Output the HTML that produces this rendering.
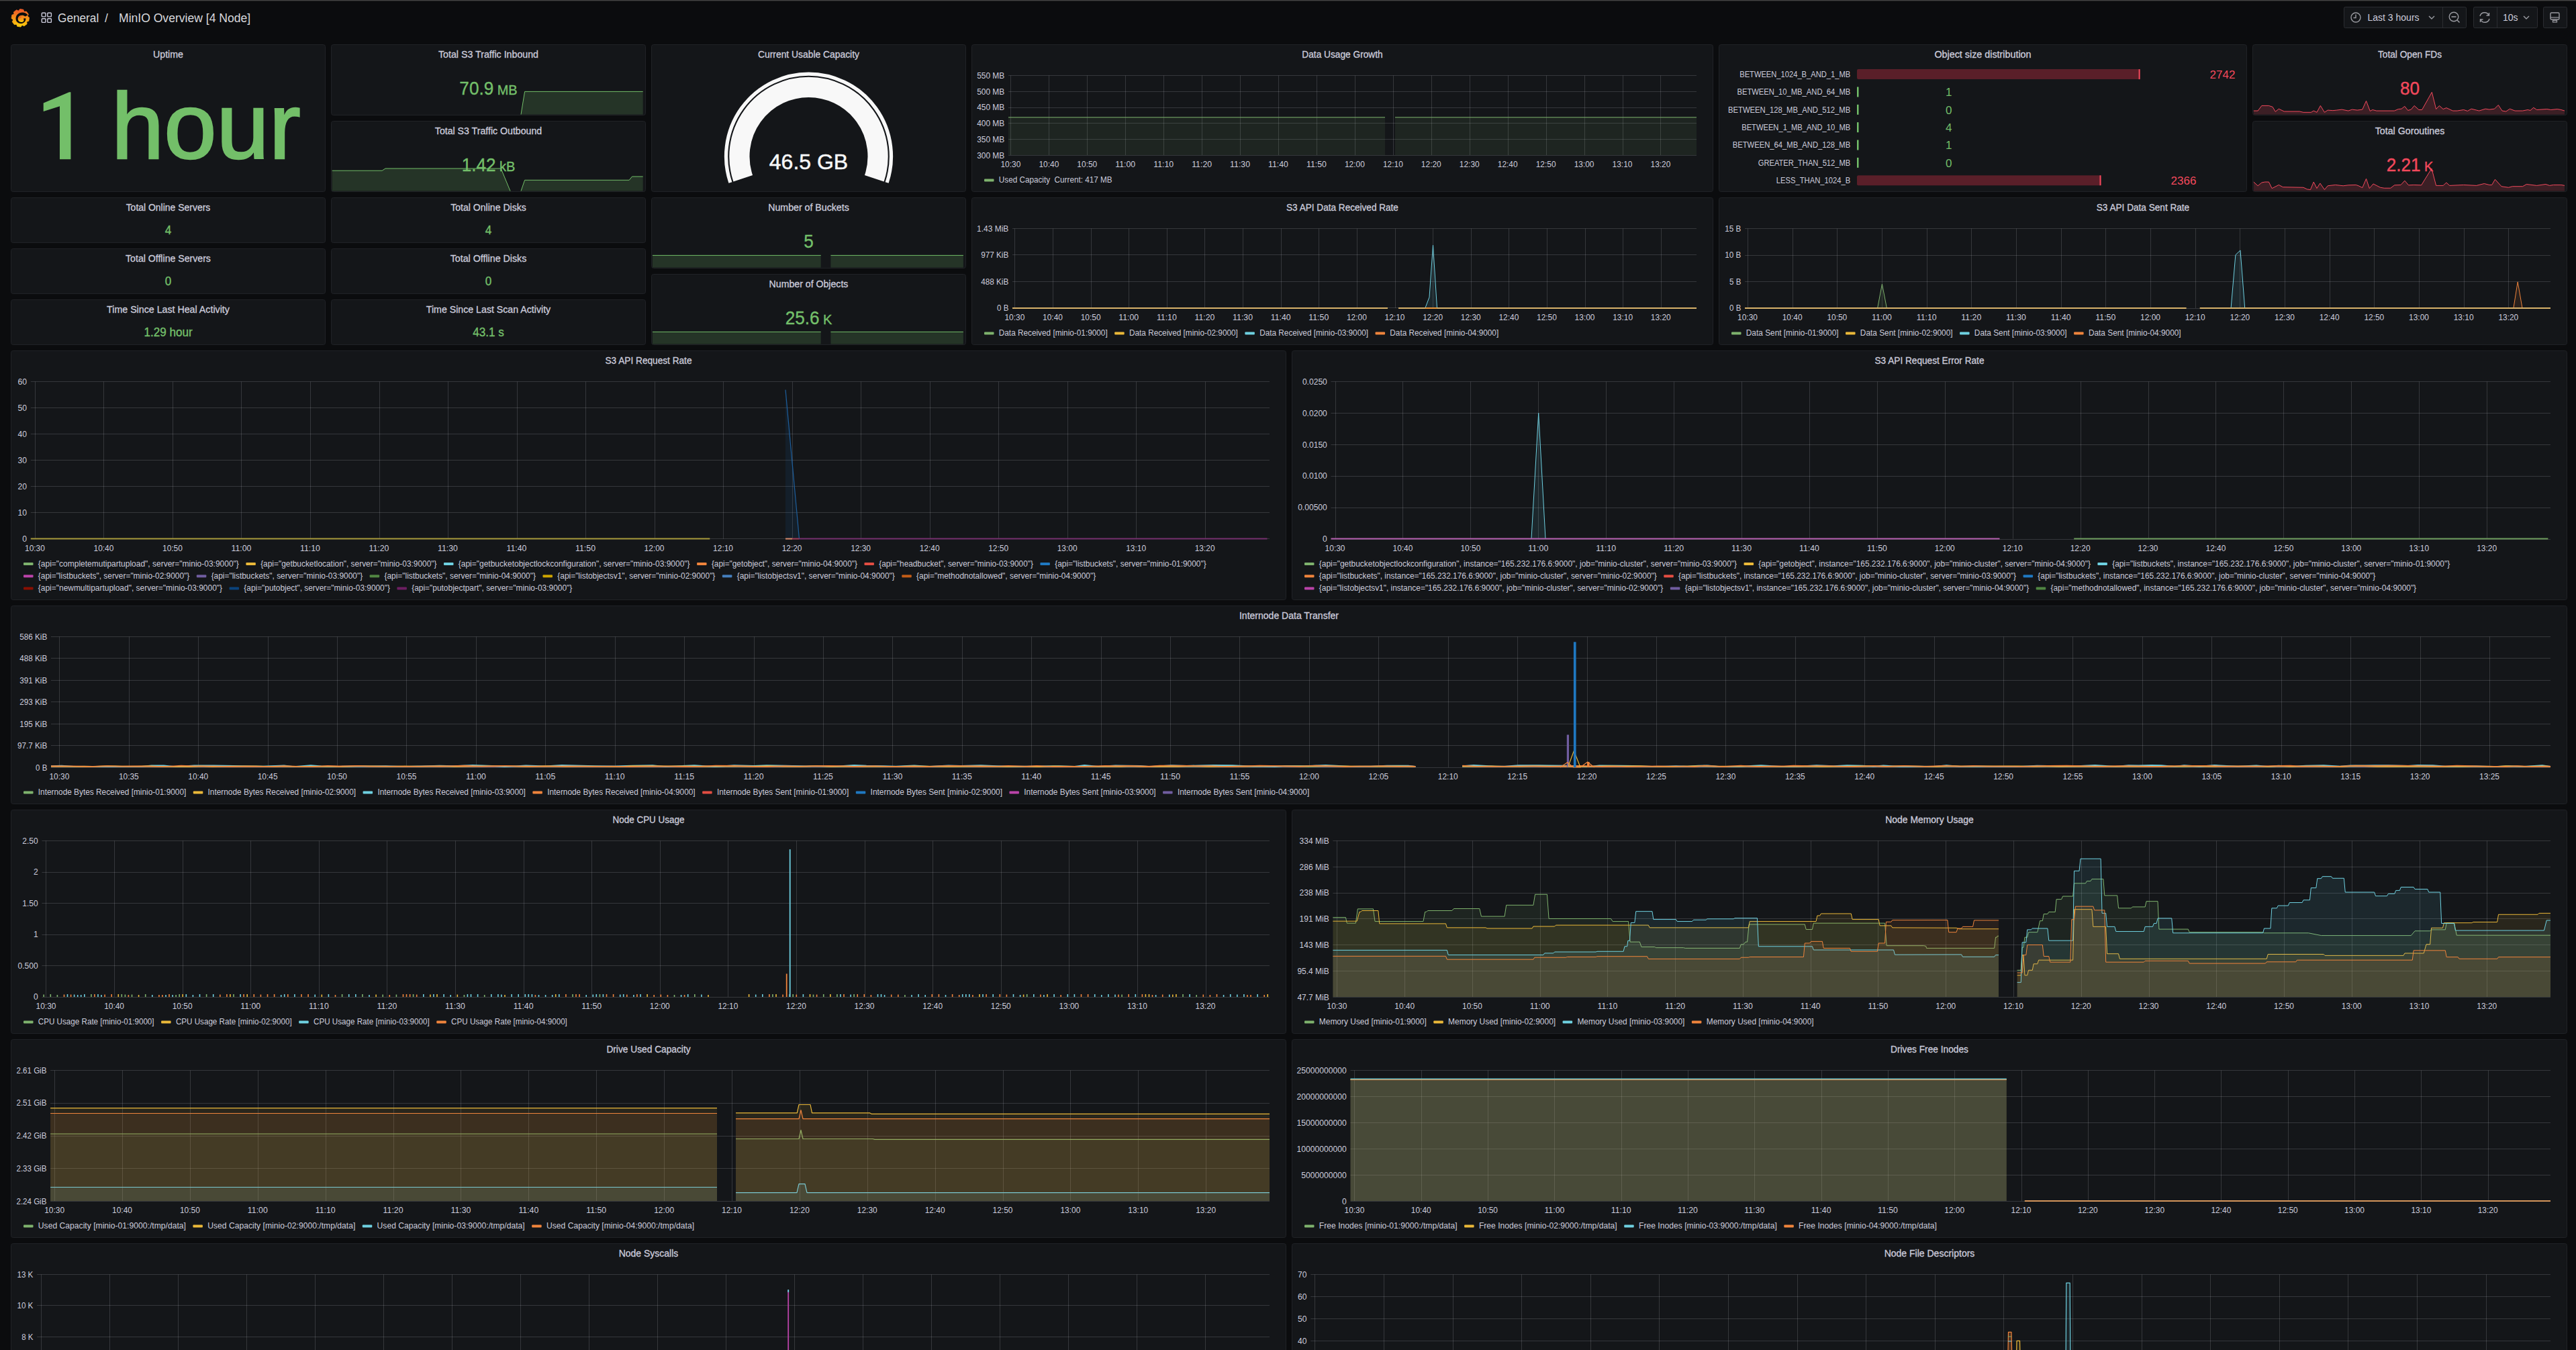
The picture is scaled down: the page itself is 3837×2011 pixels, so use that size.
<!DOCTYPE html>
<html><head><meta charset="utf-8"><title>MinIO Overview [4 Node]</title>
<style>
html,body{margin:0;padding:0;background:#0b0c0e;width:3837px;height:2011px;overflow:hidden}
svg{display:block;font-family:"Liberation Sans", sans-serif}
.tt{font-weight:normal}
</style></head><body>
<svg width="3837" height="2011" viewBox="0 0 3837 2011">
<rect x="0" y="0" width="3837" height="2011" fill="#0b0c0e"/>
<rect x="0" y="0" width="3837" height="1" fill="#454545"/>
<rect x="0" y="1" width="3837" height="1" fill="#1e1e1f"/>
<defs><linearGradient id="glg" x1="0" y1="0" x2="0" y2="1">
<stop offset="0" stop-color="#F05A28"/><stop offset="1" stop-color="#FBCA0A"/></linearGradient></defs>
<polygon points="27.47,16.58 29.64,13.52 34.86,14.31 36.02,17.88 35.52,17.58 39.22,16.94 42.36,21.19 40.66,24.53 40.52,23.97 43.58,26.14 42.79,31.36 39.22,32.52 39.52,32.02 40.16,35.72 35.91,38.86 32.57,37.16 33.13,37.02 30.96,40.08 25.74,39.29 24.58,35.72 25.08,36.02 21.38,36.66 18.24,32.41 19.94,29.07 20.08,29.63 17.02,27.46 17.81,22.24 21.38,21.08 21.08,21.58 20.44,17.88 24.69,14.74 28.03,16.44" fill="url(#glg)" stroke="url(#glg)" stroke-width="0.8" stroke-linejoin="round"/>
<circle cx="30.3" cy="26.8" r="11.2" fill="url(#glg)"/>
<path d="M 41.5 22.5 C 38 17.5 30 17.5 26 21.5 C 21.5 26 23 34.5 30.5 35 C 36 35.3 39 31 38.2 27.2 L 35.2 27.6 C 35.6 30.5 33.5 32.3 30.8 32.2 C 27 32 25.6 28 27.6 25.2 C 29.8 22.2 34.8 22 37.5 24.5 Z" fill="#0b0c0e"/>
<path d="M 34.8 29.2 A 3.2 3.2 0 1 1 31.6 25.4" fill="none" stroke="url(#glg)" stroke-width="2.2"/>
<rect x="62.3" y="19.3" width="5.6" height="5.6" rx="0.8" fill="none" stroke="#ccccdc" stroke-width="1.4"/>
<rect x="62.3" y="27.8" width="5.6" height="5.6" rx="0.8" fill="none" stroke="#ccccdc" stroke-width="1.4"/>
<rect x="70.8" y="19.3" width="5.6" height="5.6" rx="0.8" fill="none" stroke="#ccccdc" stroke-width="1.4"/>
<rect x="70.8" y="27.8" width="5.6" height="5.6" rx="0.8" fill="none" stroke="#ccccdc" stroke-width="1.4"/>
<text x="86" y="33" font-size="18" text-anchor="start" fill="#d8d9dd" textLength="61.21" lengthAdjust="spacingAndGlyphs">General</text>
<text x="156" y="33" font-size="17.6" fill="#d8d9dd">/</text>
<text x="177" y="33" font-size="18" text-anchor="start" fill="#d8d9dd" textLength="196.13" lengthAdjust="spacingAndGlyphs">MinIO Overview [4 Node]</text>
<rect x="3491.5" y="10.5" width="182" height="31" rx="2" fill="#141619" stroke="#2b2d31" stroke-width="1"/>
<line x1="3638.5" y1="11" x2="3638.5" y2="41" stroke="#2b2d31"/>
<rect x="3684.5" y="10.5" width="95" height="31" rx="2" fill="#141619" stroke="#2b2d31" stroke-width="1"/>
<line x1="3719.5" y1="11" x2="3719.5" y2="41" stroke="#2b2d31"/>
<rect x="3788.5" y="10.5" width="35" height="31" rx="2" fill="#141619" stroke="#2b2d31" stroke-width="1"/>
<circle cx="3509" cy="26" r="7" fill="none" stroke="#9a9ba1" stroke-width="1.4"/>
<polyline points="3509,21.5 3509,26.5 3505.5,26.5" fill="none" stroke="#9a9ba1" stroke-width="1.4"/>
<text x="3526.5" y="31" font-size="14" fill="#ccccdc">Last 3 hours</text>
<polyline points="3618,24 3622,28 3626,24" fill="none" stroke="#9a9ba1" stroke-width="1.4"/>
<circle cx="3655" cy="25" r="6.8" fill="none" stroke="#9a9ba1" stroke-width="1.4"/>
<line x1="3651.5" y1="25" x2="3658.5" y2="25" stroke="#9a9ba1" stroke-width="1.6"/>
<line x1="3660" y1="30" x2="3663.5" y2="33.5" stroke="#9a9ba1" stroke-width="1.6"/>
<path d="M 3694 24 A 7 7 0 0 1 3707 22.5 M 3708 28 A 7 7 0 0 1 3695 29.5" fill="none" stroke="#9a9ba1" stroke-width="1.4"/>
<polyline points="3707.5,19 3707.5,23 3703.5,23" fill="none" stroke="#9a9ba1" stroke-width="1.4"/>
<polyline points="3694.5,33 3694.5,29 3698.5,29" fill="none" stroke="#9a9ba1" stroke-width="1.4"/>
<text x="3728" y="31" font-size="14" fill="#ccccdc">10s</text>
<polyline points="3759,24 3763,28 3767,24" fill="none" stroke="#9a9ba1" stroke-width="1.4"/>
<rect x="3799" y="19" width="13" height="10" rx="1.5" fill="none" stroke="#9a9ba1" stroke-width="1.4"/>
<line x1="3799" y1="26" x2="3812" y2="26" stroke="#9a9ba1" stroke-width="1.2"/>
<rect x="3802.5" y="30.5" width="6" height="2.5" fill="none" stroke="#9a9ba1" stroke-width="1.2"/>
<rect x="16.5" y="66.5" width="468" height="219" rx="3" fill="#141619" stroke="#202226" stroke-width="1"/>
<text x="250.5" y="86" font-size="14" text-anchor="middle" fill="#ccccdc" class="tt" stroke="#ccccdc" stroke-width="0.3" textLength="44.95" lengthAdjust="spacingAndGlyphs">Uptime</text>
<polygon points="105.4,137.2 105.4,237.2 89,237.2 89,158.2 64.7,166 64.7,153.6 103,137.2" fill="#73BF69"/>
<text x="0" y="236" font-size="140" text-anchor="start" fill="#73BF69" stroke="#73BF69" stroke-width="2.6" transform="translate(166,0) scale(1.005,1)">hour</text>
<rect x="493.5" y="66.5" width="468" height="105" rx="3" fill="#141619" stroke="#202226" stroke-width="1"/>
<text x="727.5" y="86" font-size="14" text-anchor="middle" fill="#ccccdc" class="tt" stroke="#ccccdc" stroke-width="0.3" textLength="149.01" lengthAdjust="spacingAndGlyphs">Total S3 Traffic Inbound</text>
<polygon points="776,170.5 776,170.5 781.6,136.4 957.7,136.4 957.7,170.5" fill="#73BF69" fill-opacity="0.18" stroke="none"/>
<polyline points="776,170.5 781.6,136.4 957.7,136.4" fill="none" stroke="#73BF69" stroke-width="1" stroke-linejoin="round"/>
<text x="0" y="141" text-anchor="middle" fill="#73BF69" stroke="#73BF69" stroke-width="0.4" transform="translate(727.5,0) scale(0.95,1)"><tspan font-size="27.5">70.9</tspan><tspan font-size="21"> MB</tspan></text>
<rect x="493.5" y="180.5" width="468" height="105" rx="3" fill="#141619" stroke="#202226" stroke-width="1"/>
<text x="727.5" y="200" font-size="14" text-anchor="middle" fill="#ccccdc" class="tt" stroke="#ccccdc" stroke-width="0.3" textLength="159.35" lengthAdjust="spacingAndGlyphs">Total S3 Traffic Outbound</text>
<polygon points="494.7,284.5 494.7,254.2 569.2,254.2 574,251 746.2,251 760,284.5 776,284.5 781.6,268.3 937.2,268.3 941.5,263 957.7,263 957.7,284.5" fill="#73BF69" fill-opacity="0.18"/>
<polyline points="494.7,254.2 569.2,254.2 574,251 746.2,251 760,284.5" fill="none" stroke="#73BF69" stroke-width="1" stroke-linejoin="round"/>
<polyline points="776,284.5 781.6,268.3 937.2,268.3 941.5,263 957.7,263" fill="none" stroke="#73BF69" stroke-width="1" stroke-linejoin="round"/>
<text x="0" y="255" text-anchor="middle" fill="#73BF69" stroke="#73BF69" stroke-width="0.4" transform="translate(727.5,0) scale(0.95,1)"><tspan font-size="27.5">1.42</tspan><tspan font-size="21"> kB</tspan></text>
<rect x="16.5" y="294.5" width="468" height="67" rx="3" fill="#141619" stroke="#202226" stroke-width="1"/>
<text x="250.5" y="314" font-size="14" text-anchor="middle" fill="#ccccdc" class="tt" stroke="#ccccdc" stroke-width="0.3" textLength="125.69" lengthAdjust="spacingAndGlyphs">Total Online Servers</text>
<text x="0" y="349" text-anchor="middle" fill="#73BF69" stroke="#73BF69" stroke-width="0.4" transform="translate(250.5,0) scale(0.95,1)"><tspan font-size="18">4</tspan></text>
<rect x="493.5" y="294.5" width="468" height="67" rx="3" fill="#141619" stroke="#202226" stroke-width="1"/>
<text x="727.5" y="314" font-size="14" text-anchor="middle" fill="#ccccdc" class="tt" stroke="#ccccdc" stroke-width="0.3" textLength="112.55" lengthAdjust="spacingAndGlyphs">Total Online Disks</text>
<text x="0" y="349" text-anchor="middle" fill="#73BF69" stroke="#73BF69" stroke-width="0.4" transform="translate(727.5,0) scale(0.95,1)"><tspan font-size="18">4</tspan></text>
<rect x="16.5" y="370.5" width="468" height="67" rx="3" fill="#141619" stroke="#202226" stroke-width="1"/>
<text x="250.5" y="390" font-size="14" text-anchor="middle" fill="#ccccdc" class="tt" stroke="#ccccdc" stroke-width="0.3" textLength="126.85" lengthAdjust="spacingAndGlyphs">Total Offline Servers</text>
<text x="0" y="425" text-anchor="middle" fill="#73BF69" stroke="#73BF69" stroke-width="0.4" transform="translate(250.5,0) scale(0.95,1)"><tspan font-size="18">0</tspan></text>
<rect x="493.5" y="370.5" width="468" height="67" rx="3" fill="#141619" stroke="#202226" stroke-width="1"/>
<text x="727.5" y="390" font-size="14" text-anchor="middle" fill="#ccccdc" class="tt" stroke="#ccccdc" stroke-width="0.3" textLength="113.71" lengthAdjust="spacingAndGlyphs">Total Offline Disks</text>
<text x="0" y="425" text-anchor="middle" fill="#73BF69" stroke="#73BF69" stroke-width="0.4" transform="translate(727.5,0) scale(0.95,1)"><tspan font-size="18">0</tspan></text>
<rect x="16.5" y="446.5" width="468" height="67" rx="3" fill="#141619" stroke="#202226" stroke-width="1"/>
<text x="250.5" y="466" font-size="14" text-anchor="middle" fill="#ccccdc" class="tt" stroke="#ccccdc" stroke-width="0.3" textLength="182.74" lengthAdjust="spacingAndGlyphs">Time Since Last Heal Activity</text>
<text x="0" y="501" text-anchor="middle" fill="#73BF69" stroke="#73BF69" stroke-width="0.4" transform="translate(250.5,0) scale(0.95,1)"><tspan font-size="18">1.29 hour</tspan></text>
<rect x="493.5" y="446.5" width="468" height="67" rx="3" fill="#141619" stroke="#202226" stroke-width="1"/>
<text x="727.5" y="466" font-size="14" text-anchor="middle" fill="#ccccdc" class="tt" stroke="#ccccdc" stroke-width="0.3" textLength="185.31" lengthAdjust="spacingAndGlyphs">Time Since Last Scan Activity</text>
<text x="0" y="501" text-anchor="middle" fill="#73BF69" stroke="#73BF69" stroke-width="0.4" transform="translate(727.5,0) scale(0.95,1)"><tspan font-size="18">43.1 s</tspan></text>
<rect x="970.5" y="294.5" width="468" height="105" rx="3" fill="#141619" stroke="#202226" stroke-width="1"/>
<text x="1204.5" y="314" font-size="14" text-anchor="middle" fill="#ccccdc" class="tt" stroke="#ccccdc" stroke-width="0.3" textLength="120.54" lengthAdjust="spacingAndGlyphs">Number of Buckets</text>
<polygon points="971.9,398.5 971.9,380.4 1222.7,380.4 1222.7,398.5" fill="#73BF69" fill-opacity="0.18" stroke="none"/>
<polyline points="971.9,380.4 1222.7,380.4" fill="none" stroke="#73BF69" stroke-width="1" stroke-linejoin="round"/>
<polygon points="1237.4,398.5 1237.4,380.4 1434.9,380.4 1434.9,398.5" fill="#73BF69" fill-opacity="0.18" stroke="none"/>
<polyline points="1237.4,380.4 1434.9,380.4" fill="none" stroke="#73BF69" stroke-width="1" stroke-linejoin="round"/>
<text x="0" y="369" text-anchor="middle" fill="#73BF69" stroke="#73BF69" stroke-width="0.4" transform="translate(1204.5,0) scale(0.95,1)"><tspan font-size="27.5">5</tspan></text>
<rect x="970.5" y="408.5" width="468" height="105" rx="3" fill="#141619" stroke="#202226" stroke-width="1"/>
<text x="1204.5" y="428" font-size="14" text-anchor="middle" fill="#ccccdc" class="tt" stroke="#ccccdc" stroke-width="0.3" textLength="117.78" lengthAdjust="spacingAndGlyphs">Number of Objects</text>
<polygon points="971.9,512.5 971.9,494.4 1222.7,494.4 1222.7,512.5" fill="#73BF69" fill-opacity="0.18" stroke="none"/>
<polyline points="971.9,494.4 1222.7,494.4" fill="none" stroke="#73BF69" stroke-width="1" stroke-linejoin="round"/>
<polygon points="1237.4,512.5 1237.4,494.4 1434.9,494.4 1434.9,512.5" fill="#73BF69" fill-opacity="0.18" stroke="none"/>
<polyline points="1237.4,494.4 1434.9,494.4" fill="none" stroke="#73BF69" stroke-width="1" stroke-linejoin="round"/>
<text x="0" y="483" text-anchor="middle" fill="#73BF69" stroke="#73BF69" stroke-width="0.4" transform="translate(1204.5,0) scale(0.95,1)"><tspan font-size="27.5">25.6</tspan><tspan font-size="21"> K</tspan></text>
<rect x="3355.5" y="66.5" width="468" height="105" rx="3" fill="#141619" stroke="#202226" stroke-width="1"/>
<text x="3589.5" y="86" font-size="14" text-anchor="middle" fill="#ccccdc" class="tt" stroke="#ccccdc" stroke-width="0.3" textLength="95.13" lengthAdjust="spacingAndGlyphs">Total Open FDs</text>
<polygon points="3356.84,170.5 3356.84,165.05 3363.14,165.05 3368.87,157.41 3379.38,157.41 3385.11,159.32 3389.31,166.38 3394.28,162.18 3402.3,166 3425.22,166 3430.95,167.34 3442.41,167.34 3446.23,165.05 3451,167.34 3456.35,157.41 3462.46,167.34 3467.24,164.09 3474.88,164.66 3480.61,164.09 3488.25,163.14 3497.8,165.05 3503.52,163.14 3511.16,164.09 3518.8,163.14 3524.53,150.34 3530.26,165.43 3534.08,163.52 3539.81,165.05 3566.55,165.05 3572.28,162.56 3577.06,162.18 3581.83,158.36 3586.61,164.47 3591.38,163.14 3596.16,157.41 3602.84,163.52 3607.62,163.52 3622.32,137.35 3628.63,162.56 3633.4,157.41 3639.13,162.56 3643.91,160.65 3653.45,165.05 3660.14,165.05 3669.69,163.52 3675.42,165.43 3681.15,162.18 3688.79,164.09 3692.61,165.05 3702.16,162.18 3707.89,163.14 3715.53,162.18 3721.26,156.45 3726.99,165.05 3732.72,166 3738.45,162.18 3746.09,165.05 3757.55,165.05 3765.19,163.52 3769.01,164.47 3773.78,160.27 3778.56,163.52 3793.84,162.56 3799.57,163.52 3809.11,162.56 3814.84,163.52 3820,165.05 3820,170.5" fill="#F2495C" fill-opacity="0.18" stroke="none"/>
<polyline points="3356.84,165.05 3363.14,165.05 3368.87,157.41 3379.38,157.41 3385.11,159.32 3389.31,166.38 3394.28,162.18 3402.3,166 3425.22,166 3430.95,167.34 3442.41,167.34 3446.23,165.05 3451,167.34 3456.35,157.41 3462.46,167.34 3467.24,164.09 3474.88,164.66 3480.61,164.09 3488.25,163.14 3497.8,165.05 3503.52,163.14 3511.16,164.09 3518.8,163.14 3524.53,150.34 3530.26,165.43 3534.08,163.52 3539.81,165.05 3566.55,165.05 3572.28,162.56 3577.06,162.18 3581.83,158.36 3586.61,164.47 3591.38,163.14 3596.16,157.41 3602.84,163.52 3607.62,163.52 3622.32,137.35 3628.63,162.56 3633.4,157.41 3639.13,162.56 3643.91,160.65 3653.45,165.05 3660.14,165.05 3669.69,163.52 3675.42,165.43 3681.15,162.18 3688.79,164.09 3692.61,165.05 3702.16,162.18 3707.89,163.14 3715.53,162.18 3721.26,156.45 3726.99,165.05 3732.72,166 3738.45,162.18 3746.09,165.05 3757.55,165.05 3765.19,163.52 3769.01,164.47 3773.78,160.27 3778.56,163.52 3793.84,162.56 3799.57,163.52 3809.11,162.56 3814.84,163.52 3820,165.05" fill="none" stroke="#F2495C" stroke-width="1" stroke-linejoin="round"/>
<text x="0" y="141" text-anchor="middle" fill="#F2495C" stroke="#F2495C" stroke-width="0.4" transform="translate(3589.5,0) scale(0.95,1)"><tspan font-size="27.5">80</tspan></text>
<rect x="3355.5" y="180.5" width="468" height="105" rx="3" fill="#141619" stroke="#202226" stroke-width="1"/>
<text x="3589.5" y="200" font-size="14" text-anchor="middle" fill="#ccccdc" class="tt" stroke="#ccccdc" stroke-width="0.3" textLength="103.49" lengthAdjust="spacingAndGlyphs">Total Goroutines</text>
<polygon points="3356.84,284.5 3356.84,271.05 3363.14,276.78 3368.87,272 3373.65,271.05 3379.38,271.05 3384.15,280.6 3394.28,275.44 3400.39,278.69 3430.95,279.26 3436.68,281.93 3441.45,282.51 3446.23,271.05 3451,280.6 3455.78,272.96 3462.46,282.51 3467.24,276.78 3478.7,275.44 3490.16,276.78 3497.8,275.82 3509.25,275.44 3513.07,276.78 3518.8,279.64 3524.53,266.27 3529.31,280.6 3535.04,273.91 3545.54,279.26 3551.27,280.22 3560.82,280.22 3566.55,275.82 3576.1,275.44 3581.83,269.14 3587.56,275.82 3595.2,275.44 3606.66,275.82 3621.94,250.99 3628.63,276.4 3639.13,276.4 3643.91,272 3648.68,276.4 3669.69,275.44 3688.79,276.4 3700.25,273.53 3707.89,275.44 3711.71,275.44 3716.48,267.23 3726.03,277.73 3736.54,279.26 3742.27,277.73 3757.55,277.73 3763.28,274.49 3778.56,276.4 3791.93,274.49 3797.66,276.4 3803.39,275.44 3814.84,275.44 3820,276.4 3820,284.5" fill="#F2495C" fill-opacity="0.18" stroke="none"/>
<polyline points="3356.84,271.05 3363.14,276.78 3368.87,272 3373.65,271.05 3379.38,271.05 3384.15,280.6 3394.28,275.44 3400.39,278.69 3430.95,279.26 3436.68,281.93 3441.45,282.51 3446.23,271.05 3451,280.6 3455.78,272.96 3462.46,282.51 3467.24,276.78 3478.7,275.44 3490.16,276.78 3497.8,275.82 3509.25,275.44 3513.07,276.78 3518.8,279.64 3524.53,266.27 3529.31,280.6 3535.04,273.91 3545.54,279.26 3551.27,280.22 3560.82,280.22 3566.55,275.82 3576.1,275.44 3581.83,269.14 3587.56,275.82 3595.2,275.44 3606.66,275.82 3621.94,250.99 3628.63,276.4 3639.13,276.4 3643.91,272 3648.68,276.4 3669.69,275.44 3688.79,276.4 3700.25,273.53 3707.89,275.44 3711.71,275.44 3716.48,267.23 3726.03,277.73 3736.54,279.26 3742.27,277.73 3757.55,277.73 3763.28,274.49 3778.56,276.4 3791.93,274.49 3797.66,276.4 3803.39,275.44 3814.84,275.44 3820,276.4" fill="none" stroke="#F2495C" stroke-width="1" stroke-linejoin="round"/>
<text x="0" y="255" text-anchor="middle" fill="#F2495C" stroke="#F2495C" stroke-width="0.4" transform="translate(3589.5,0) scale(0.95,1)"><tspan font-size="27.5">2.21</tspan><tspan font-size="21"> K</tspan></text>
<rect x="970.5" y="66.5" width="468" height="219" rx="3" fill="#141619" stroke="#202226" stroke-width="1"/>
<text x="1204.5" y="86" font-size="14" text-anchor="middle" fill="#ccccdc" class="tt" stroke="#ccccdc" stroke-width="0.3" textLength="150.96" lengthAdjust="spacingAndGlyphs">Current Usable Capacity</text>
<path d="M 1087.9 272.01 A 122.95 122.95 0 1 1 1321.1 272.01" fill="none" stroke="#F8F8F8" stroke-width="5.3"/>
<path d="M 1106.73 265.71 A 103.1 103.1 0 1 1 1302.27 265.71" fill="none" stroke="#F8F8F8" stroke-width="30.2"/>
<text x="1204.5" y="252" font-size="32" text-anchor="middle" fill="#F8F8F8" stroke="#F8F8F8" stroke-width="0.5">46.5 GB</text>
<rect x="2560.5" y="66.5" width="786" height="219" rx="3" fill="#141619" stroke="#202226" stroke-width="1"/>
<text x="2953.5" y="86" font-size="14" text-anchor="middle" fill="#ccccdc" class="tt" stroke="#ccccdc" stroke-width="0.3" textLength="144.13" lengthAdjust="spacingAndGlyphs">Object size distribution</text>
<text x="2756.2" y="114.9" font-size="12" text-anchor="end" fill="#ccccdc" textLength="165" lengthAdjust="spacingAndGlyphs">BETWEEN_1024_B_AND_1_MB</text>
<rect x="2766" y="103.1" width="421.6" height="15" rx="2" fill="#5a1f29"/>
<rect x="3185.6" y="103.1" width="2" height="15" fill="#F2495C"/>
<text x="3291.6" y="116.8" font-size="17" text-anchor="start" fill="#F2495C">2742</text>
<text x="2756.2" y="141.25" font-size="12" text-anchor="end" fill="#ccccdc" textLength="168.73" lengthAdjust="spacingAndGlyphs">BETWEEN_10_MB_AND_64_MB</text>
<rect x="2766" y="129.45" width="2.5" height="15" fill="#73BF69"/>
<text x="2902.8" y="143.15" font-size="17" text-anchor="middle" fill="#73BF69">1</text>
<text x="2756.2" y="167.6" font-size="12" text-anchor="end" fill="#ccccdc" textLength="182.22" lengthAdjust="spacingAndGlyphs">BETWEEN_128_MB_AND_512_MB</text>
<rect x="2766" y="155.8" width="2.5" height="15" fill="#73BF69"/>
<text x="2902.8" y="169.5" font-size="17" text-anchor="middle" fill="#73BF69">0</text>
<text x="2756.2" y="193.95" font-size="12" text-anchor="end" fill="#ccccdc" textLength="161.99" lengthAdjust="spacingAndGlyphs">BETWEEN_1_MB_AND_10_MB</text>
<rect x="2766" y="182.15" width="2.5" height="15" fill="#73BF69"/>
<text x="2902.8" y="195.85" font-size="17" text-anchor="middle" fill="#73BF69">4</text>
<text x="2756.2" y="220.3" font-size="12" text-anchor="end" fill="#ccccdc" textLength="175.47" lengthAdjust="spacingAndGlyphs">BETWEEN_64_MB_AND_128_MB</text>
<rect x="2766" y="208.5" width="2.5" height="15" fill="#73BF69"/>
<text x="2902.8" y="222.2" font-size="17" text-anchor="middle" fill="#73BF69">1</text>
<text x="2756.2" y="246.65" font-size="12" text-anchor="end" fill="#ccccdc" textLength="137.48" lengthAdjust="spacingAndGlyphs">GREATER_THAN_512_MB</text>
<rect x="2766" y="234.85" width="2.5" height="15" fill="#73BF69"/>
<text x="2902.8" y="248.55" font-size="17" text-anchor="middle" fill="#73BF69">0</text>
<text x="2756.2" y="273" font-size="12" text-anchor="end" fill="#ccccdc" textLength="110.45" lengthAdjust="spacingAndGlyphs">LESS_THAN_1024_B</text>
<rect x="2766" y="261.2" width="363.5" height="15" rx="2" fill="#5a1f29"/>
<rect x="3127.5" y="261.2" width="2" height="15" fill="#F2495C"/>
<text x="3233.6" y="274.9" font-size="17" text-anchor="start" fill="#F2495C">2366</text>
<rect x="1447.5" y="66.5" width="1104" height="219" rx="3" fill="#141619" stroke="#202226" stroke-width="1"/>
<text x="1999.5" y="86" font-size="14" text-anchor="middle" fill="#ccccdc" class="tt" stroke="#ccccdc" stroke-width="0.3" textLength="120.29" lengthAdjust="spacingAndGlyphs">Data Usage Growth</text>
<line x1="1502" y1="112.5" x2="2527" y2="112.5" stroke="rgba(240,250,255,0.15)" stroke-width="1"/>
<text x="1496.3" y="116.7" font-size="12" text-anchor="end" fill="#ccccdc" textLength="41.16" lengthAdjust="spacingAndGlyphs">550 MB</text>
<line x1="1502" y1="136.5" x2="2527" y2="136.5" stroke="rgba(240,250,255,0.15)" stroke-width="1"/>
<text x="1496.3" y="140.52" font-size="12" text-anchor="end" fill="#ccccdc" textLength="41.16" lengthAdjust="spacingAndGlyphs">500 MB</text>
<line x1="1502" y1="160.5" x2="2527" y2="160.5" stroke="rgba(240,250,255,0.15)" stroke-width="1"/>
<text x="1496.3" y="164.34" font-size="12" text-anchor="end" fill="#ccccdc" textLength="41.16" lengthAdjust="spacingAndGlyphs">450 MB</text>
<line x1="1502" y1="183.5" x2="2527" y2="183.5" stroke="rgba(240,250,255,0.15)" stroke-width="1"/>
<text x="1496.3" y="188.16" font-size="12" text-anchor="end" fill="#ccccdc" textLength="41.16" lengthAdjust="spacingAndGlyphs">400 MB</text>
<line x1="1502" y1="207.5" x2="2527" y2="207.5" stroke="rgba(240,250,255,0.15)" stroke-width="1"/>
<text x="1496.3" y="211.98" font-size="12" text-anchor="end" fill="#ccccdc" textLength="41.16" lengthAdjust="spacingAndGlyphs">350 MB</text>
<line x1="1502" y1="231.5" x2="2527" y2="231.5" stroke="rgba(240,250,255,0.15)" stroke-width="1"/>
<text x="1496.3" y="235.8" font-size="12" text-anchor="end" fill="#ccccdc" textLength="41.16" lengthAdjust="spacingAndGlyphs">300 MB</text>
<line x1="1505.5" y1="112.5" x2="1505.5" y2="231" stroke="rgba(240,250,255,0.15)" stroke-width="1"/>
<text x="1505.42" y="249.2" font-size="12" text-anchor="middle" fill="#ccccdc" textLength="29.88" lengthAdjust="spacingAndGlyphs">10:30</text>
<line x1="1562.5" y1="112.5" x2="1562.5" y2="231" stroke="rgba(240,250,255,0.15)" stroke-width="1"/>
<text x="1562.36" y="249.2" font-size="12" text-anchor="middle" fill="#ccccdc" textLength="29.88" lengthAdjust="spacingAndGlyphs">10:40</text>
<line x1="1619.5" y1="112.5" x2="1619.5" y2="231" stroke="rgba(240,250,255,0.15)" stroke-width="1"/>
<text x="1619.31" y="249.2" font-size="12" text-anchor="middle" fill="#ccccdc" textLength="29.88" lengthAdjust="spacingAndGlyphs">10:50</text>
<line x1="1676.5" y1="112.5" x2="1676.5" y2="231" stroke="rgba(240,250,255,0.15)" stroke-width="1"/>
<text x="1676.25" y="249.2" font-size="12" text-anchor="middle" fill="#ccccdc" textLength="29.88" lengthAdjust="spacingAndGlyphs">11:00</text>
<line x1="1733.5" y1="112.5" x2="1733.5" y2="231" stroke="rgba(240,250,255,0.15)" stroke-width="1"/>
<text x="1733.19" y="249.2" font-size="12" text-anchor="middle" fill="#ccccdc" textLength="29.88" lengthAdjust="spacingAndGlyphs">11:10</text>
<line x1="1790.5" y1="112.5" x2="1790.5" y2="231" stroke="rgba(240,250,255,0.15)" stroke-width="1"/>
<text x="1790.14" y="249.2" font-size="12" text-anchor="middle" fill="#ccccdc" textLength="29.88" lengthAdjust="spacingAndGlyphs">11:20</text>
<line x1="1847.5" y1="112.5" x2="1847.5" y2="231" stroke="rgba(240,250,255,0.15)" stroke-width="1"/>
<text x="1847.08" y="249.2" font-size="12" text-anchor="middle" fill="#ccccdc" textLength="29.88" lengthAdjust="spacingAndGlyphs">11:30</text>
<line x1="1904.5" y1="112.5" x2="1904.5" y2="231" stroke="rgba(240,250,255,0.15)" stroke-width="1"/>
<text x="1904.03" y="249.2" font-size="12" text-anchor="middle" fill="#ccccdc" textLength="29.88" lengthAdjust="spacingAndGlyphs">11:40</text>
<line x1="1961.5" y1="112.5" x2="1961.5" y2="231" stroke="rgba(240,250,255,0.15)" stroke-width="1"/>
<text x="1960.97" y="249.2" font-size="12" text-anchor="middle" fill="#ccccdc" textLength="29.88" lengthAdjust="spacingAndGlyphs">11:50</text>
<line x1="2018.5" y1="112.5" x2="2018.5" y2="231" stroke="rgba(240,250,255,0.15)" stroke-width="1"/>
<text x="2017.92" y="249.2" font-size="12" text-anchor="middle" fill="#ccccdc" textLength="29.88" lengthAdjust="spacingAndGlyphs">12:00</text>
<line x1="2075.5" y1="112.5" x2="2075.5" y2="231" stroke="rgba(240,250,255,0.15)" stroke-width="1"/>
<text x="2074.86" y="249.2" font-size="12" text-anchor="middle" fill="#ccccdc" textLength="29.88" lengthAdjust="spacingAndGlyphs">12:10</text>
<line x1="2132.5" y1="112.5" x2="2132.5" y2="231" stroke="rgba(240,250,255,0.15)" stroke-width="1"/>
<text x="2131.81" y="249.2" font-size="12" text-anchor="middle" fill="#ccccdc" textLength="29.88" lengthAdjust="spacingAndGlyphs">12:20</text>
<line x1="2189.5" y1="112.5" x2="2189.5" y2="231" stroke="rgba(240,250,255,0.15)" stroke-width="1"/>
<text x="2188.75" y="249.2" font-size="12" text-anchor="middle" fill="#ccccdc" textLength="29.88" lengthAdjust="spacingAndGlyphs">12:30</text>
<line x1="2246.5" y1="112.5" x2="2246.5" y2="231" stroke="rgba(240,250,255,0.15)" stroke-width="1"/>
<text x="2245.69" y="249.2" font-size="12" text-anchor="middle" fill="#ccccdc" textLength="29.88" lengthAdjust="spacingAndGlyphs">12:40</text>
<line x1="2303.5" y1="112.5" x2="2303.5" y2="231" stroke="rgba(240,250,255,0.15)" stroke-width="1"/>
<text x="2302.64" y="249.2" font-size="12" text-anchor="middle" fill="#ccccdc" textLength="29.88" lengthAdjust="spacingAndGlyphs">12:50</text>
<line x1="2360.5" y1="112.5" x2="2360.5" y2="231" stroke="rgba(240,250,255,0.15)" stroke-width="1"/>
<text x="2359.58" y="249.2" font-size="12" text-anchor="middle" fill="#ccccdc" textLength="29.88" lengthAdjust="spacingAndGlyphs">13:00</text>
<line x1="2417.5" y1="112.5" x2="2417.5" y2="231" stroke="rgba(240,250,255,0.15)" stroke-width="1"/>
<text x="2416.53" y="249.2" font-size="12" text-anchor="middle" fill="#ccccdc" textLength="29.88" lengthAdjust="spacingAndGlyphs">13:10</text>
<line x1="2473.5" y1="112.5" x2="2473.5" y2="231" stroke="rgba(240,250,255,0.15)" stroke-width="1"/>
<text x="2473.47" y="249.2" font-size="12" text-anchor="middle" fill="#ccccdc" textLength="29.88" lengthAdjust="spacingAndGlyphs">13:20</text>
<rect x="1466" y="266.5" width="14.5" height="4" rx="1" fill="#7EB26D"/>
<text x="1487.8" y="271.9" font-size="12" text-anchor="start" fill="#ccccdc" textLength="168.85" lengthAdjust="spacingAndGlyphs">Used Capacity  Current: 417 MB</text>
<polygon points="1502,231 1502,174.8 2063,174.8 2063,231" fill="#7EB26D" fill-opacity="0.1" stroke="none"/>
<polyline points="1502,174.8 2063,174.8" fill="none" stroke="#7EB26D" stroke-width="1" stroke-linejoin="round"/>
<polygon points="2078,231 2078,174.8 2527,174.8 2527,231" fill="#7EB26D" fill-opacity="0.1" stroke="none"/>
<polyline points="2078,174.8 2527,174.8" fill="none" stroke="#7EB26D" stroke-width="1" stroke-linejoin="round"/>
<rect x="1447.5" y="294.5" width="1104" height="219" rx="3" fill="#141619" stroke="#202226" stroke-width="1"/>
<text x="1999.5" y="314" font-size="14" text-anchor="middle" fill="#ccccdc" class="tt" stroke="#ccccdc" stroke-width="0.3" textLength="166.89" lengthAdjust="spacingAndGlyphs">S3 API Data Received Rate</text>
<line x1="1508" y1="340.5" x2="2527" y2="340.5" stroke="rgba(240,250,255,0.15)" stroke-width="1"/>
<text x="1502.3" y="344.7" font-size="12" text-anchor="end" fill="#ccccdc" textLength="47.25" lengthAdjust="spacingAndGlyphs">1.43 MiB</text>
<line x1="1508" y1="379.5" x2="2527" y2="379.5" stroke="rgba(240,250,255,0.15)" stroke-width="1"/>
<text x="1502.3" y="384.1" font-size="12" text-anchor="end" fill="#ccccdc" textLength="41.13" lengthAdjust="spacingAndGlyphs">977 KiB</text>
<line x1="1508" y1="419.5" x2="2527" y2="419.5" stroke="rgba(240,250,255,0.15)" stroke-width="1"/>
<text x="1502.3" y="423.5" font-size="12" text-anchor="end" fill="#ccccdc" textLength="41.13" lengthAdjust="spacingAndGlyphs">488 KiB</text>
<line x1="1508" y1="458.5" x2="2527" y2="458.5" stroke="rgba(240,250,255,0.15)" stroke-width="1"/>
<text x="1502.3" y="462.9" font-size="12" text-anchor="end" fill="#ccccdc" textLength="17.2" lengthAdjust="spacingAndGlyphs">0 B</text>
<line x1="1511.5" y1="340.5" x2="1511.5" y2="459" stroke="rgba(240,250,255,0.15)" stroke-width="1"/>
<text x="1511.4" y="477.2" font-size="12" text-anchor="middle" fill="#ccccdc" textLength="29.88" lengthAdjust="spacingAndGlyphs">10:30</text>
<line x1="1568.5" y1="340.5" x2="1568.5" y2="459" stroke="rgba(240,250,255,0.15)" stroke-width="1"/>
<text x="1568.01" y="477.2" font-size="12" text-anchor="middle" fill="#ccccdc" textLength="29.88" lengthAdjust="spacingAndGlyphs">10:40</text>
<line x1="1625.5" y1="340.5" x2="1625.5" y2="459" stroke="rgba(240,250,255,0.15)" stroke-width="1"/>
<text x="1624.62" y="477.2" font-size="12" text-anchor="middle" fill="#ccccdc" textLength="29.88" lengthAdjust="spacingAndGlyphs">10:50</text>
<line x1="1681.5" y1="340.5" x2="1681.5" y2="459" stroke="rgba(240,250,255,0.15)" stroke-width="1"/>
<text x="1681.23" y="477.2" font-size="12" text-anchor="middle" fill="#ccccdc" textLength="29.88" lengthAdjust="spacingAndGlyphs">11:00</text>
<line x1="1738.5" y1="340.5" x2="1738.5" y2="459" stroke="rgba(240,250,255,0.15)" stroke-width="1"/>
<text x="1737.84" y="477.2" font-size="12" text-anchor="middle" fill="#ccccdc" textLength="29.88" lengthAdjust="spacingAndGlyphs">11:10</text>
<line x1="1794.5" y1="340.5" x2="1794.5" y2="459" stroke="rgba(240,250,255,0.15)" stroke-width="1"/>
<text x="1794.45" y="477.2" font-size="12" text-anchor="middle" fill="#ccccdc" textLength="29.88" lengthAdjust="spacingAndGlyphs">11:20</text>
<line x1="1851.5" y1="340.5" x2="1851.5" y2="459" stroke="rgba(240,250,255,0.15)" stroke-width="1"/>
<text x="1851.06" y="477.2" font-size="12" text-anchor="middle" fill="#ccccdc" textLength="29.88" lengthAdjust="spacingAndGlyphs">11:30</text>
<line x1="1908.5" y1="340.5" x2="1908.5" y2="459" stroke="rgba(240,250,255,0.15)" stroke-width="1"/>
<text x="1907.67" y="477.2" font-size="12" text-anchor="middle" fill="#ccccdc" textLength="29.88" lengthAdjust="spacingAndGlyphs">11:40</text>
<line x1="1964.5" y1="340.5" x2="1964.5" y2="459" stroke="rgba(240,250,255,0.15)" stroke-width="1"/>
<text x="1964.29" y="477.2" font-size="12" text-anchor="middle" fill="#ccccdc" textLength="29.88" lengthAdjust="spacingAndGlyphs">11:50</text>
<line x1="2021.5" y1="340.5" x2="2021.5" y2="459" stroke="rgba(240,250,255,0.15)" stroke-width="1"/>
<text x="2020.9" y="477.2" font-size="12" text-anchor="middle" fill="#ccccdc" textLength="29.88" lengthAdjust="spacingAndGlyphs">12:00</text>
<line x1="2078.5" y1="340.5" x2="2078.5" y2="459" stroke="rgba(240,250,255,0.15)" stroke-width="1"/>
<text x="2077.51" y="477.2" font-size="12" text-anchor="middle" fill="#ccccdc" textLength="29.88" lengthAdjust="spacingAndGlyphs">12:10</text>
<line x1="2134.5" y1="340.5" x2="2134.5" y2="459" stroke="rgba(240,250,255,0.15)" stroke-width="1"/>
<text x="2134.12" y="477.2" font-size="12" text-anchor="middle" fill="#ccccdc" textLength="29.88" lengthAdjust="spacingAndGlyphs">12:20</text>
<line x1="2191.5" y1="340.5" x2="2191.5" y2="459" stroke="rgba(240,250,255,0.15)" stroke-width="1"/>
<text x="2190.73" y="477.2" font-size="12" text-anchor="middle" fill="#ccccdc" textLength="29.88" lengthAdjust="spacingAndGlyphs">12:30</text>
<line x1="2247.5" y1="340.5" x2="2247.5" y2="459" stroke="rgba(240,250,255,0.15)" stroke-width="1"/>
<text x="2247.34" y="477.2" font-size="12" text-anchor="middle" fill="#ccccdc" textLength="29.88" lengthAdjust="spacingAndGlyphs">12:40</text>
<line x1="2304.5" y1="340.5" x2="2304.5" y2="459" stroke="rgba(240,250,255,0.15)" stroke-width="1"/>
<text x="2303.95" y="477.2" font-size="12" text-anchor="middle" fill="#ccccdc" textLength="29.88" lengthAdjust="spacingAndGlyphs">12:50</text>
<line x1="2361.5" y1="340.5" x2="2361.5" y2="459" stroke="rgba(240,250,255,0.15)" stroke-width="1"/>
<text x="2360.56" y="477.2" font-size="12" text-anchor="middle" fill="#ccccdc" textLength="29.88" lengthAdjust="spacingAndGlyphs">13:00</text>
<line x1="2417.5" y1="340.5" x2="2417.5" y2="459" stroke="rgba(240,250,255,0.15)" stroke-width="1"/>
<text x="2417.17" y="477.2" font-size="12" text-anchor="middle" fill="#ccccdc" textLength="29.88" lengthAdjust="spacingAndGlyphs">13:10</text>
<line x1="2474.5" y1="340.5" x2="2474.5" y2="459" stroke="rgba(240,250,255,0.15)" stroke-width="1"/>
<text x="2473.79" y="477.2" font-size="12" text-anchor="middle" fill="#ccccdc" textLength="29.88" lengthAdjust="spacingAndGlyphs">13:20</text>
<rect x="1466" y="494.5" width="14.5" height="4" rx="1" fill="#7EB26D"/>
<text x="1487.8" y="499.9" font-size="12" text-anchor="start" fill="#ccccdc" textLength="161.88" lengthAdjust="spacingAndGlyphs">Data Received [minio-01:9000]</text>
<rect x="1660.18" y="494.5" width="14.5" height="4" rx="1" fill="#EAB839"/>
<text x="1681.98" y="499.9" font-size="12" text-anchor="start" fill="#ccccdc" textLength="161.88" lengthAdjust="spacingAndGlyphs">Data Received [minio-02:9000]</text>
<rect x="1854.36" y="494.5" width="14.5" height="4" rx="1" fill="#6ED0E0"/>
<text x="1876.16" y="499.9" font-size="12" text-anchor="start" fill="#ccccdc" textLength="161.88" lengthAdjust="spacingAndGlyphs">Data Received [minio-03:9000]</text>
<rect x="2048.54" y="494.5" width="14.5" height="4" rx="1" fill="#EF843C"/>
<text x="2070.34" y="499.9" font-size="12" text-anchor="start" fill="#ccccdc" textLength="161.88" lengthAdjust="spacingAndGlyphs">Data Received [minio-04:9000]</text>
<polygon points="2122.8,459 2122.8,459 2129,442.7 2134.5,365.2 2140.5,459 2140.5,459" fill="#6ED0E0" fill-opacity="0.1" stroke="none"/>
<polyline points="2122.8,459 2129,442.7 2134.5,365.2 2140.5,459" fill="none" stroke="#6ED0E0" stroke-width="1" stroke-linejoin="round"/>
<polyline points="1508,459 2067,459" fill="none" stroke="#d8b26a" stroke-width="2" stroke-linejoin="round"/>
<polyline points="2083,459 2527,459" fill="none" stroke="#d8b26a" stroke-width="2" stroke-linejoin="round"/>
<polyline points="2122.8,459 2140.5,459" fill="none" stroke="#ef9a3c" stroke-width="2" stroke-linejoin="round"/>
<rect x="2560.5" y="294.5" width="1263" height="219" rx="3" fill="#141619" stroke="#202226" stroke-width="1"/>
<text x="3192" y="314" font-size="14" text-anchor="middle" fill="#ccccdc" class="tt" stroke="#ccccdc" stroke-width="0.3" textLength="138.38" lengthAdjust="spacingAndGlyphs">S3 API Data Sent Rate</text>
<line x1="2599" y1="340.5" x2="3799" y2="340.5" stroke="rgba(240,250,255,0.15)" stroke-width="1"/>
<text x="2593.3" y="344.7" font-size="12" text-anchor="end" fill="#ccccdc" textLength="23.94" lengthAdjust="spacingAndGlyphs">15 B</text>
<line x1="2599" y1="380.5" x2="3799" y2="380.5" stroke="rgba(240,250,255,0.15)" stroke-width="1"/>
<text x="2593.3" y="384.2" font-size="12" text-anchor="end" fill="#ccccdc" textLength="23.94" lengthAdjust="spacingAndGlyphs">10 B</text>
<line x1="2599" y1="419.5" x2="3799" y2="419.5" stroke="rgba(240,250,255,0.15)" stroke-width="1"/>
<text x="2593.3" y="423.7" font-size="12" text-anchor="end" fill="#ccccdc" textLength="17.2" lengthAdjust="spacingAndGlyphs">5 B</text>
<line x1="2599" y1="459.5" x2="3799" y2="459.5" stroke="rgba(240,250,255,0.15)" stroke-width="1"/>
<text x="2593.3" y="463.2" font-size="12" text-anchor="end" fill="#ccccdc" textLength="17.2" lengthAdjust="spacingAndGlyphs">0 B</text>
<line x1="2603.5" y1="340.5" x2="2603.5" y2="459" stroke="rgba(240,250,255,0.15)" stroke-width="1"/>
<text x="2603" y="477.2" font-size="12" text-anchor="middle" fill="#ccccdc" textLength="29.88" lengthAdjust="spacingAndGlyphs">10:30</text>
<line x1="2670.5" y1="340.5" x2="2670.5" y2="459" stroke="rgba(240,250,255,0.15)" stroke-width="1"/>
<text x="2669.67" y="477.2" font-size="12" text-anchor="middle" fill="#ccccdc" textLength="29.88" lengthAdjust="spacingAndGlyphs">10:40</text>
<line x1="2736.5" y1="340.5" x2="2736.5" y2="459" stroke="rgba(240,250,255,0.15)" stroke-width="1"/>
<text x="2736.33" y="477.2" font-size="12" text-anchor="middle" fill="#ccccdc" textLength="29.88" lengthAdjust="spacingAndGlyphs">10:50</text>
<line x1="2803.5" y1="340.5" x2="2803.5" y2="459" stroke="rgba(240,250,255,0.15)" stroke-width="1"/>
<text x="2803" y="477.2" font-size="12" text-anchor="middle" fill="#ccccdc" textLength="29.88" lengthAdjust="spacingAndGlyphs">11:00</text>
<line x1="2870.5" y1="340.5" x2="2870.5" y2="459" stroke="rgba(240,250,255,0.15)" stroke-width="1"/>
<text x="2869.67" y="477.2" font-size="12" text-anchor="middle" fill="#ccccdc" textLength="29.88" lengthAdjust="spacingAndGlyphs">11:10</text>
<line x1="2936.5" y1="340.5" x2="2936.5" y2="459" stroke="rgba(240,250,255,0.15)" stroke-width="1"/>
<text x="2936.33" y="477.2" font-size="12" text-anchor="middle" fill="#ccccdc" textLength="29.88" lengthAdjust="spacingAndGlyphs">11:20</text>
<line x1="3003.5" y1="340.5" x2="3003.5" y2="459" stroke="rgba(240,250,255,0.15)" stroke-width="1"/>
<text x="3003" y="477.2" font-size="12" text-anchor="middle" fill="#ccccdc" textLength="29.88" lengthAdjust="spacingAndGlyphs">11:30</text>
<line x1="3070.5" y1="340.5" x2="3070.5" y2="459" stroke="rgba(240,250,255,0.15)" stroke-width="1"/>
<text x="3069.67" y="477.2" font-size="12" text-anchor="middle" fill="#ccccdc" textLength="29.88" lengthAdjust="spacingAndGlyphs">11:40</text>
<line x1="3136.5" y1="340.5" x2="3136.5" y2="459" stroke="rgba(240,250,255,0.15)" stroke-width="1"/>
<text x="3136.33" y="477.2" font-size="12" text-anchor="middle" fill="#ccccdc" textLength="29.88" lengthAdjust="spacingAndGlyphs">11:50</text>
<line x1="3203.5" y1="340.5" x2="3203.5" y2="459" stroke="rgba(240,250,255,0.15)" stroke-width="1"/>
<text x="3203" y="477.2" font-size="12" text-anchor="middle" fill="#ccccdc" textLength="29.88" lengthAdjust="spacingAndGlyphs">12:00</text>
<line x1="3270.5" y1="340.5" x2="3270.5" y2="459" stroke="rgba(240,250,255,0.15)" stroke-width="1"/>
<text x="3269.67" y="477.2" font-size="12" text-anchor="middle" fill="#ccccdc" textLength="29.88" lengthAdjust="spacingAndGlyphs">12:10</text>
<line x1="3336.5" y1="340.5" x2="3336.5" y2="459" stroke="rgba(240,250,255,0.15)" stroke-width="1"/>
<text x="3336.33" y="477.2" font-size="12" text-anchor="middle" fill="#ccccdc" textLength="29.88" lengthAdjust="spacingAndGlyphs">12:20</text>
<line x1="3403.5" y1="340.5" x2="3403.5" y2="459" stroke="rgba(240,250,255,0.15)" stroke-width="1"/>
<text x="3403" y="477.2" font-size="12" text-anchor="middle" fill="#ccccdc" textLength="29.88" lengthAdjust="spacingAndGlyphs">12:30</text>
<line x1="3470.5" y1="340.5" x2="3470.5" y2="459" stroke="rgba(240,250,255,0.15)" stroke-width="1"/>
<text x="3469.67" y="477.2" font-size="12" text-anchor="middle" fill="#ccccdc" textLength="29.88" lengthAdjust="spacingAndGlyphs">12:40</text>
<line x1="3536.5" y1="340.5" x2="3536.5" y2="459" stroke="rgba(240,250,255,0.15)" stroke-width="1"/>
<text x="3536.33" y="477.2" font-size="12" text-anchor="middle" fill="#ccccdc" textLength="29.88" lengthAdjust="spacingAndGlyphs">12:50</text>
<line x1="3603.5" y1="340.5" x2="3603.5" y2="459" stroke="rgba(240,250,255,0.15)" stroke-width="1"/>
<text x="3603" y="477.2" font-size="12" text-anchor="middle" fill="#ccccdc" textLength="29.88" lengthAdjust="spacingAndGlyphs">13:00</text>
<line x1="3670.5" y1="340.5" x2="3670.5" y2="459" stroke="rgba(240,250,255,0.15)" stroke-width="1"/>
<text x="3669.67" y="477.2" font-size="12" text-anchor="middle" fill="#ccccdc" textLength="29.88" lengthAdjust="spacingAndGlyphs">13:10</text>
<line x1="3736.5" y1="340.5" x2="3736.5" y2="459" stroke="rgba(240,250,255,0.15)" stroke-width="1"/>
<text x="3736.33" y="477.2" font-size="12" text-anchor="middle" fill="#ccccdc" textLength="29.88" lengthAdjust="spacingAndGlyphs">13:20</text>
<rect x="2579" y="494.5" width="14.5" height="4" rx="1" fill="#7EB26D"/>
<text x="2600.8" y="499.9" font-size="12" text-anchor="start" fill="#ccccdc" textLength="137.73" lengthAdjust="spacingAndGlyphs">Data Sent [minio-01:9000]</text>
<rect x="2749.03" y="494.5" width="14.5" height="4" rx="1" fill="#EAB839"/>
<text x="2770.83" y="499.9" font-size="12" text-anchor="start" fill="#ccccdc" textLength="137.73" lengthAdjust="spacingAndGlyphs">Data Sent [minio-02:9000]</text>
<rect x="2919.07" y="494.5" width="14.5" height="4" rx="1" fill="#6ED0E0"/>
<text x="2940.87" y="499.9" font-size="12" text-anchor="start" fill="#ccccdc" textLength="137.73" lengthAdjust="spacingAndGlyphs">Data Sent [minio-03:9000]</text>
<rect x="3089.1" y="494.5" width="14.5" height="4" rx="1" fill="#EF843C"/>
<text x="3110.9" y="499.9" font-size="12" text-anchor="start" fill="#ccccdc" textLength="137.73" lengthAdjust="spacingAndGlyphs">Data Sent [minio-04:9000]</text>
<polygon points="2796.6,459 2796.6,459 2803.4,423.2 2810.4,459 2810.4,459" fill="#7EB26D" fill-opacity="0.1" stroke="none"/>
<polyline points="2796.6,459 2803.4,423.2 2810.4,459" fill="none" stroke="#7EB26D" stroke-width="1" stroke-linejoin="round"/>
<polygon points="3323.1,459 3323.1,459 3329.9,379.7 3337,372.9 3343.7,459 3343.7,459" fill="#6ED0E0" fill-opacity="0.1" stroke="none"/>
<polyline points="3323.1,459 3329.9,379.7 3337,372.9 3343.7,459" fill="none" stroke="#6ED0E0" stroke-width="1" stroke-linejoin="round"/>
<polygon points="3743.9,459 3743.9,459 3750.2,419.9 3757,459 3757,459" fill="#EF843C" fill-opacity="0.1" stroke="none"/>
<polyline points="3743.9,459 3750.2,419.9 3757,459" fill="none" stroke="#EF843C" stroke-width="1" stroke-linejoin="round"/>
<polyline points="2599,459 3256.6,459" fill="none" stroke="#d8b26a" stroke-width="2" stroke-linejoin="round"/>
<polyline points="3276.7,459 3799,459" fill="none" stroke="#d8b26a" stroke-width="2" stroke-linejoin="round"/>
<rect x="16.5" y="522.5" width="1899" height="371" rx="3" fill="#141619" stroke="#202226" stroke-width="1"/>
<text x="966" y="542" font-size="14" text-anchor="middle" fill="#ccccdc" class="tt" stroke="#ccccdc" stroke-width="0.3" textLength="128.96" lengthAdjust="spacingAndGlyphs">S3 API Request Rate</text>
<line x1="45.8" y1="568.5" x2="1891" y2="568.5" stroke="rgba(240,250,255,0.15)" stroke-width="1"/>
<text x="40.1" y="572.7" font-size="12" text-anchor="end" fill="#ccccdc" textLength="13.49" lengthAdjust="spacingAndGlyphs">60</text>
<line x1="45.8" y1="607.5" x2="1891" y2="607.5" stroke="rgba(240,250,255,0.15)" stroke-width="1"/>
<text x="40.1" y="611.78" font-size="12" text-anchor="end" fill="#ccccdc" textLength="13.49" lengthAdjust="spacingAndGlyphs">50</text>
<line x1="45.8" y1="646.5" x2="1891" y2="646.5" stroke="rgba(240,250,255,0.15)" stroke-width="1"/>
<text x="40.1" y="650.86" font-size="12" text-anchor="end" fill="#ccccdc" textLength="13.49" lengthAdjust="spacingAndGlyphs">40</text>
<line x1="45.8" y1="685.5" x2="1891" y2="685.5" stroke="rgba(240,250,255,0.15)" stroke-width="1"/>
<text x="40.1" y="689.94" font-size="12" text-anchor="end" fill="#ccccdc" textLength="13.49" lengthAdjust="spacingAndGlyphs">30</text>
<line x1="45.8" y1="724.5" x2="1891" y2="724.5" stroke="rgba(240,250,255,0.15)" stroke-width="1"/>
<text x="40.1" y="729.02" font-size="12" text-anchor="end" fill="#ccccdc" textLength="13.49" lengthAdjust="spacingAndGlyphs">20</text>
<line x1="45.8" y1="763.5" x2="1891" y2="763.5" stroke="rgba(240,250,255,0.15)" stroke-width="1"/>
<text x="40.1" y="768.1" font-size="12" text-anchor="end" fill="#ccccdc" textLength="13.49" lengthAdjust="spacingAndGlyphs">10</text>
<line x1="45.8" y1="802.5" x2="1891" y2="802.5" stroke="rgba(240,250,255,0.15)" stroke-width="1"/>
<text x="40.1" y="807.18" font-size="12" text-anchor="end" fill="#ccccdc" textLength="6.74" lengthAdjust="spacingAndGlyphs">0</text>
<line x1="52.5" y1="568.5" x2="52.5" y2="802.6" stroke="rgba(240,250,255,0.15)" stroke-width="1"/>
<text x="51.95" y="820.8" font-size="12" text-anchor="middle" fill="#ccccdc" textLength="29.88" lengthAdjust="spacingAndGlyphs">10:30</text>
<line x1="154.5" y1="568.5" x2="154.5" y2="802.6" stroke="rgba(240,250,255,0.15)" stroke-width="1"/>
<text x="154.46" y="820.8" font-size="12" text-anchor="middle" fill="#ccccdc" textLength="29.88" lengthAdjust="spacingAndGlyphs">10:40</text>
<line x1="257.5" y1="568.5" x2="257.5" y2="802.6" stroke="rgba(240,250,255,0.15)" stroke-width="1"/>
<text x="256.97" y="820.8" font-size="12" text-anchor="middle" fill="#ccccdc" textLength="29.88" lengthAdjust="spacingAndGlyphs">10:50</text>
<line x1="359.5" y1="568.5" x2="359.5" y2="802.6" stroke="rgba(240,250,255,0.15)" stroke-width="1"/>
<text x="359.48" y="820.8" font-size="12" text-anchor="middle" fill="#ccccdc" textLength="29.88" lengthAdjust="spacingAndGlyphs">11:00</text>
<line x1="462.5" y1="568.5" x2="462.5" y2="802.6" stroke="rgba(240,250,255,0.15)" stroke-width="1"/>
<text x="462" y="820.8" font-size="12" text-anchor="middle" fill="#ccccdc" textLength="29.88" lengthAdjust="spacingAndGlyphs">11:10</text>
<line x1="565.5" y1="568.5" x2="565.5" y2="802.6" stroke="rgba(240,250,255,0.15)" stroke-width="1"/>
<text x="564.51" y="820.8" font-size="12" text-anchor="middle" fill="#ccccdc" textLength="29.88" lengthAdjust="spacingAndGlyphs">11:20</text>
<line x1="667.5" y1="568.5" x2="667.5" y2="802.6" stroke="rgba(240,250,255,0.15)" stroke-width="1"/>
<text x="667.02" y="820.8" font-size="12" text-anchor="middle" fill="#ccccdc" textLength="29.88" lengthAdjust="spacingAndGlyphs">11:30</text>
<line x1="770.5" y1="568.5" x2="770.5" y2="802.6" stroke="rgba(240,250,255,0.15)" stroke-width="1"/>
<text x="769.53" y="820.8" font-size="12" text-anchor="middle" fill="#ccccdc" textLength="29.88" lengthAdjust="spacingAndGlyphs">11:40</text>
<line x1="872.5" y1="568.5" x2="872.5" y2="802.6" stroke="rgba(240,250,255,0.15)" stroke-width="1"/>
<text x="872.04" y="820.8" font-size="12" text-anchor="middle" fill="#ccccdc" textLength="29.88" lengthAdjust="spacingAndGlyphs">11:50</text>
<line x1="975.5" y1="568.5" x2="975.5" y2="802.6" stroke="rgba(240,250,255,0.15)" stroke-width="1"/>
<text x="974.55" y="820.8" font-size="12" text-anchor="middle" fill="#ccccdc" textLength="29.88" lengthAdjust="spacingAndGlyphs">12:00</text>
<line x1="1077.5" y1="568.5" x2="1077.5" y2="802.6" stroke="rgba(240,250,255,0.15)" stroke-width="1"/>
<text x="1077.06" y="820.8" font-size="12" text-anchor="middle" fill="#ccccdc" textLength="29.88" lengthAdjust="spacingAndGlyphs">12:10</text>
<line x1="1180.5" y1="568.5" x2="1180.5" y2="802.6" stroke="rgba(240,250,255,0.15)" stroke-width="1"/>
<text x="1179.57" y="820.8" font-size="12" text-anchor="middle" fill="#ccccdc" textLength="29.88" lengthAdjust="spacingAndGlyphs">12:20</text>
<line x1="1282.5" y1="568.5" x2="1282.5" y2="802.6" stroke="rgba(240,250,255,0.15)" stroke-width="1"/>
<text x="1282.08" y="820.8" font-size="12" text-anchor="middle" fill="#ccccdc" textLength="29.88" lengthAdjust="spacingAndGlyphs">12:30</text>
<line x1="1385.5" y1="568.5" x2="1385.5" y2="802.6" stroke="rgba(240,250,255,0.15)" stroke-width="1"/>
<text x="1384.6" y="820.8" font-size="12" text-anchor="middle" fill="#ccccdc" textLength="29.88" lengthAdjust="spacingAndGlyphs">12:40</text>
<line x1="1487.5" y1="568.5" x2="1487.5" y2="802.6" stroke="rgba(240,250,255,0.15)" stroke-width="1"/>
<text x="1487.11" y="820.8" font-size="12" text-anchor="middle" fill="#ccccdc" textLength="29.88" lengthAdjust="spacingAndGlyphs">12:50</text>
<line x1="1590.5" y1="568.5" x2="1590.5" y2="802.6" stroke="rgba(240,250,255,0.15)" stroke-width="1"/>
<text x="1589.62" y="820.8" font-size="12" text-anchor="middle" fill="#ccccdc" textLength="29.88" lengthAdjust="spacingAndGlyphs">13:00</text>
<line x1="1692.5" y1="568.5" x2="1692.5" y2="802.6" stroke="rgba(240,250,255,0.15)" stroke-width="1"/>
<text x="1692.13" y="820.8" font-size="12" text-anchor="middle" fill="#ccccdc" textLength="29.88" lengthAdjust="spacingAndGlyphs">13:10</text>
<line x1="1795.5" y1="568.5" x2="1795.5" y2="802.6" stroke="rgba(240,250,255,0.15)" stroke-width="1"/>
<text x="1794.64" y="820.8" font-size="12" text-anchor="middle" fill="#ccccdc" textLength="29.88" lengthAdjust="spacingAndGlyphs">13:20</text>
<rect x="35" y="838.1" width="14.5" height="4" rx="1" fill="#7EB26D"/>
<text x="56.8" y="843.5" font-size="12" text-anchor="start" fill="#ccccdc" textLength="299.05" lengthAdjust="spacingAndGlyphs">{api=&quot;completemutipartupload&quot;, server=&quot;minio-03:9000&quot;}</text>
<rect x="366.35" y="838.1" width="14.5" height="4" rx="1" fill="#EAB839"/>
<text x="388.15" y="843.5" font-size="12" text-anchor="start" fill="#ccccdc" textLength="262.34" lengthAdjust="spacingAndGlyphs">{api=&quot;getbucketlocation&quot;, server=&quot;minio-03:9000&quot;}</text>
<rect x="660.98" y="838.1" width="14.5" height="4" rx="1" fill="#6ED0E0"/>
<text x="682.78" y="843.5" font-size="12" text-anchor="start" fill="#ccccdc" textLength="344.8" lengthAdjust="spacingAndGlyphs">{api=&quot;getbucketobjectlockconfiguration&quot;, server=&quot;minio-03:9000&quot;}</text>
<rect x="1038.08" y="838.1" width="14.5" height="4" rx="1" fill="#EF843C"/>
<text x="1059.88" y="843.5" font-size="12" text-anchor="start" fill="#ccccdc" textLength="217.08" lengthAdjust="spacingAndGlyphs">{api=&quot;getobject&quot;, server=&quot;minio-04:9000&quot;}</text>
<rect x="1287.45" y="838.1" width="14.5" height="4" rx="1" fill="#E24D42"/>
<text x="1309.25" y="843.5" font-size="12" text-anchor="start" fill="#ccccdc" textLength="229.65" lengthAdjust="spacingAndGlyphs">{api=&quot;headbucket&quot;, server=&quot;minio-03:9000&quot;}</text>
<rect x="1549.4" y="838.1" width="14.5" height="4" rx="1" fill="#1F78C1"/>
<text x="1571.2" y="843.5" font-size="12" text-anchor="start" fill="#ccccdc" textLength="225.53" lengthAdjust="spacingAndGlyphs">{api=&quot;listbuckets&quot;, server=&quot;minio-01:9000&quot;}</text>
<rect x="35" y="856.3" width="14.5" height="4" rx="1" fill="#BA43A9"/>
<text x="56.8" y="861.7" font-size="12" text-anchor="start" fill="#ccccdc" textLength="225.53" lengthAdjust="spacingAndGlyphs">{api=&quot;listbuckets&quot;, server=&quot;minio-02:9000&quot;}</text>
<rect x="292.83" y="856.3" width="14.5" height="4" rx="1" fill="#705DA0"/>
<text x="314.63" y="861.7" font-size="12" text-anchor="start" fill="#ccccdc" textLength="225.53" lengthAdjust="spacingAndGlyphs">{api=&quot;listbuckets&quot;, server=&quot;minio-03:9000&quot;}</text>
<rect x="550.65" y="856.3" width="14.5" height="4" rx="1" fill="#508642"/>
<text x="572.45" y="861.7" font-size="12" text-anchor="start" fill="#ccccdc" textLength="225.53" lengthAdjust="spacingAndGlyphs">{api=&quot;listbuckets&quot;, server=&quot;minio-04:9000&quot;}</text>
<rect x="808.48" y="856.3" width="14.5" height="4" rx="1" fill="#CCA300"/>
<text x="830.28" y="861.7" font-size="12" text-anchor="start" fill="#ccccdc" textLength="235.1" lengthAdjust="spacingAndGlyphs">{api=&quot;listobjectsv1&quot;, server=&quot;minio-02:9000&quot;}</text>
<rect x="1075.88" y="856.3" width="14.5" height="4" rx="1" fill="#447EBC"/>
<text x="1097.68" y="861.7" font-size="12" text-anchor="start" fill="#ccccdc" textLength="235.1" lengthAdjust="spacingAndGlyphs">{api=&quot;listobjectsv1&quot;, server=&quot;minio-04:9000&quot;}</text>
<rect x="1343.29" y="856.3" width="14.5" height="4" rx="1" fill="#C15C17"/>
<text x="1365.09" y="861.7" font-size="12" text-anchor="start" fill="#ccccdc" textLength="267.16" lengthAdjust="spacingAndGlyphs">{api=&quot;methodnotallowed&quot;, server=&quot;minio-04:9000&quot;}</text>
<rect x="35" y="874.5" width="14.5" height="4" rx="1" fill="#890F02"/>
<text x="56.8" y="879.9" font-size="12" text-anchor="start" fill="#ccccdc" textLength="274.24" lengthAdjust="spacingAndGlyphs">{api=&quot;newmultipartupload&quot;, server=&quot;minio-03:9000&quot;}</text>
<rect x="341.54" y="874.5" width="14.5" height="4" rx="1" fill="#0A437C"/>
<text x="363.34" y="879.9" font-size="12" text-anchor="start" fill="#ccccdc" textLength="217.56" lengthAdjust="spacingAndGlyphs">{api=&quot;putobject&quot;, server=&quot;minio-03:9000&quot;}</text>
<rect x="591.4" y="874.5" width="14.5" height="4" rx="1" fill="#6D1F62"/>
<text x="613.2" y="879.9" font-size="12" text-anchor="start" fill="#ccccdc" textLength="239.11" lengthAdjust="spacingAndGlyphs">{api=&quot;putobjectpart&quot;, server=&quot;minio-03:9000&quot;}</text>
<polyline points="45.8,802.6 1057.3,802.6" fill="none" stroke="#a89a3c" stroke-width="2" stroke-linejoin="round"/>
<polygon points="1170,802.6 1170,580.6 1190.5,802.6" fill="#1F78C1" fill-opacity="0.1"/>
<polyline points="1170,580.6 1190.5,802.6" fill="none" stroke="#1d5e9c" stroke-width="1.2" stroke-linejoin="round"/>
<polyline points="1170,802.6 1180,802.6" fill="none" stroke="#d98b6c" stroke-width="2" stroke-linejoin="round"/>
<polyline points="1180,802.6 1190,802.6" fill="none" stroke="#a03c58" stroke-width="2" stroke-linejoin="round"/>
<polyline points="1190,802.6 1887.5,802.6" fill="none" stroke="#76306e" stroke-width="2" stroke-linejoin="round"/>
<rect x="1924.5" y="522.5" width="1899" height="371" rx="3" fill="#141619" stroke="#202226" stroke-width="1"/>
<text x="2874" y="542" font-size="14" text-anchor="middle" fill="#ccccdc" class="tt" stroke="#ccccdc" stroke-width="0.3" textLength="162.97" lengthAdjust="spacingAndGlyphs">S3 API Request Error Rate</text>
<line x1="1982.5" y1="568.5" x2="3799" y2="568.5" stroke="rgba(240,250,255,0.15)" stroke-width="1"/>
<text x="1976.8" y="572.7" font-size="12" text-anchor="end" fill="#ccccdc" textLength="36.89" lengthAdjust="spacingAndGlyphs">0.0250</text>
<line x1="1982.5" y1="615.5" x2="3799" y2="615.5" stroke="rgba(240,250,255,0.15)" stroke-width="1"/>
<text x="1976.8" y="619.6" font-size="12" text-anchor="end" fill="#ccccdc" textLength="36.89" lengthAdjust="spacingAndGlyphs">0.0200</text>
<line x1="1982.5" y1="662.5" x2="3799" y2="662.5" stroke="rgba(240,250,255,0.15)" stroke-width="1"/>
<text x="1976.8" y="666.5" font-size="12" text-anchor="end" fill="#ccccdc" textLength="36.89" lengthAdjust="spacingAndGlyphs">0.0150</text>
<line x1="1982.5" y1="709.5" x2="3799" y2="709.5" stroke="rgba(240,250,255,0.15)" stroke-width="1"/>
<text x="1976.8" y="713.4" font-size="12" text-anchor="end" fill="#ccccdc" textLength="36.89" lengthAdjust="spacingAndGlyphs">0.0100</text>
<line x1="1982.5" y1="756.5" x2="3799" y2="756.5" stroke="rgba(240,250,255,0.15)" stroke-width="1"/>
<text x="1976.8" y="760.3" font-size="12" text-anchor="end" fill="#ccccdc" textLength="43.63" lengthAdjust="spacingAndGlyphs">0.00500</text>
<line x1="1982.5" y1="803.5" x2="3799" y2="803.5" stroke="rgba(240,250,255,0.15)" stroke-width="1"/>
<text x="1976.8" y="807.2" font-size="12" text-anchor="end" fill="#ccccdc" textLength="6.74" lengthAdjust="spacingAndGlyphs">0</text>
<line x1="1989.5" y1="568.5" x2="1989.5" y2="802.6" stroke="rgba(240,250,255,0.15)" stroke-width="1"/>
<text x="1988.56" y="820.8" font-size="12" text-anchor="middle" fill="#ccccdc" textLength="29.88" lengthAdjust="spacingAndGlyphs">10:30</text>
<line x1="2089.5" y1="568.5" x2="2089.5" y2="802.6" stroke="rgba(240,250,255,0.15)" stroke-width="1"/>
<text x="2089.47" y="820.8" font-size="12" text-anchor="middle" fill="#ccccdc" textLength="29.88" lengthAdjust="spacingAndGlyphs">10:40</text>
<line x1="2190.5" y1="568.5" x2="2190.5" y2="802.6" stroke="rgba(240,250,255,0.15)" stroke-width="1"/>
<text x="2190.39" y="820.8" font-size="12" text-anchor="middle" fill="#ccccdc" textLength="29.88" lengthAdjust="spacingAndGlyphs">10:50</text>
<line x1="2291.5" y1="568.5" x2="2291.5" y2="802.6" stroke="rgba(240,250,255,0.15)" stroke-width="1"/>
<text x="2291.3" y="820.8" font-size="12" text-anchor="middle" fill="#ccccdc" textLength="29.88" lengthAdjust="spacingAndGlyphs">11:00</text>
<line x1="2392.5" y1="568.5" x2="2392.5" y2="802.6" stroke="rgba(240,250,255,0.15)" stroke-width="1"/>
<text x="2392.22" y="820.8" font-size="12" text-anchor="middle" fill="#ccccdc" textLength="29.88" lengthAdjust="spacingAndGlyphs">11:10</text>
<line x1="2493.5" y1="568.5" x2="2493.5" y2="802.6" stroke="rgba(240,250,255,0.15)" stroke-width="1"/>
<text x="2493.14" y="820.8" font-size="12" text-anchor="middle" fill="#ccccdc" textLength="29.88" lengthAdjust="spacingAndGlyphs">11:20</text>
<line x1="2594.5" y1="568.5" x2="2594.5" y2="802.6" stroke="rgba(240,250,255,0.15)" stroke-width="1"/>
<text x="2594.06" y="820.8" font-size="12" text-anchor="middle" fill="#ccccdc" textLength="29.88" lengthAdjust="spacingAndGlyphs">11:30</text>
<line x1="2695.5" y1="568.5" x2="2695.5" y2="802.6" stroke="rgba(240,250,255,0.15)" stroke-width="1"/>
<text x="2694.97" y="820.8" font-size="12" text-anchor="middle" fill="#ccccdc" textLength="29.88" lengthAdjust="spacingAndGlyphs">11:40</text>
<line x1="2796.5" y1="568.5" x2="2796.5" y2="802.6" stroke="rgba(240,250,255,0.15)" stroke-width="1"/>
<text x="2795.89" y="820.8" font-size="12" text-anchor="middle" fill="#ccccdc" textLength="29.88" lengthAdjust="spacingAndGlyphs">11:50</text>
<line x1="2897.5" y1="568.5" x2="2897.5" y2="802.6" stroke="rgba(240,250,255,0.15)" stroke-width="1"/>
<text x="2896.8" y="820.8" font-size="12" text-anchor="middle" fill="#ccccdc" textLength="29.88" lengthAdjust="spacingAndGlyphs">12:00</text>
<line x1="2998.5" y1="568.5" x2="2998.5" y2="802.6" stroke="rgba(240,250,255,0.15)" stroke-width="1"/>
<text x="2997.72" y="820.8" font-size="12" text-anchor="middle" fill="#ccccdc" textLength="29.88" lengthAdjust="spacingAndGlyphs">12:10</text>
<line x1="3099.5" y1="568.5" x2="3099.5" y2="802.6" stroke="rgba(240,250,255,0.15)" stroke-width="1"/>
<text x="3098.64" y="820.8" font-size="12" text-anchor="middle" fill="#ccccdc" textLength="29.88" lengthAdjust="spacingAndGlyphs">12:20</text>
<line x1="3200.5" y1="568.5" x2="3200.5" y2="802.6" stroke="rgba(240,250,255,0.15)" stroke-width="1"/>
<text x="3199.56" y="820.8" font-size="12" text-anchor="middle" fill="#ccccdc" textLength="29.88" lengthAdjust="spacingAndGlyphs">12:30</text>
<line x1="3300.5" y1="568.5" x2="3300.5" y2="802.6" stroke="rgba(240,250,255,0.15)" stroke-width="1"/>
<text x="3300.47" y="820.8" font-size="12" text-anchor="middle" fill="#ccccdc" textLength="29.88" lengthAdjust="spacingAndGlyphs">12:40</text>
<line x1="3401.5" y1="568.5" x2="3401.5" y2="802.6" stroke="rgba(240,250,255,0.15)" stroke-width="1"/>
<text x="3401.39" y="820.8" font-size="12" text-anchor="middle" fill="#ccccdc" textLength="29.88" lengthAdjust="spacingAndGlyphs">12:50</text>
<line x1="3502.5" y1="568.5" x2="3502.5" y2="802.6" stroke="rgba(240,250,255,0.15)" stroke-width="1"/>
<text x="3502.31" y="820.8" font-size="12" text-anchor="middle" fill="#ccccdc" textLength="29.88" lengthAdjust="spacingAndGlyphs">13:00</text>
<line x1="3603.5" y1="568.5" x2="3603.5" y2="802.6" stroke="rgba(240,250,255,0.15)" stroke-width="1"/>
<text x="3603.22" y="820.8" font-size="12" text-anchor="middle" fill="#ccccdc" textLength="29.88" lengthAdjust="spacingAndGlyphs">13:10</text>
<line x1="3704.5" y1="568.5" x2="3704.5" y2="802.6" stroke="rgba(240,250,255,0.15)" stroke-width="1"/>
<text x="3704.14" y="820.8" font-size="12" text-anchor="middle" fill="#ccccdc" textLength="29.88" lengthAdjust="spacingAndGlyphs">13:20</text>
<rect x="1943" y="838.1" width="14.5" height="4" rx="1" fill="#7EB26D"/>
<text x="1964.8" y="843.5" font-size="12" text-anchor="start" fill="#ccccdc" textLength="622.25" lengthAdjust="spacingAndGlyphs">{api=&quot;getbucketobjectlockconfiguration&quot;, instance=&quot;165.232.176.6:9000&quot;, job=&quot;minio-cluster&quot;, server=&quot;minio-03:9000&quot;}</text>
<rect x="2597.55" y="838.1" width="14.5" height="4" rx="1" fill="#EAB839"/>
<text x="2619.35" y="843.5" font-size="12" text-anchor="start" fill="#ccccdc" textLength="494.53" lengthAdjust="spacingAndGlyphs">{api=&quot;getobject&quot;, instance=&quot;165.232.176.6:9000&quot;, job=&quot;minio-cluster&quot;, server=&quot;minio-04:9000&quot;}</text>
<rect x="3124.37" y="838.1" width="14.5" height="4" rx="1" fill="#6ED0E0"/>
<text x="3146.17" y="843.5" font-size="12" text-anchor="start" fill="#ccccdc" textLength="502.98" lengthAdjust="spacingAndGlyphs">{api=&quot;listbuckets&quot;, instance=&quot;165.232.176.6:9000&quot;, job=&quot;minio-cluster&quot;, server=&quot;minio-01:9000&quot;}</text>
<rect x="1943" y="856.3" width="14.5" height="4" rx="1" fill="#EF843C"/>
<text x="1964.8" y="861.7" font-size="12" text-anchor="start" fill="#ccccdc" textLength="502.98" lengthAdjust="spacingAndGlyphs">{api=&quot;listbuckets&quot;, instance=&quot;165.232.176.6:9000&quot;, job=&quot;minio-cluster&quot;, server=&quot;minio-02:9000&quot;}</text>
<rect x="2478.28" y="856.3" width="14.5" height="4" rx="1" fill="#E24D42"/>
<text x="2500.08" y="861.7" font-size="12" text-anchor="start" fill="#ccccdc" textLength="502.98" lengthAdjust="spacingAndGlyphs">{api=&quot;listbuckets&quot;, instance=&quot;165.232.176.6:9000&quot;, job=&quot;minio-cluster&quot;, server=&quot;minio-03:9000&quot;}</text>
<rect x="3013.55" y="856.3" width="14.5" height="4" rx="1" fill="#1F78C1"/>
<text x="3035.35" y="861.7" font-size="12" text-anchor="start" fill="#ccccdc" textLength="502.98" lengthAdjust="spacingAndGlyphs">{api=&quot;listbuckets&quot;, instance=&quot;165.232.176.6:9000&quot;, job=&quot;minio-cluster&quot;, server=&quot;minio-04:9000&quot;}</text>
<rect x="1943" y="874.5" width="14.5" height="4" rx="1" fill="#BA43A9"/>
<text x="1964.8" y="879.9" font-size="12" text-anchor="start" fill="#ccccdc" textLength="512.55" lengthAdjust="spacingAndGlyphs">{api=&quot;listobjectsv1&quot;, instance=&quot;165.232.176.6:9000&quot;, job=&quot;minio-cluster&quot;, server=&quot;minio-02:9000&quot;}</text>
<rect x="2487.85" y="874.5" width="14.5" height="4" rx="1" fill="#705DA0"/>
<text x="2509.65" y="879.9" font-size="12" text-anchor="start" fill="#ccccdc" textLength="512.55" lengthAdjust="spacingAndGlyphs">{api=&quot;listobjectsv1&quot;, instance=&quot;165.232.176.6:9000&quot;, job=&quot;minio-cluster&quot;, server=&quot;minio-04:9000&quot;}</text>
<rect x="3032.7" y="874.5" width="14.5" height="4" rx="1" fill="#508642"/>
<text x="3054.5" y="879.9" font-size="12" text-anchor="start" fill="#ccccdc" textLength="544.61" lengthAdjust="spacingAndGlyphs">{api=&quot;methodnotallowed&quot;, instance=&quot;165.232.176.6:9000&quot;, job=&quot;minio-cluster&quot;, server=&quot;minio-04:9000&quot;}</text>
<polygon points="2281,802.6 2281,802.6 2291.7,615.4 2302,802.6 2302,802.6" fill="#6ED0E0" fill-opacity="0.1" stroke="none"/>
<polyline points="2281,802.6 2291.7,615.4 2302,802.6" fill="none" stroke="#6ED0E0" stroke-width="1" stroke-linejoin="round"/>
<polyline points="1982.5,802.6 2978.5,802.6" fill="none" stroke="#b35fae" stroke-width="2" stroke-linejoin="round"/>
<polyline points="3089.2,802.6 3795.4,802.6" fill="none" stroke="#6d9a5c" stroke-width="2" stroke-linejoin="round"/>
<rect x="16.5" y="902.5" width="3807" height="295" rx="3" fill="#141619" stroke="#202226" stroke-width="1"/>
<text x="1920" y="922" font-size="14" text-anchor="middle" fill="#ccccdc" class="tt" stroke="#ccccdc" stroke-width="0.3" textLength="148.04" lengthAdjust="spacingAndGlyphs">Internode Data Transfer</text>
<line x1="76" y1="948.5" x2="3799" y2="948.5" stroke="rgba(240,250,255,0.15)" stroke-width="1"/>
<text x="70.3" y="952.7" font-size="12" text-anchor="end" fill="#ccccdc" textLength="41.13" lengthAdjust="spacingAndGlyphs">586 KiB</text>
<line x1="76" y1="980.5" x2="3799" y2="980.5" stroke="rgba(240,250,255,0.15)" stroke-width="1"/>
<text x="70.3" y="985.17" font-size="12" text-anchor="end" fill="#ccccdc" textLength="41.13" lengthAdjust="spacingAndGlyphs">488 KiB</text>
<line x1="76" y1="1013.5" x2="3799" y2="1013.5" stroke="rgba(240,250,255,0.15)" stroke-width="1"/>
<text x="70.3" y="1017.64" font-size="12" text-anchor="end" fill="#ccccdc" textLength="41.13" lengthAdjust="spacingAndGlyphs">391 KiB</text>
<line x1="76" y1="1045.5" x2="3799" y2="1045.5" stroke="rgba(240,250,255,0.15)" stroke-width="1"/>
<text x="70.3" y="1050.11" font-size="12" text-anchor="end" fill="#ccccdc" textLength="41.13" lengthAdjust="spacingAndGlyphs">293 KiB</text>
<line x1="76" y1="1078.5" x2="3799" y2="1078.5" stroke="rgba(240,250,255,0.15)" stroke-width="1"/>
<text x="70.3" y="1082.58" font-size="12" text-anchor="end" fill="#ccccdc" textLength="41.13" lengthAdjust="spacingAndGlyphs">195 KiB</text>
<line x1="76" y1="1110.5" x2="3799" y2="1110.5" stroke="rgba(240,250,255,0.15)" stroke-width="1"/>
<text x="70.3" y="1115.05" font-size="12" text-anchor="end" fill="#ccccdc" textLength="44.3" lengthAdjust="spacingAndGlyphs">97.7 KiB</text>
<line x1="76" y1="1143.5" x2="3799" y2="1143.5" stroke="rgba(240,250,255,0.15)" stroke-width="1"/>
<text x="70.3" y="1147.52" font-size="12" text-anchor="end" fill="#ccccdc" textLength="17.2" lengthAdjust="spacingAndGlyphs">0 B</text>
<line x1="88.5" y1="948.5" x2="88.5" y2="1143" stroke="rgba(240,250,255,0.15)" stroke-width="1"/>
<text x="88.41" y="1161.2" font-size="12" text-anchor="middle" fill="#ccccdc" textLength="29.88" lengthAdjust="spacingAndGlyphs">10:30</text>
<line x1="192.5" y1="948.5" x2="192.5" y2="1143" stroke="rgba(240,250,255,0.15)" stroke-width="1"/>
<text x="191.83" y="1161.2" font-size="12" text-anchor="middle" fill="#ccccdc" textLength="29.88" lengthAdjust="spacingAndGlyphs">10:35</text>
<line x1="295.5" y1="948.5" x2="295.5" y2="1143" stroke="rgba(240,250,255,0.15)" stroke-width="1"/>
<text x="295.24" y="1161.2" font-size="12" text-anchor="middle" fill="#ccccdc" textLength="29.88" lengthAdjust="spacingAndGlyphs">10:40</text>
<line x1="399.5" y1="948.5" x2="399.5" y2="1143" stroke="rgba(240,250,255,0.15)" stroke-width="1"/>
<text x="398.66" y="1161.2" font-size="12" text-anchor="middle" fill="#ccccdc" textLength="29.88" lengthAdjust="spacingAndGlyphs">10:45</text>
<line x1="502.5" y1="948.5" x2="502.5" y2="1143" stroke="rgba(240,250,255,0.15)" stroke-width="1"/>
<text x="502.08" y="1161.2" font-size="12" text-anchor="middle" fill="#ccccdc" textLength="29.88" lengthAdjust="spacingAndGlyphs">10:50</text>
<line x1="605.5" y1="948.5" x2="605.5" y2="1143" stroke="rgba(240,250,255,0.15)" stroke-width="1"/>
<text x="605.49" y="1161.2" font-size="12" text-anchor="middle" fill="#ccccdc" textLength="29.88" lengthAdjust="spacingAndGlyphs">10:55</text>
<line x1="709.5" y1="948.5" x2="709.5" y2="1143" stroke="rgba(240,250,255,0.15)" stroke-width="1"/>
<text x="708.91" y="1161.2" font-size="12" text-anchor="middle" fill="#ccccdc" textLength="29.88" lengthAdjust="spacingAndGlyphs">11:00</text>
<line x1="812.5" y1="948.5" x2="812.5" y2="1143" stroke="rgba(240,250,255,0.15)" stroke-width="1"/>
<text x="812.33" y="1161.2" font-size="12" text-anchor="middle" fill="#ccccdc" textLength="29.88" lengthAdjust="spacingAndGlyphs">11:05</text>
<line x1="916.5" y1="948.5" x2="916.5" y2="1143" stroke="rgba(240,250,255,0.15)" stroke-width="1"/>
<text x="915.74" y="1161.2" font-size="12" text-anchor="middle" fill="#ccccdc" textLength="29.88" lengthAdjust="spacingAndGlyphs">11:10</text>
<line x1="1019.5" y1="948.5" x2="1019.5" y2="1143" stroke="rgba(240,250,255,0.15)" stroke-width="1"/>
<text x="1019.16" y="1161.2" font-size="12" text-anchor="middle" fill="#ccccdc" textLength="29.88" lengthAdjust="spacingAndGlyphs">11:15</text>
<line x1="1123.5" y1="948.5" x2="1123.5" y2="1143" stroke="rgba(240,250,255,0.15)" stroke-width="1"/>
<text x="1122.58" y="1161.2" font-size="12" text-anchor="middle" fill="#ccccdc" textLength="29.88" lengthAdjust="spacingAndGlyphs">11:20</text>
<line x1="1226.5" y1="948.5" x2="1226.5" y2="1143" stroke="rgba(240,250,255,0.15)" stroke-width="1"/>
<text x="1225.99" y="1161.2" font-size="12" text-anchor="middle" fill="#ccccdc" textLength="29.88" lengthAdjust="spacingAndGlyphs">11:25</text>
<line x1="1329.5" y1="948.5" x2="1329.5" y2="1143" stroke="rgba(240,250,255,0.15)" stroke-width="1"/>
<text x="1329.41" y="1161.2" font-size="12" text-anchor="middle" fill="#ccccdc" textLength="29.88" lengthAdjust="spacingAndGlyphs">11:30</text>
<line x1="1433.5" y1="948.5" x2="1433.5" y2="1143" stroke="rgba(240,250,255,0.15)" stroke-width="1"/>
<text x="1432.83" y="1161.2" font-size="12" text-anchor="middle" fill="#ccccdc" textLength="29.88" lengthAdjust="spacingAndGlyphs">11:35</text>
<line x1="1536.5" y1="948.5" x2="1536.5" y2="1143" stroke="rgba(240,250,255,0.15)" stroke-width="1"/>
<text x="1536.24" y="1161.2" font-size="12" text-anchor="middle" fill="#ccccdc" textLength="29.88" lengthAdjust="spacingAndGlyphs">11:40</text>
<line x1="1640.5" y1="948.5" x2="1640.5" y2="1143" stroke="rgba(240,250,255,0.15)" stroke-width="1"/>
<text x="1639.66" y="1161.2" font-size="12" text-anchor="middle" fill="#ccccdc" textLength="29.88" lengthAdjust="spacingAndGlyphs">11:45</text>
<line x1="1743.5" y1="948.5" x2="1743.5" y2="1143" stroke="rgba(240,250,255,0.15)" stroke-width="1"/>
<text x="1743.08" y="1161.2" font-size="12" text-anchor="middle" fill="#ccccdc" textLength="29.88" lengthAdjust="spacingAndGlyphs">11:50</text>
<line x1="1846.5" y1="948.5" x2="1846.5" y2="1143" stroke="rgba(240,250,255,0.15)" stroke-width="1"/>
<text x="1846.49" y="1161.2" font-size="12" text-anchor="middle" fill="#ccccdc" textLength="29.88" lengthAdjust="spacingAndGlyphs">11:55</text>
<line x1="1950.5" y1="948.5" x2="1950.5" y2="1143" stroke="rgba(240,250,255,0.15)" stroke-width="1"/>
<text x="1949.91" y="1161.2" font-size="12" text-anchor="middle" fill="#ccccdc" textLength="29.88" lengthAdjust="spacingAndGlyphs">12:00</text>
<line x1="2053.5" y1="948.5" x2="2053.5" y2="1143" stroke="rgba(240,250,255,0.15)" stroke-width="1"/>
<text x="2053.33" y="1161.2" font-size="12" text-anchor="middle" fill="#ccccdc" textLength="29.88" lengthAdjust="spacingAndGlyphs">12:05</text>
<line x1="2157.5" y1="948.5" x2="2157.5" y2="1143" stroke="rgba(240,250,255,0.15)" stroke-width="1"/>
<text x="2156.74" y="1161.2" font-size="12" text-anchor="middle" fill="#ccccdc" textLength="29.88" lengthAdjust="spacingAndGlyphs">12:10</text>
<line x1="2260.5" y1="948.5" x2="2260.5" y2="1143" stroke="rgba(240,250,255,0.15)" stroke-width="1"/>
<text x="2260.16" y="1161.2" font-size="12" text-anchor="middle" fill="#ccccdc" textLength="29.88" lengthAdjust="spacingAndGlyphs">12:15</text>
<line x1="2364.5" y1="948.5" x2="2364.5" y2="1143" stroke="rgba(240,250,255,0.15)" stroke-width="1"/>
<text x="2363.58" y="1161.2" font-size="12" text-anchor="middle" fill="#ccccdc" textLength="29.88" lengthAdjust="spacingAndGlyphs">12:20</text>
<line x1="2467.5" y1="948.5" x2="2467.5" y2="1143" stroke="rgba(240,250,255,0.15)" stroke-width="1"/>
<text x="2466.99" y="1161.2" font-size="12" text-anchor="middle" fill="#ccccdc" textLength="29.88" lengthAdjust="spacingAndGlyphs">12:25</text>
<line x1="2570.5" y1="948.5" x2="2570.5" y2="1143" stroke="rgba(240,250,255,0.15)" stroke-width="1"/>
<text x="2570.41" y="1161.2" font-size="12" text-anchor="middle" fill="#ccccdc" textLength="29.88" lengthAdjust="spacingAndGlyphs">12:30</text>
<line x1="2674.5" y1="948.5" x2="2674.5" y2="1143" stroke="rgba(240,250,255,0.15)" stroke-width="1"/>
<text x="2673.83" y="1161.2" font-size="12" text-anchor="middle" fill="#ccccdc" textLength="29.88" lengthAdjust="spacingAndGlyphs">12:35</text>
<line x1="2777.5" y1="948.5" x2="2777.5" y2="1143" stroke="rgba(240,250,255,0.15)" stroke-width="1"/>
<text x="2777.24" y="1161.2" font-size="12" text-anchor="middle" fill="#ccccdc" textLength="29.88" lengthAdjust="spacingAndGlyphs">12:40</text>
<line x1="2881.5" y1="948.5" x2="2881.5" y2="1143" stroke="rgba(240,250,255,0.15)" stroke-width="1"/>
<text x="2880.66" y="1161.2" font-size="12" text-anchor="middle" fill="#ccccdc" textLength="29.88" lengthAdjust="spacingAndGlyphs">12:45</text>
<line x1="2984.5" y1="948.5" x2="2984.5" y2="1143" stroke="rgba(240,250,255,0.15)" stroke-width="1"/>
<text x="2984.08" y="1161.2" font-size="12" text-anchor="middle" fill="#ccccdc" textLength="29.88" lengthAdjust="spacingAndGlyphs">12:50</text>
<line x1="3087.5" y1="948.5" x2="3087.5" y2="1143" stroke="rgba(240,250,255,0.15)" stroke-width="1"/>
<text x="3087.49" y="1161.2" font-size="12" text-anchor="middle" fill="#ccccdc" textLength="29.88" lengthAdjust="spacingAndGlyphs">12:55</text>
<line x1="3191.5" y1="948.5" x2="3191.5" y2="1143" stroke="rgba(240,250,255,0.15)" stroke-width="1"/>
<text x="3190.91" y="1161.2" font-size="12" text-anchor="middle" fill="#ccccdc" textLength="29.88" lengthAdjust="spacingAndGlyphs">13:00</text>
<line x1="3294.5" y1="948.5" x2="3294.5" y2="1143" stroke="rgba(240,250,255,0.15)" stroke-width="1"/>
<text x="3294.33" y="1161.2" font-size="12" text-anchor="middle" fill="#ccccdc" textLength="29.88" lengthAdjust="spacingAndGlyphs">13:05</text>
<line x1="3398.5" y1="948.5" x2="3398.5" y2="1143" stroke="rgba(240,250,255,0.15)" stroke-width="1"/>
<text x="3397.74" y="1161.2" font-size="12" text-anchor="middle" fill="#ccccdc" textLength="29.88" lengthAdjust="spacingAndGlyphs">13:10</text>
<line x1="3501.5" y1="948.5" x2="3501.5" y2="1143" stroke="rgba(240,250,255,0.15)" stroke-width="1"/>
<text x="3501.16" y="1161.2" font-size="12" text-anchor="middle" fill="#ccccdc" textLength="29.88" lengthAdjust="spacingAndGlyphs">13:15</text>
<line x1="3605.5" y1="948.5" x2="3605.5" y2="1143" stroke="rgba(240,250,255,0.15)" stroke-width="1"/>
<text x="3604.58" y="1161.2" font-size="12" text-anchor="middle" fill="#ccccdc" textLength="29.88" lengthAdjust="spacingAndGlyphs">13:20</text>
<line x1="3708.5" y1="948.5" x2="3708.5" y2="1143" stroke="rgba(240,250,255,0.15)" stroke-width="1"/>
<text x="3707.99" y="1161.2" font-size="12" text-anchor="middle" fill="#ccccdc" textLength="29.88" lengthAdjust="spacingAndGlyphs">13:25</text>
<rect x="35" y="1178.5" width="14.5" height="4" rx="1" fill="#7EB26D"/>
<text x="56.8" y="1183.9" font-size="12" text-anchor="start" fill="#ccccdc" textLength="220.49" lengthAdjust="spacingAndGlyphs">Internode Bytes Received [minio-01:9000]</text>
<rect x="287.79" y="1178.5" width="14.5" height="4" rx="1" fill="#EAB839"/>
<text x="309.59" y="1183.9" font-size="12" text-anchor="start" fill="#ccccdc" textLength="220.49" lengthAdjust="spacingAndGlyphs">Internode Bytes Received [minio-02:9000]</text>
<rect x="540.58" y="1178.5" width="14.5" height="4" rx="1" fill="#6ED0E0"/>
<text x="562.38" y="1183.9" font-size="12" text-anchor="start" fill="#ccccdc" textLength="220.49" lengthAdjust="spacingAndGlyphs">Internode Bytes Received [minio-03:9000]</text>
<rect x="793.37" y="1178.5" width="14.5" height="4" rx="1" fill="#EF843C"/>
<text x="815.17" y="1183.9" font-size="12" text-anchor="start" fill="#ccccdc" textLength="220.49" lengthAdjust="spacingAndGlyphs">Internode Bytes Received [minio-04:9000]</text>
<rect x="1046.16" y="1178.5" width="14.5" height="4" rx="1" fill="#E24D42"/>
<text x="1067.96" y="1183.9" font-size="12" text-anchor="start" fill="#ccccdc" textLength="196.34" lengthAdjust="spacingAndGlyphs">Internode Bytes Sent [minio-01:9000]</text>
<rect x="1274.8" y="1178.5" width="14.5" height="4" rx="1" fill="#1F78C1"/>
<text x="1296.6" y="1183.9" font-size="12" text-anchor="start" fill="#ccccdc" textLength="196.34" lengthAdjust="spacingAndGlyphs">Internode Bytes Sent [minio-02:9000]</text>
<rect x="1503.44" y="1178.5" width="14.5" height="4" rx="1" fill="#BA43A9"/>
<text x="1525.24" y="1183.9" font-size="12" text-anchor="start" fill="#ccccdc" textLength="196.34" lengthAdjust="spacingAndGlyphs">Internode Bytes Sent [minio-03:9000]</text>
<rect x="1732.08" y="1178.5" width="14.5" height="4" rx="1" fill="#705DA0"/>
<text x="1753.88" y="1183.9" font-size="12" text-anchor="start" fill="#ccccdc" textLength="196.34" lengthAdjust="spacingAndGlyphs">Internode Bytes Sent [minio-04:9000]</text>
<polyline points="76,1142.04 92.72,1141.87 108.02,1141.93 128.6,1142.17 151.74,1142.18 173.54,1142.17 189.17,1141.99 218.06,1142.14 236.08,1141.89 267.13,1141.91 288.27,1141.71 303.11,1141.77 322.33,1142.13 338.45,1142.05 367.14,1142.11 391.61,1141.88 412.31,1141.93 427.44,1142.17 445.15,1141.86 466.84,1142.04 491.38,1141.97 510.78,1141.8 537.36,1142.08 561.7,1141.94 591.45,1141.84 610.64,1141.71 626.76,1141.99 654.39,1142.12 677.19,1142.18 703.22,1141.82 727.53,1141.76 747.18,1141.85 771.88,1141.91 794.09,1141.78 825.09,1141.96 851.05,1142.17 877.68,1141.88 909.55,1141.79 928.67,1142.01 954.71,1142.19 977.02,1142.12 993.13,1142.17 1020.96,1142.14 1039.41,1142 1069.1,1142.16 1091.19,1141.93 1121.09,1141.79 1150.64,1142.06 1172.11,1142.02 1202.03,1141.72 1218.75,1142.11 1236.92,1142.08 1259.65,1141.91 1278.38,1142.2 1299.92,1142.02 1324.11,1141.72 1350.54,1141.94 1375.66,1141.86 1390.63,1141.75 1418.67,1141.76 1447.03,1142 1468.21,1142.15 1493.63,1142.17 1508.84,1142.1 1525.77,1142.03 1540.71,1142.2 1557.43,1142.15 1577.98,1142.19 1607.72,1141.89 1624.39,1142.07 1644.64,1142.02 1660.86,1141.78 1692.73,1141.97 1715.44,1142.16 1731.28,1142.03 1750.05,1141.79 1766.95,1142.19 1798.07,1141.94 1814.71,1141.93 1829.19,1141.94 1860.81,1141.77 1887.34,1142.07 1907.94,1142.12 1935.83,1141.93 1963.86,1142.04 1981.87,1141.79 2013.6,1141.77 2042.11,1141.79 2069.43,1142.09 2092.75,1142.02 2107.27,1142.19 2108.3,1142" fill="none" stroke="#E24D42" stroke-width="1" stroke-linejoin="round"/>
<polyline points="2178.2,1142.07 2204.67,1141.72 2226.72,1141.73 2258.5,1141.72 2279.06,1142.09 2297.15,1142.1 2314.83,1141.89 2345.03,1141.78 2367.66,1141.87 2396.06,1142.16 2421.95,1141.75 2450.03,1141.82 2472.63,1142.11 2500.84,1142.03 2529.25,1141.71 2550.38,1142 2581.42,1141.84 2598.48,1142.14 2615.2,1141.75 2643.72,1142.13 2672.59,1141.71 2698.42,1142.02 2722.3,1142.13 2736.56,1141.71 2762.25,1141.94 2793.06,1141.98 2822.75,1141.79 2840.55,1142.07 2859.82,1142.08 2884.38,1142.07 2905.92,1142.13 2936.3,1142.02 2958.54,1141.91 2988.82,1141.99 3019.34,1141.95 3042.91,1141.94 3057.25,1141.98 3074.55,1142.2 3102.93,1142.11 3125.45,1141.84 3149.47,1142.04 3172.8,1141.92 3200.92,1142.15 3225,1142.08 3243.99,1141.81 3267.13,1141.92 3294.81,1141.74 3316.79,1141.89 3339.89,1141.94 3366.35,1141.97 3389.95,1141.96 3420.9,1141.85 3450.68,1141.73 3469.35,1141.92 3500.33,1141.78 3516.8,1142.14 3538.76,1142.16 3557.09,1142.16 3583.14,1141.81 3613.28,1142.12 3640.17,1141.87 3656.75,1141.76 3688.16,1142.09 3719.31,1142 3742.08,1141.71 3771.06,1142.12 3792.83,1141.94 3799,1142" fill="none" stroke="#E24D42" stroke-width="1" stroke-linejoin="round"/>
<polyline points="76,1142.1 95.73,1141.84 110.08,1141.92 132.01,1142.19 151.98,1141.89 175.2,1142.17 206.93,1141.81 238.42,1142.15 257.2,1142.18 285.22,1142.06 301.56,1141.99 331.96,1141.79 350.62,1142.13 381.16,1141.91 407.77,1142.16 422.8,1141.86 444.46,1142.16 475.35,1141.88 503.78,1142.16 533.19,1142.17 562.72,1141.97 582.83,1141.92 613.51,1142.07 629.83,1141.94 648.12,1142.15 665.03,1142.17 682.66,1142.04 702.15,1141.82 721.37,1141.95 738.57,1142.03 752.9,1142.07 767.18,1141.83 791.1,1142.11 813.64,1141.73 829.56,1141.79 851.33,1141.95 880.36,1142 903.48,1141.86 935.16,1142.03 964.14,1141.85 989.59,1142 1009.85,1142.17 1026.18,1142.16 1053.52,1142.07 1070.46,1142.16 1099.6,1141.76 1125.67,1142.06 1144.03,1142.05 1166.3,1142.12 1188.32,1142.07 1219.64,1141.71 1243.48,1142.08 1274.87,1142.05 1295.28,1142.2 1316.15,1141.96 1339.2,1142.1 1362.29,1142.2 1381.04,1142.16 1402.24,1142.18 1416.64,1142.05 1434.83,1141.91 1458.36,1141.82 1484.19,1141.84 1514.02,1142.01 1533.89,1141.71 1550.58,1141.84 1576.15,1142.18 1605.19,1141.75 1630.48,1141.83 1659.1,1142.13 1682.53,1141.95 1711.56,1141.8 1740.43,1141.91 1770.5,1141.86 1796.98,1142.09 1811.55,1142.13 1832.04,1142.15 1861.08,1141.92 1886.38,1141.89 1912.63,1141.96 1926.69,1141.8 1954.16,1141.95 1977.8,1141.87 1992.99,1141.83 2011.52,1142.16 2030.3,1141.84 2048,1141.83 2079.56,1141.95 2100.45,1141.96 2108.3,1142" fill="none" stroke="#1F78C1" stroke-width="1" stroke-linejoin="round"/>
<polyline points="2178.2,1141.82 2203.31,1141.88 2218.7,1142.13 2237.27,1141.83 2256.75,1141.92 2270.97,1142.17 2289.81,1141.86 2316.27,1141.86 2335.51,1141.94 2357.87,1141.97 2374,1141.75 2391.59,1141.71 2422.44,1142.19 2444.71,1141.79 2476.13,1141.98 2494.97,1142.1 2525.99,1142.09 2550.45,1142.13 2573.89,1141.72 2590.27,1141.79 2613.43,1141.76 2640.09,1142.08 2670.25,1141.96 2684.7,1142.2 2707.55,1141.97 2726.98,1142.13 2747.17,1142.04 2776.3,1142.2 2803.81,1141.78 2819.97,1141.74 2846.81,1141.75 2866.02,1142.01 2887.1,1141.7 2911.7,1142.02 2933.41,1142.06 2948.27,1142.15 2977.3,1142.06 3008.14,1142.08 3026.92,1141.94 3044.34,1142.01 3075.55,1141.76 3104.17,1141.88 3134.61,1141.73 3158.49,1141.84 3173.38,1141.83 3195.5,1141.82 3221.1,1142.06 3235.98,1141.74 3252.27,1141.96 3272.46,1142.05 3299.76,1141.71 3318.45,1141.87 3337.86,1141.92 3358.96,1142.12 3375.87,1142.1 3406.18,1141.95 3424.14,1141.75 3456.07,1141.98 3472.59,1142.1 3488.22,1142.03 3503.86,1142.08 3522.51,1141.92 3552.48,1141.83 3573.91,1141.99 3597.34,1142.01 3617.43,1142.17 3636.43,1141.72 3652.69,1141.95 3678.03,1141.77 3695.91,1142.06 3714.39,1142 3736.41,1141.72 3765.69,1141.76 3780.08,1142.18 3799,1142" fill="none" stroke="#1F78C1" stroke-width="1" stroke-linejoin="round"/>
<polyline points="76,1141.75 98.52,1141.91 112.52,1142 143.2,1141.79 172.6,1141.71 191.08,1142.15 207.85,1141.94 234.13,1141.73 261.12,1141.88 288.89,1141.97 312.82,1142.18 340.9,1142.08 371.46,1141.88 390.92,1142.14 409.46,1141.88 436.03,1142.14 451.3,1141.94 475.79,1142.01 493.81,1141.9 508,1142.05 530.29,1141.72 555.9,1141.76 578.45,1142.08 596.9,1141.72 623.58,1142.05 637.98,1141.95 664.12,1141.99 682.75,1141.87 713.4,1142.09 728.01,1142.03 749.58,1141.86 767.15,1141.8 794.45,1141.95 812.15,1141.72 831.76,1141.79 849.91,1142.09 877.6,1142.05 908.74,1141.95 926.11,1142.09 947.61,1141.87 978.69,1142.13 999.77,1142.09 1031.31,1142.13 1046.24,1142.17 1067.32,1141.75 1097.23,1141.83 1129.18,1141.73 1149.11,1142.11 1179.95,1141.83 1194.53,1141.87 1215.34,1142.01 1235.31,1142.12 1249.36,1142.06 1269.69,1141.72 1285.92,1141.72 1303.65,1142.02 1332.44,1141.79 1354.22,1142.18 1376.75,1142.01 1407.3,1142.1 1427.85,1141.75 1442.4,1141.99 1471.01,1141.82 1485.74,1142.18 1500.87,1141.74 1519.5,1141.83 1549.67,1142.03 1568.57,1141.72 1593.68,1142.07 1620.58,1142.04 1639.54,1142.2 1667.14,1141.74 1692.55,1141.73 1706.99,1142.08 1729.54,1141.72 1760.71,1142.01 1779.23,1141.99 1802.11,1141.74 1819.41,1141.8 1846.7,1141.79 1874.61,1141.9 1894.51,1142.04 1915.02,1141.81 1930.45,1142.1 1958,1142.08 1973.16,1142.18 1997.11,1142.04 2028.75,1141.76 2060.53,1142.07 2076.05,1142.15 2099.02,1141.85 2108.3,1142" fill="none" stroke="#BA43A9" stroke-width="1" stroke-linejoin="round"/>
<polyline points="2178.2,1142.08 2199.7,1141.89 2225.84,1141.83 2255.08,1141.87 2271.26,1141.78 2290.55,1141.92 2311.27,1141.83 2328.85,1142.08 2347.27,1142.12 2377.18,1141.91 2397.06,1142 2428.92,1141.95 2447.08,1141.8 2472.84,1141.7 2488.69,1141.96 2517.43,1141.78 2547.89,1142.18 2567.18,1142.14 2584.59,1141.71 2609.09,1141.73 2629.79,1141.77 2651.87,1142.07 2679.87,1141.73 2695.77,1141.9 2720.93,1142.09 2741.57,1142.13 2759.24,1142.07 2784.03,1141.87 2801.69,1142.19 2821.58,1141.86 2838.92,1142.04 2856.58,1141.8 2880.44,1142.17 2896.27,1142 2920.17,1141.88 2935.81,1142.12 2962.33,1142 2981.43,1142.05 3012.58,1142.04 3036.78,1142.02 3058.28,1141.77 3090.22,1142.02 3107.77,1141.84 3125.43,1142.2 3155.66,1141.99 3184.43,1142 3214.32,1141.97 3231.25,1142.19 3255.17,1141.88 3285.55,1142.16 3310.75,1142.01 3333.83,1142.13 3352.93,1141.94 3383.59,1142.15 3406.42,1141.8 3437.82,1142.1 3454.1,1141.73 3485.66,1141.96 3500.62,1141.74 3521.6,1141.75 3546.77,1141.79 3563.65,1141.81 3581.65,1142 3610.89,1141.79 3628.18,1142.09 3649.37,1141.94 3670.28,1142.14 3688.73,1141.84 3718.88,1142.18 3743,1141.82 3757.69,1141.78 3773.81,1141.9 3797.71,1141.89 3799,1142" fill="none" stroke="#BA43A9" stroke-width="1" stroke-linejoin="round"/>
<polyline points="76,1141.99 100.49,1141.99 126.35,1141.98 148.24,1142.19 173.38,1141.96 191.61,1141.82 219.65,1141.97 236.88,1141.96 252.81,1142.14 274.56,1142.15 296.52,1141.94 311.25,1141.88 326.73,1141.83 354.73,1141.94 369.71,1141.95 390.51,1141.72 406.96,1141.77 438.89,1141.83 467.56,1142.1 499.23,1141.95 530.45,1141.74 547.42,1141.81 578.17,1142.17 598.49,1141.82 615.35,1141.75 634.29,1141.79 650.88,1141.95 681.44,1142.1 700.17,1141.95 719.91,1142.18 737.19,1142.12 768.05,1141.86 798.16,1142.12 826.29,1142.14 849.84,1141.88 870.32,1141.76 894.31,1141.91 924.2,1142.15 956.07,1141.89 977.17,1141.8 995.93,1141.7 1020.33,1142.02 1048.09,1141.98 1065.27,1141.83 1080.14,1141.79 1098.71,1141.88 1130.42,1141.91 1156.37,1142.04 1170.4,1142.18 1187.09,1141.89 1208.87,1141.94 1238.99,1142.13 1257.08,1141.87 1271.48,1142.2 1291.87,1142.15 1312.3,1142.09 1336.8,1141.91 1354.48,1141.89 1377.02,1142.13 1407.88,1142.08 1424.57,1142.15 1450.06,1141.76 1478.14,1142 1496.89,1142.19 1522.5,1141.92 1542.81,1141.88 1564.8,1141.73 1592,1142.08 1622.26,1142.18 1645.83,1142 1664.11,1142.17 1692.13,1142.19 1716.05,1141.73 1732.61,1142.1 1757.55,1141.95 1783.1,1141.79 1800.24,1142.05 1819.65,1142.18 1849.66,1141.81 1876.53,1142.2 1905.73,1141.83 1928.11,1141.83 1950.25,1142.09 1966.15,1142.08 1980.85,1142.03 2008.34,1141.85 2037.56,1141.84 2056.34,1141.92 2078.19,1141.81 2101.61,1142.07 2108.3,1142" fill="none" stroke="#705DA0" stroke-width="1" stroke-linejoin="round"/>
<polyline points="2178.2,1141.72 2196.11,1141.76 2210.38,1142.07 2228.63,1141.83 2259.63,1141.83 2279.52,1141.76 2299.43,1142.08 2329.77,1141.88 2356.24,1141.87 2387.86,1141.97 2416.98,1141.85 2446.41,1141.98 2473.46,1141.91 2492.99,1142.09 2518.2,1142.16 2548.6,1142.13 2563.08,1142.15 2593.8,1142.03 2610.35,1142.19 2625.1,1141.85 2650.51,1141.85 2677.78,1142.17 2702.4,1142.02 2731.12,1141.79 2761.16,1142.17 2790.78,1141.74 2821.78,1142.15 2839.49,1142.14 2854.1,1141.78 2882.72,1141.88 2911.57,1141.88 2930.74,1142.15 2946.51,1141.82 2964.2,1142.04 2985.82,1142.19 3004.44,1142.06 3031.33,1142.02 3051.1,1141.72 3074.17,1141.77 3099.3,1142.18 3120.73,1141.98 3148.65,1142.03 3175.33,1141.93 3193.23,1141.77 3208.86,1141.79 3225.93,1142.2 3243.57,1141.82 3275.17,1142.2 3298,1141.95 3326.35,1142.11 3349.25,1142.03 3378.22,1142.07 3409.21,1142.06 3427.08,1141.85 3450.05,1142.15 3475.5,1142.16 3503.69,1141.85 3531.85,1141.89 3552.25,1142 3573.35,1141.75 3588.91,1141.76 3603.36,1142.1 3622.1,1141.75 3645.12,1142.01 3675.03,1142.08 3697.33,1141.93 3724.91,1141.82 3750.54,1142.03 3770.42,1142.12 3799,1142" fill="none" stroke="#705DA0" stroke-width="1" stroke-linejoin="round"/>
<polyline points="76,1141.67 103.36,1142.06 125.25,1141.58 149.68,1142.1 172,1141.49 190.28,1142.05 209.71,1141.64 238.89,1142.08 255.7,1142 275.58,1141.78 292.47,1141.94 309.88,1141.42 337,1142.12 368.32,1142.12 389.24,1141.41 417.55,1141.61 439.37,1142.04 464.86,1142.11 482.57,1141.89 497.18,1141.88 525.42,1141.65 548.43,1141.69 570.77,1142.09 595.64,1141.88 622.97,1141.47 644.71,1141.74 672.2,1141.86 690.31,1141.62 720.15,1141.58 746.76,1141.52 772.99,1141.69 795.16,1141.95 820.47,1142.12 842.02,1141.57 868.86,1141.7 887.36,1141.86 909.55,1141.7 930.92,1141.66 961.66,1142.05 987.44,1141.58 1008.44,1141.81 1039.98,1142.17 1063.76,1142.07 1091.84,1141.45 1115.18,1142.12 1139.52,1141.77 1166.44,1141.79 1191.94,1141.54 1215.33,1141.87 1246.4,1142.03 1272.71,1141.89 1300.44,1142.1 1332.16,1141.92 1347.18,1141.98 1368.38,1142.19 1389.91,1141.86 1416.48,1141.92 1435.25,1142.02 1462.6,1141.45 1486.09,1142.02 1514.51,1141.89 1532.33,1142.1 1560.31,1141.55 1585.73,1141.82 1609.84,1142.02 1641.19,1141.92 1666.69,1141.55 1695.38,1141.83 1714.68,1141.76 1730.93,1141.53 1751.32,1141.52 1770.13,1141.9 1788.7,1141.86 1806.04,1142.2 1833.03,1141.98 1851.44,1141.96 1874.08,1141.86 1899.55,1141.67 1920.07,1141.46 1949.45,1142.15 1978.35,1141.48 2006.47,1142.09 2035.43,1141.69 2049.7,1142.19 2080.83,1141.68 2099.33,1142.12 2108.3,1142" fill="none" stroke="#7EB26D" stroke-width="1.5" stroke-linejoin="round"/>
<polyline points="2178.2,1142.01 2206.17,1141.92 2222.92,1141.48 2251.17,1142.07 2281.21,1141.71 2309.28,1141.67 2339.37,1141.57 2368.46,1142.04 2394.93,1141.78 2422.29,1141.85 2452.18,1141.76 2470.94,1142.01 2487.45,1141.81 2502.5,1141.83 2519.1,1141.81 2542.06,1141.77 2571.6,1142.19 2600.73,1141.83 2624.86,1141.67 2653.99,1141.9 2675.53,1141.43 2690.88,1141.69 2716.33,1142.18 2741.31,1141.65 2772.07,1141.94 2803.74,1141.79 2826.47,1141.48 2841.08,1141.63 2866.33,1141.93 2895.84,1141.91 2918.39,1141.78 2946.26,1142.03 2968.09,1141.86 2992.06,1141.54 3011.33,1141.54 3032.6,1141.8 3051.49,1141.79 3083.04,1141.68 3111.3,1141.94 3131,1141.96 3155.56,1141.69 3183.68,1142.17 3210.69,1141.49 3234.5,1142.16 3253.91,1142.2 3271.33,1141.46 3296.28,1141.67 3324.49,1141.47 3349.5,1141.71 3374.78,1141.64 3399.51,1141.66 3417.34,1141.67 3439.58,1141.59 3455.41,1142.05 3470.07,1141.58 3500.53,1141.68 3521.16,1141.54 3549.32,1141.75 3567.97,1141.96 3589.56,1141.95 3611.31,1141.69 3642.12,1142.16 3666.34,1142.17 3682.47,1141.55 3706.83,1141.47 3728.87,1142.19 3749.84,1141.73 3780.71,1141.42 3799,1142" fill="none" stroke="#7EB26D" stroke-width="1.5" stroke-linejoin="round"/>
<polyline points="76,1141.21 91.84,1140.65 109.66,1141.84 123.94,1142.19 150.25,1141.91 181.64,1141.99 211.29,1141.89 225.61,1140.47 243.97,1140.44 261.35,1142.08 289.28,1140.49 318.68,1140.45 334.19,1140.69 360.96,1141.09 391.74,1141.59 423.1,1140.48 437.31,1142.16 463.02,1140.24 478.45,1141.45 505.58,1141.8 535.08,1141.03 550.16,1141.32 574.5,1141.15 600.69,1141.85 629.04,1141.33 654.65,1140.69 676.17,1141.27 704.32,1139.93 732.45,1140.84 751.71,1142.05 783.24,1140.51 812.14,1141.4 837.04,1139.85 866,1140.76 885.56,1141.17 915.54,1141.3 941.87,1140.76 972,1140.26 991.1,1142.2 1009.84,1141.19 1034.4,1140.24 1064.37,1142.1 1093.37,1140.25 1122.98,1140.83 1141.91,1140.16 1170.43,1140.56 1200.88,1141.37 1216.41,1140.87 1244.76,1141.72 1272.27,1139.96 1290.48,1140.74 1316.68,1141.08 1334.4,1141.59 1361.92,1140.3 1384.19,1141.99 1412.71,1140.35 1430.9,1140.81 1461.05,1140.08 1484.44,1141.06 1509.05,1141.75 1526.51,1141.77 1553.13,1141.33 1577.29,1141.23 1600.6,1141.84 1615.4,1139.81 1636.13,1141.95 1661.52,1140.31 1678.33,1140.77 1698.54,1140.95 1712.91,1142.12 1744.74,1140.12 1767.49,1140.84 1786.2,1140.33 1807.87,1139.93 1835.68,1140.23 1867.02,1141.59 1881.7,1141.72 1898.96,1142 1913.88,1140.86 1943.55,1141.1 1974.6,1140.02 1989.75,1140.76 2010.91,1141.91 2042.17,1141.58 2066.33,1140.66 2097.55,1140.59 2108.3,1142" fill="none" stroke="#6ED0E0" stroke-width="1.8" stroke-linejoin="round"/>
<polyline points="2178.2,1141.12 2195.08,1139.88 2226.93,1141.67 2241.62,1141.59 2261.96,1140.03 2292.24,1140.19 2307.09,1140.31 2333.86,1140.65 2365.6,1142.07 2382.2,1140.39 2413.11,1140.58 2432.49,1140.78 2460.13,1141.95 2479.96,1141.58 2496.2,1141.04 2513.23,1141.63 2529.81,1140.57 2544.04,1140.48 2561.55,1142.11 2592.25,1141.67 2623.06,1140.12 2653.05,1141.86 2675.1,1141.97 2705.82,1140.18 2731.13,1141.11 2751.25,1140.22 2773.85,1140.69 2790.42,1141.67 2805.44,1140.49 2829.4,1141.85 2859.07,1141.56 2880.48,1141.83 2899.36,1140.19 2919.38,1141.8 2942.22,1141.44 2972.48,1141.93 3004.09,1142.06 3034.2,1140.6 3052.01,1141.05 3071.16,1141.58 3088.79,1141.33 3120.62,1139.8 3151.28,1141.97 3170.49,1140.05 3185.52,1140.46 3204.8,1139.85 3219.09,1140.26 3239.23,1141.86 3253.26,1140.2 3276.74,1141.75 3298.58,1140.01 3316.51,1140.83 3332.99,1141.77 3360.86,1140.49 3378.4,1142.01 3393.97,1140.74 3416.89,1141.54 3434.6,1140.73 3461.34,1140.25 3485.83,1141.71 3501.02,1140.44 3522.36,1140.47 3537.36,1140.25 3557.39,1140.18 3586.95,1141.02 3601.23,1140.02 3623.81,1140.11 3642.6,1141.75 3671.57,1141.32 3688.51,1141.31 3713.22,1142.19 3736.58,1141.13 3759.86,1141.91 3786.72,1140.24 3799,1142" fill="none" stroke="#6ED0E0" stroke-width="1.8" stroke-linejoin="round"/>
<polyline points="76,1141.81 102.8,1141.74 130.33,1142.13 160.04,1141.06 182.94,1141.58 206.49,1141.56 220.86,1141.04 238.89,1141.98 254.74,1141.9 283.45,1142.16 299.18,1141.36 316.7,1142.18 341.48,1141.51 364.9,1141.36 380.75,1141.16 407.66,1142.15 423.87,1141.61 446.88,1141.86 463.08,1141.71 479.55,1141.49 509.05,1142.02 533.36,1141.3 550.31,1141.21 581.19,1141.73 602.76,1141.19 626.22,1141.73 657.16,1141.27 677.26,1141.91 697.29,1141.68 728.95,1141.23 759.38,1141.22 788.64,1142.14 811.95,1141.05 842.77,1141.9 864.37,1141.44 884.93,1141.56 900.17,1141.68 923.26,1142.18 939.77,1141.04 967.75,1141.08 993.15,1141.23 1023.06,1141.14 1037.68,1141.43 1056.47,1141.39 1075.39,1141.55 1106.03,1141.45 1124.54,1141.58 1146.35,1141.06 1165.52,1141.83 1191.18,1142.06 1215.87,1141.05 1239.12,1141.88 1261.52,1141.56 1278.19,1142.05 1294.55,1141.85 1315.87,1141.85 1334.25,1142.09 1358.09,1141.19 1383.06,1141.52 1408.77,1141.96 1435.56,1141.65 1459.42,1141.46 1481.86,1141.83 1500.22,1141.93 1523.45,1141.74 1547.99,1142.19 1568.34,1141.17 1586.63,1141.53 1609.48,1141.86 1641.25,1141.85 1669.15,1142.01 1684.35,1141.15 1706.27,1142.13 1727.25,1141.67 1754.49,1142.07 1772.55,1141.05 1799.84,1142.01 1819.91,1141.78 1846.06,1141.46 1875.36,1141.21 1898.68,1141.31 1926.06,1141.29 1948.62,1141.26 1975.37,1141.1 1991.66,1141.16 2005.74,1141.28 2030.28,1141.6 2061.61,1141.51 2083.14,1141.26 2108.3,1142" fill="none" stroke="#EAB839" stroke-width="1.5" stroke-linejoin="round"/>
<polyline points="2178.2,1141.47 2199.03,1141.66 2221.27,1141.33 2240.55,1141.73 2264.54,1141.74 2284.34,1141.26 2313.63,1141.6 2335.62,1141.98 2355.1,1142.03 2379.45,1141.5 2395.04,1141.1 2414.87,1141.19 2443.95,1141.05 2461.63,1141.69 2492.02,1142.19 2506.88,1141.52 2529.83,1141.1 2557.75,1141.55 2589.72,1141.58 2613.03,1141.38 2634.04,1141.77 2658.75,1141.78 2689.81,1141.39 2713.26,1142.08 2734,1141.72 2758.11,1141.51 2787.94,1141.04 2810.71,1141.67 2835.95,1141 2856.13,1141.56 2884.81,1142 2904.54,1141.03 2933.41,1141.58 2949.4,1141.13 2975.81,1141.22 3007.64,1141.13 3029.21,1142.01 3048.43,1141.59 3071.52,1141.97 3088.8,1141.44 3113.66,1141.78 3145.55,1141.44 3160.31,1141.71 3188.49,1141.83 3214.92,1142.2 3234.4,1141.19 3258.95,1141.4 3276.49,1141.6 3300.45,1141.88 3326.09,1141.56 3358.04,1141.51 3379.44,1142.05 3396.26,1141.29 3412.18,1142.08 3429.25,1141.57 3458.07,1141.46 3486.59,1142.13 3500.81,1141.28 3520.62,1141.34 3540.99,1142 3559.79,1142.08 3590.06,1141.5 3610.34,1141.66 3631.28,1142.13 3661.31,1141.5 3692.58,1141.67 3717.75,1141.9 3732.54,1141.08 3761.92,1141.82 3792.1,1141.22 3799,1142" fill="none" stroke="#EAB839" stroke-width="1.5" stroke-linejoin="round"/>
<polyline points="76,1141.24 107.28,1141.41 138.38,1141.81 159.39,1141.05 177.38,1141.71 207.13,1141.42 235.4,1141.81 252.52,1141.63 269.88,1140.65 289.11,1141.3 305.18,1141.35 326.12,1141.55 341.3,1142 370.17,1141.64 388.58,1141.89 407.68,1141.82 422.31,1141.14 442.45,1141.95 469.16,1142.05 488.01,1140.86 504.31,1141.49 533.37,1140.91 550.23,1141.64 577.24,1141.6 608.49,1141.87 639.61,1141.39 657.7,1141.48 674.05,1141.07 692.75,1140.76 717.32,1141.61 735.76,1141.23 753.58,1140.8 769.79,1141.38 793.56,1141.77 821.45,1141.58 847.29,1141.29 866.88,1141.58 882.43,1141.92 911.75,1141.69 937.68,1142.03 961.79,1141.62 984.8,1141.72 999.99,1141.7 1018.06,1142 1044.96,1141.75 1066.22,1140.75 1094.17,1140.79 1123.68,1141.99 1142.65,1142.15 1168.89,1141.14 1189.21,1141.54 1215.07,1141.08 1233.55,1140.85 1253.88,1141.19 1271.15,1142.02 1301.58,1141.03 1328.41,1142.14 1343.13,1141.94 1360.69,1141.72 1381.55,1142.14 1401.14,1141.18 1418.38,1140.86 1442.64,1141.05 1461.23,1141.5 1487.54,1141.64 1501.56,1140.87 1529.54,1141.74 1544.31,1140.83 1569.24,1142.12 1587.64,1142.02 1615.89,1141.86 1646.35,1141 1661.9,1141.09 1682.99,1141 1711.9,1141.75 1727.52,1140.69 1749.15,1140.71 1775.6,1141.02 1804.54,1141.2 1826.69,1142.11 1853.26,1141.51 1876.48,1140.71 1892.77,1140.98 1907.56,1141.08 1936.06,1141.78 1959.9,1140.65 1985.37,1141.33 2003.87,1142.1 2024.31,1141.54 2041.93,1141.7 2058.39,1141.07 2084.46,1141.82 2102.81,1141.38 2108.3,1142" fill="none" stroke="#EF843C" stroke-width="1.8" stroke-linejoin="round"/>
<polyline points="2178.2,1140.7 2198.53,1141.72 2228.45,1141.97 2252.59,1141.67 2281.27,1141.32 2308.96,1141.93 2334.95,1141.24 2357.25,1140.97 2386.22,1142.02 2405.42,1141.62 2423.14,1142.1 2442.2,1141.88 2468.82,1141.48 2484.86,1141.68 2507.29,1141.62 2524.32,1142.09 2538.51,1140.61 2566.02,1142.07 2592.93,1140.63 2617.08,1142.03 2639.88,1141.51 2657.29,1141.33 2671.44,1140.73 2697.04,1141.2 2727.88,1141.16 2746.4,1141.81 2762.9,1142.16 2790.84,1140.86 2810.17,1141.9 2835.66,1140.85 2866.34,1141.93 2894.46,1140.87 2921.82,1141.68 2939.15,1140.88 2958.91,1141.61 2982.83,1141.61 3011.79,1141.82 3026.54,1141.29 3051.85,1140.89 3078.55,1140.75 3109.55,1141.41 3132.55,1141.95 3151.94,1141.27 3167.38,1141.1 3184.33,1141.49 3215.78,1142.06 3230.5,1141.5 3247.94,1141.04 3261.99,1140.85 3291.38,1140.94 3313.04,1141.75 3338.95,1141.38 3360.53,1141.66 3382.43,1141.13 3411.3,1140.75 3428.26,1141.73 3450.24,1141.3 3470.5,1141.89 3486.03,1141.68 3508.32,1140.65 3538.68,1140.82 3570.22,1140.66 3595.37,1140.9 3610.45,1141.12 3635.42,1141.72 3659.7,1140.68 3682.35,1141.16 3701.74,1141.65 3731.67,1142.16 3749.07,1141.11 3771.12,1142.06 3797.01,1141.6 3799,1142" fill="none" stroke="#EF843C" stroke-width="1.8" stroke-linejoin="round"/>
<rect x="2333.8" y="1094.5" width="3.2" height="48.5" fill="#705DA0"/>
<polyline points="2324,1143 2334.6,1135.7 2343.5,1143 2354,1143 2364.7,1135 2374.5,1143" fill="none" stroke="#EF843C" stroke-width="1.2" stroke-linejoin="round"/>
<polyline points="2335.4,1143 2344.4,1118.4 2354,1143" fill="none" stroke="#EAB839" stroke-width="1.2" stroke-linejoin="round"/>
<rect x="2343.9" y="956.3" width="3.7" height="186.7" fill="#1F78C1"/>
<rect x="2364" y="1135" width="3.5" height="8" fill="#EF843C"/>
<rect x="16.5" y="1206.5" width="1899" height="333" rx="3" fill="#141619" stroke="#202226" stroke-width="1"/>
<text x="966" y="1226" font-size="14" text-anchor="middle" fill="#ccccdc" class="tt" stroke="#ccccdc" stroke-width="0.3" textLength="106.81" lengthAdjust="spacingAndGlyphs">Node CPU Usage</text>
<line x1="62.4" y1="1252.5" x2="1891" y2="1252.5" stroke="rgba(240,250,255,0.15)" stroke-width="1"/>
<text x="56.7" y="1256.7" font-size="12" text-anchor="end" fill="#ccccdc" textLength="23.4" lengthAdjust="spacingAndGlyphs">2.50</text>
<line x1="62.4" y1="1299.5" x2="1891" y2="1299.5" stroke="rgba(240,250,255,0.15)" stroke-width="1"/>
<text x="56.7" y="1303.22" font-size="12" text-anchor="end" fill="#ccccdc" textLength="6.74" lengthAdjust="spacingAndGlyphs">2</text>
<line x1="62.4" y1="1345.5" x2="1891" y2="1345.5" stroke="rgba(240,250,255,0.15)" stroke-width="1"/>
<text x="56.7" y="1349.74" font-size="12" text-anchor="end" fill="#ccccdc" textLength="23.4" lengthAdjust="spacingAndGlyphs">1.50</text>
<line x1="62.4" y1="1392.5" x2="1891" y2="1392.5" stroke="rgba(240,250,255,0.15)" stroke-width="1"/>
<text x="56.7" y="1396.26" font-size="12" text-anchor="end" fill="#ccccdc" textLength="6.74" lengthAdjust="spacingAndGlyphs">1</text>
<line x1="62.4" y1="1438.5" x2="1891" y2="1438.5" stroke="rgba(240,250,255,0.15)" stroke-width="1"/>
<text x="56.7" y="1442.78" font-size="12" text-anchor="end" fill="#ccccdc" textLength="30.14" lengthAdjust="spacingAndGlyphs">0.500</text>
<line x1="62.4" y1="1485.5" x2="1891" y2="1485.5" stroke="rgba(240,250,255,0.15)" stroke-width="1"/>
<text x="56.7" y="1489.3" font-size="12" text-anchor="end" fill="#ccccdc" textLength="6.74" lengthAdjust="spacingAndGlyphs">0</text>
<line x1="68.5" y1="1252.5" x2="68.5" y2="1485" stroke="rgba(240,250,255,0.15)" stroke-width="1"/>
<text x="68.5" y="1503.2" font-size="12" text-anchor="middle" fill="#ccccdc" textLength="29.88" lengthAdjust="spacingAndGlyphs">10:30</text>
<line x1="170.5" y1="1252.5" x2="170.5" y2="1485" stroke="rgba(240,250,255,0.15)" stroke-width="1"/>
<text x="170.08" y="1503.2" font-size="12" text-anchor="middle" fill="#ccccdc" textLength="29.88" lengthAdjust="spacingAndGlyphs">10:40</text>
<line x1="272.5" y1="1252.5" x2="272.5" y2="1485" stroke="rgba(240,250,255,0.15)" stroke-width="1"/>
<text x="271.67" y="1503.2" font-size="12" text-anchor="middle" fill="#ccccdc" textLength="29.88" lengthAdjust="spacingAndGlyphs">10:50</text>
<line x1="373.5" y1="1252.5" x2="373.5" y2="1485" stroke="rgba(240,250,255,0.15)" stroke-width="1"/>
<text x="373.26" y="1503.2" font-size="12" text-anchor="middle" fill="#ccccdc" textLength="29.88" lengthAdjust="spacingAndGlyphs">11:00</text>
<line x1="475.5" y1="1252.5" x2="475.5" y2="1485" stroke="rgba(240,250,255,0.15)" stroke-width="1"/>
<text x="474.85" y="1503.2" font-size="12" text-anchor="middle" fill="#ccccdc" textLength="29.88" lengthAdjust="spacingAndGlyphs">11:10</text>
<line x1="576.5" y1="1252.5" x2="576.5" y2="1485" stroke="rgba(240,250,255,0.15)" stroke-width="1"/>
<text x="576.44" y="1503.2" font-size="12" text-anchor="middle" fill="#ccccdc" textLength="29.88" lengthAdjust="spacingAndGlyphs">11:20</text>
<line x1="678.5" y1="1252.5" x2="678.5" y2="1485" stroke="rgba(240,250,255,0.15)" stroke-width="1"/>
<text x="678.03" y="1503.2" font-size="12" text-anchor="middle" fill="#ccccdc" textLength="29.88" lengthAdjust="spacingAndGlyphs">11:30</text>
<line x1="780.5" y1="1252.5" x2="780.5" y2="1485" stroke="rgba(240,250,255,0.15)" stroke-width="1"/>
<text x="779.62" y="1503.2" font-size="12" text-anchor="middle" fill="#ccccdc" textLength="29.88" lengthAdjust="spacingAndGlyphs">11:40</text>
<line x1="881.5" y1="1252.5" x2="881.5" y2="1485" stroke="rgba(240,250,255,0.15)" stroke-width="1"/>
<text x="881.21" y="1503.2" font-size="12" text-anchor="middle" fill="#ccccdc" textLength="29.88" lengthAdjust="spacingAndGlyphs">11:50</text>
<line x1="983.5" y1="1252.5" x2="983.5" y2="1485" stroke="rgba(240,250,255,0.15)" stroke-width="1"/>
<text x="982.8" y="1503.2" font-size="12" text-anchor="middle" fill="#ccccdc" textLength="29.88" lengthAdjust="spacingAndGlyphs">12:00</text>
<line x1="1084.5" y1="1252.5" x2="1084.5" y2="1485" stroke="rgba(240,250,255,0.15)" stroke-width="1"/>
<text x="1084.38" y="1503.2" font-size="12" text-anchor="middle" fill="#ccccdc" textLength="29.88" lengthAdjust="spacingAndGlyphs">12:10</text>
<line x1="1186.5" y1="1252.5" x2="1186.5" y2="1485" stroke="rgba(240,250,255,0.15)" stroke-width="1"/>
<text x="1185.97" y="1503.2" font-size="12" text-anchor="middle" fill="#ccccdc" textLength="29.88" lengthAdjust="spacingAndGlyphs">12:20</text>
<line x1="1288.5" y1="1252.5" x2="1288.5" y2="1485" stroke="rgba(240,250,255,0.15)" stroke-width="1"/>
<text x="1287.56" y="1503.2" font-size="12" text-anchor="middle" fill="#ccccdc" textLength="29.88" lengthAdjust="spacingAndGlyphs">12:30</text>
<line x1="1389.5" y1="1252.5" x2="1389.5" y2="1485" stroke="rgba(240,250,255,0.15)" stroke-width="1"/>
<text x="1389.15" y="1503.2" font-size="12" text-anchor="middle" fill="#ccccdc" textLength="29.88" lengthAdjust="spacingAndGlyphs">12:40</text>
<line x1="1491.5" y1="1252.5" x2="1491.5" y2="1485" stroke="rgba(240,250,255,0.15)" stroke-width="1"/>
<text x="1490.74" y="1503.2" font-size="12" text-anchor="middle" fill="#ccccdc" textLength="29.88" lengthAdjust="spacingAndGlyphs">12:50</text>
<line x1="1592.5" y1="1252.5" x2="1592.5" y2="1485" stroke="rgba(240,250,255,0.15)" stroke-width="1"/>
<text x="1592.33" y="1503.2" font-size="12" text-anchor="middle" fill="#ccccdc" textLength="29.88" lengthAdjust="spacingAndGlyphs">13:00</text>
<line x1="1694.5" y1="1252.5" x2="1694.5" y2="1485" stroke="rgba(240,250,255,0.15)" stroke-width="1"/>
<text x="1693.92" y="1503.2" font-size="12" text-anchor="middle" fill="#ccccdc" textLength="29.88" lengthAdjust="spacingAndGlyphs">13:10</text>
<line x1="1796.5" y1="1252.5" x2="1796.5" y2="1485" stroke="rgba(240,250,255,0.15)" stroke-width="1"/>
<text x="1795.51" y="1503.2" font-size="12" text-anchor="middle" fill="#ccccdc" textLength="29.88" lengthAdjust="spacingAndGlyphs">13:20</text>
<rect x="35" y="1520.5" width="14.5" height="4" rx="1" fill="#7EB26D"/>
<text x="56.8" y="1525.9" font-size="12" text-anchor="start" fill="#ccccdc" textLength="172.79" lengthAdjust="spacingAndGlyphs">CPU Usage Rate [minio-01:9000]</text>
<rect x="240.09" y="1520.5" width="14.5" height="4" rx="1" fill="#EAB839"/>
<text x="261.89" y="1525.9" font-size="12" text-anchor="start" fill="#ccccdc" textLength="172.79" lengthAdjust="spacingAndGlyphs">CPU Usage Rate [minio-02:9000]</text>
<rect x="445.18" y="1520.5" width="14.5" height="4" rx="1" fill="#6ED0E0"/>
<text x="466.98" y="1525.9" font-size="12" text-anchor="start" fill="#ccccdc" textLength="172.79" lengthAdjust="spacingAndGlyphs">CPU Usage Rate [minio-03:9000]</text>
<rect x="650.27" y="1520.5" width="14.5" height="4" rx="1" fill="#EF843C"/>
<text x="672.07" y="1525.9" font-size="12" text-anchor="start" fill="#ccccdc" textLength="172.79" lengthAdjust="spacingAndGlyphs">CPU Usage Rate [minio-04:9000]</text>
<rect x="64.4" y="1481.5" width="1.6" height="3.5" fill="#7EB26D"/>
<rect x="74.5" y="1481" width="1.6" height="4" fill="#7EB26D"/>
<rect x="84.6" y="1482" width="1.6" height="3" fill="#7EB26D"/>
<rect x="94.7" y="1481.5" width="1.6" height="3.5" fill="#EF843C"/>
<rect x="99.7" y="1481" width="1.6" height="4" fill="#6ED0E0"/>
<rect x="104.8" y="1481.5" width="1.6" height="3.5" fill="#EF843C"/>
<rect x="109.8" y="1481.5" width="1.6" height="3.5" fill="#6ED0E0"/>
<rect x="114.9" y="1482" width="1.6" height="3" fill="#6ED0E0"/>
<rect x="119.9" y="1482" width="1.6" height="3" fill="#6ED0E0"/>
<rect x="125" y="1481" width="1.6" height="4" fill="#6ED0E0"/>
<rect x="135.1" y="1481" width="1.6" height="4" fill="#7EB26D"/>
<rect x="140.1" y="1481" width="1.6" height="4" fill="#EF843C"/>
<rect x="145.2" y="1481" width="1.6" height="4" fill="#6ED0E0"/>
<rect x="150.2" y="1482" width="1.6" height="3" fill="#6ED0E0"/>
<rect x="155.3" y="1481.5" width="1.6" height="3.5" fill="#EF843C"/>
<rect x="165.4" y="1481" width="1.6" height="4" fill="#EF843C"/>
<rect x="175.5" y="1481" width="1.6" height="4" fill="#EAB839"/>
<rect x="180.5" y="1481" width="1.6" height="4" fill="#7EB26D"/>
<rect x="185.6" y="1481.5" width="1.6" height="3.5" fill="#7EB26D"/>
<rect x="190.6" y="1482" width="1.6" height="3" fill="#EF843C"/>
<rect x="195.7" y="1481.5" width="1.6" height="3.5" fill="#7EB26D"/>
<rect x="205.8" y="1482" width="1.6" height="3" fill="#EAB839"/>
<rect x="215.9" y="1481" width="1.6" height="4" fill="#7EB26D"/>
<rect x="226" y="1482" width="1.6" height="3" fill="#6ED0E0"/>
<rect x="236.1" y="1482" width="1.6" height="3" fill="#EF843C"/>
<rect x="241.1" y="1482" width="1.6" height="3" fill="#EF843C"/>
<rect x="246.2" y="1482" width="1.6" height="3" fill="#6ED0E0"/>
<rect x="251.2" y="1481" width="1.6" height="4" fill="#EF843C"/>
<rect x="256.3" y="1482" width="1.6" height="3" fill="#6ED0E0"/>
<rect x="261.3" y="1482" width="1.6" height="3" fill="#7EB26D"/>
<rect x="266.4" y="1481" width="1.6" height="4" fill="#7EB26D"/>
<rect x="271.4" y="1481" width="1.6" height="4" fill="#EAB839"/>
<rect x="276.5" y="1481" width="1.6" height="4" fill="#6ED0E0"/>
<rect x="286.6" y="1482" width="1.6" height="3" fill="#6ED0E0"/>
<rect x="296.7" y="1481" width="1.6" height="4" fill="#6ED0E0"/>
<rect x="306.8" y="1481" width="1.6" height="4" fill="#7EB26D"/>
<rect x="316.9" y="1481" width="1.6" height="4" fill="#6ED0E0"/>
<rect x="327" y="1481.5" width="1.6" height="3.5" fill="#EF843C"/>
<rect x="337.1" y="1481" width="1.6" height="4" fill="#EF843C"/>
<rect x="342.1" y="1481" width="1.6" height="4" fill="#EAB839"/>
<rect x="347.2" y="1481" width="1.6" height="4" fill="#7EB26D"/>
<rect x="357.3" y="1481" width="1.6" height="4" fill="#6ED0E0"/>
<rect x="362.3" y="1481" width="1.6" height="4" fill="#EF843C"/>
<rect x="367.4" y="1481" width="1.6" height="4" fill="#EAB839"/>
<rect x="377.5" y="1481" width="1.6" height="4" fill="#EF843C"/>
<rect x="387.6" y="1481.5" width="1.6" height="3.5" fill="#EF843C"/>
<rect x="397.7" y="1481" width="1.6" height="4" fill="#EF843C"/>
<rect x="407.8" y="1481" width="1.6" height="4" fill="#EF843C"/>
<rect x="417.9" y="1482" width="1.6" height="3" fill="#6ED0E0"/>
<rect x="422.9" y="1481" width="1.6" height="4" fill="#6ED0E0"/>
<rect x="428" y="1481" width="1.6" height="4" fill="#EF843C"/>
<rect x="438.1" y="1481" width="1.6" height="4" fill="#6ED0E0"/>
<rect x="448.2" y="1481" width="1.6" height="4" fill="#EF843C"/>
<rect x="458.3" y="1481" width="1.6" height="4" fill="#EF843C"/>
<rect x="468.4" y="1481.5" width="1.6" height="3.5" fill="#6ED0E0"/>
<rect x="478.5" y="1481.5" width="1.6" height="3.5" fill="#EAB839"/>
<rect x="488.6" y="1481" width="1.6" height="4" fill="#6ED0E0"/>
<rect x="498.7" y="1482" width="1.6" height="3" fill="#EF843C"/>
<rect x="508.8" y="1481" width="1.6" height="4" fill="#7EB26D"/>
<rect x="518.9" y="1481" width="1.6" height="4" fill="#6ED0E0"/>
<rect x="529" y="1481" width="1.6" height="4" fill="#6ED0E0"/>
<rect x="539.1" y="1481" width="1.6" height="4" fill="#7EB26D"/>
<rect x="549.2" y="1482" width="1.6" height="3" fill="#6ED0E0"/>
<rect x="559.3" y="1481.5" width="1.6" height="3.5" fill="#EAB839"/>
<rect x="569.4" y="1481.5" width="1.6" height="3.5" fill="#7EB26D"/>
<rect x="579.5" y="1482" width="1.6" height="3" fill="#EF843C"/>
<rect x="589.6" y="1481.5" width="1.6" height="3.5" fill="#7EB26D"/>
<rect x="599.7" y="1481" width="1.6" height="4" fill="#EF843C"/>
<rect x="604.7" y="1481" width="1.6" height="4" fill="#EF843C"/>
<rect x="609.8" y="1481" width="1.6" height="4" fill="#EF843C"/>
<rect x="614.8" y="1481" width="1.6" height="4" fill="#7EB26D"/>
<rect x="619.9" y="1481.5" width="1.6" height="3.5" fill="#EF843C"/>
<rect x="630" y="1481" width="1.6" height="4" fill="#6ED0E0"/>
<rect x="640.1" y="1481.5" width="1.6" height="3.5" fill="#EAB839"/>
<rect x="645.1" y="1481" width="1.6" height="4" fill="#6ED0E0"/>
<rect x="650.2" y="1481" width="1.6" height="4" fill="#EAB839"/>
<rect x="660.3" y="1481" width="1.6" height="4" fill="#6ED0E0"/>
<rect x="670.4" y="1482" width="1.6" height="3" fill="#6ED0E0"/>
<rect x="680.5" y="1481.5" width="1.6" height="3.5" fill="#EAB839"/>
<rect x="690.6" y="1482" width="1.6" height="3" fill="#7EB26D"/>
<rect x="695.6" y="1481" width="1.6" height="4" fill="#6ED0E0"/>
<rect x="700.7" y="1481" width="1.6" height="4" fill="#6ED0E0"/>
<rect x="710.8" y="1481" width="1.6" height="4" fill="#6ED0E0"/>
<rect x="720.9" y="1482" width="1.6" height="3" fill="#7EB26D"/>
<rect x="731" y="1481" width="1.6" height="4" fill="#6ED0E0"/>
<rect x="741.1" y="1481" width="1.6" height="4" fill="#6ED0E0"/>
<rect x="746.1" y="1481.5" width="1.6" height="3.5" fill="#6ED0E0"/>
<rect x="751.2" y="1482" width="1.6" height="3" fill="#EAB839"/>
<rect x="761.3" y="1481" width="1.6" height="4" fill="#6ED0E0"/>
<rect x="771.4" y="1481" width="1.6" height="4" fill="#6ED0E0"/>
<rect x="781.5" y="1481" width="1.6" height="4" fill="#6ED0E0"/>
<rect x="786.5" y="1481" width="1.6" height="4" fill="#6ED0E0"/>
<rect x="791.6" y="1481" width="1.6" height="4" fill="#6ED0E0"/>
<rect x="796.6" y="1482" width="1.6" height="3" fill="#EF843C"/>
<rect x="801.7" y="1482" width="1.6" height="3" fill="#6ED0E0"/>
<rect x="811.8" y="1482" width="1.6" height="3" fill="#6ED0E0"/>
<rect x="821.9" y="1482" width="1.6" height="3" fill="#6ED0E0"/>
<rect x="826.9" y="1481" width="1.6" height="4" fill="#EAB839"/>
<rect x="832" y="1481" width="1.6" height="4" fill="#6ED0E0"/>
<rect x="842.1" y="1481" width="1.6" height="4" fill="#EF843C"/>
<rect x="852.2" y="1481" width="1.6" height="4" fill="#7EB26D"/>
<rect x="857.2" y="1481" width="1.6" height="4" fill="#EF843C"/>
<rect x="862.3" y="1481" width="1.6" height="4" fill="#EF843C"/>
<rect x="872.4" y="1482" width="1.6" height="3" fill="#6ED0E0"/>
<rect x="882.5" y="1481.5" width="1.6" height="3.5" fill="#6ED0E0"/>
<rect x="887.5" y="1481" width="1.6" height="4" fill="#6ED0E0"/>
<rect x="892.6" y="1481" width="1.6" height="4" fill="#7EB26D"/>
<rect x="897.6" y="1481" width="1.6" height="4" fill="#6ED0E0"/>
<rect x="902.7" y="1481" width="1.6" height="4" fill="#EF843C"/>
<rect x="912.8" y="1481" width="1.6" height="4" fill="#EF843C"/>
<rect x="922.9" y="1481.5" width="1.6" height="3.5" fill="#6ED0E0"/>
<rect x="927.9" y="1481" width="1.6" height="4" fill="#6ED0E0"/>
<rect x="933" y="1481.5" width="1.6" height="3.5" fill="#EF843C"/>
<rect x="943.1" y="1482" width="1.6" height="3" fill="#6ED0E0"/>
<rect x="948.1" y="1481" width="1.6" height="4" fill="#EF843C"/>
<rect x="953.2" y="1481" width="1.6" height="4" fill="#6ED0E0"/>
<rect x="963.3" y="1481" width="1.6" height="4" fill="#EAB839"/>
<rect x="973.4" y="1482" width="1.6" height="3" fill="#EF843C"/>
<rect x="983.5" y="1481.5" width="1.6" height="3.5" fill="#EF843C"/>
<rect x="993.6" y="1482" width="1.6" height="3" fill="#EF843C"/>
<rect x="1003.7" y="1482" width="1.6" height="3" fill="#7EB26D"/>
<rect x="1013.8" y="1482" width="1.6" height="3" fill="#6ED0E0"/>
<rect x="1018.8" y="1482" width="1.6" height="3" fill="#EF843C"/>
<rect x="1023.9" y="1481" width="1.6" height="4" fill="#6ED0E0"/>
<rect x="1034" y="1481" width="1.6" height="4" fill="#7EB26D"/>
<rect x="1044.1" y="1481.5" width="1.6" height="3.5" fill="#6ED0E0"/>
<rect x="1054.2" y="1482" width="1.6" height="3" fill="#EAB839"/>
<rect x="1114.8" y="1481" width="1.6" height="4" fill="#EAB839"/>
<rect x="1124.9" y="1481.5" width="1.6" height="3.5" fill="#6ED0E0"/>
<rect x="1135" y="1481" width="1.6" height="4" fill="#6ED0E0"/>
<rect x="1145.1" y="1481" width="1.6" height="4" fill="#EF843C"/>
<rect x="1150.1" y="1481" width="1.6" height="4" fill="#7EB26D"/>
<rect x="1155.2" y="1481" width="1.6" height="4" fill="#EAB839"/>
<rect x="1165.3" y="1481.5" width="1.6" height="3.5" fill="#EF843C"/>
<rect x="1175.4" y="1481" width="1.6" height="4" fill="#6ED0E0"/>
<rect x="1180.4" y="1481" width="1.6" height="4" fill="#7EB26D"/>
<rect x="1185.5" y="1481.5" width="1.6" height="3.5" fill="#EF843C"/>
<rect x="1195.6" y="1481" width="1.6" height="4" fill="#6ED0E0"/>
<rect x="1205.7" y="1481" width="1.6" height="4" fill="#EAB839"/>
<rect x="1210.7" y="1481.5" width="1.6" height="3.5" fill="#7EB26D"/>
<rect x="1215.8" y="1481.5" width="1.6" height="3.5" fill="#EF843C"/>
<rect x="1225.9" y="1481" width="1.6" height="4" fill="#7EB26D"/>
<rect x="1236" y="1481" width="1.6" height="4" fill="#EAB839"/>
<rect x="1246.1" y="1481" width="1.6" height="4" fill="#7EB26D"/>
<rect x="1251.1" y="1481" width="1.6" height="4" fill="#6ED0E0"/>
<rect x="1256.2" y="1481" width="1.6" height="4" fill="#EF843C"/>
<rect x="1266.3" y="1481.5" width="1.6" height="3.5" fill="#6ED0E0"/>
<rect x="1271.3" y="1481" width="1.6" height="4" fill="#7EB26D"/>
<rect x="1276.4" y="1481" width="1.6" height="4" fill="#EF843C"/>
<rect x="1286.5" y="1481" width="1.6" height="4" fill="#EF843C"/>
<rect x="1296.6" y="1482" width="1.6" height="3" fill="#EF843C"/>
<rect x="1306.7" y="1481" width="1.6" height="4" fill="#6ED0E0"/>
<rect x="1311.7" y="1481" width="1.6" height="4" fill="#6ED0E0"/>
<rect x="1316.8" y="1482" width="1.6" height="3" fill="#6ED0E0"/>
<rect x="1326.9" y="1481.5" width="1.6" height="3.5" fill="#EF843C"/>
<rect x="1337" y="1481.5" width="1.6" height="3.5" fill="#EF843C"/>
<rect x="1347.1" y="1482" width="1.6" height="3" fill="#7EB26D"/>
<rect x="1357.2" y="1482" width="1.6" height="3" fill="#6ED0E0"/>
<rect x="1367.3" y="1481" width="1.6" height="4" fill="#6ED0E0"/>
<rect x="1377.4" y="1482" width="1.6" height="3" fill="#6ED0E0"/>
<rect x="1387.5" y="1481" width="1.6" height="4" fill="#EF843C"/>
<rect x="1397.6" y="1481" width="1.6" height="4" fill="#EF843C"/>
<rect x="1407.7" y="1482" width="1.6" height="3" fill="#6ED0E0"/>
<rect x="1417.8" y="1481" width="1.6" height="4" fill="#EF843C"/>
<rect x="1427.9" y="1482" width="1.6" height="3" fill="#EF843C"/>
<rect x="1432.9" y="1481" width="1.6" height="4" fill="#6ED0E0"/>
<rect x="1438" y="1481" width="1.6" height="4" fill="#6ED0E0"/>
<rect x="1443" y="1481" width="1.6" height="4" fill="#6ED0E0"/>
<rect x="1448.1" y="1482" width="1.6" height="3" fill="#EF843C"/>
<rect x="1458.2" y="1481" width="1.6" height="4" fill="#EAB839"/>
<rect x="1463.2" y="1481" width="1.6" height="4" fill="#6ED0E0"/>
<rect x="1468.3" y="1481" width="1.6" height="4" fill="#EF843C"/>
<rect x="1478.4" y="1481" width="1.6" height="4" fill="#6ED0E0"/>
<rect x="1488.5" y="1481" width="1.6" height="4" fill="#EF843C"/>
<rect x="1498.6" y="1481.5" width="1.6" height="3.5" fill="#EF843C"/>
<rect x="1508.7" y="1481" width="1.6" height="4" fill="#6ED0E0"/>
<rect x="1518.8" y="1482" width="1.6" height="3" fill="#6ED0E0"/>
<rect x="1523.8" y="1481.5" width="1.6" height="3.5" fill="#EAB839"/>
<rect x="1528.9" y="1481" width="1.6" height="4" fill="#7EB26D"/>
<rect x="1539" y="1481" width="1.6" height="4" fill="#6ED0E0"/>
<rect x="1549.1" y="1481.5" width="1.6" height="3.5" fill="#EF843C"/>
<rect x="1554.1" y="1482" width="1.6" height="3" fill="#6ED0E0"/>
<rect x="1559.2" y="1481" width="1.6" height="4" fill="#EAB839"/>
<rect x="1569.3" y="1481" width="1.6" height="4" fill="#6ED0E0"/>
<rect x="1579.4" y="1482" width="1.6" height="3" fill="#EF843C"/>
<rect x="1589.5" y="1481" width="1.6" height="4" fill="#6ED0E0"/>
<rect x="1599.6" y="1481" width="1.6" height="4" fill="#6ED0E0"/>
<rect x="1609.7" y="1481" width="1.6" height="4" fill="#EF843C"/>
<rect x="1619.8" y="1481" width="1.6" height="4" fill="#EF843C"/>
<rect x="1629.9" y="1481" width="1.6" height="4" fill="#6ED0E0"/>
<rect x="1640" y="1482" width="1.6" height="3" fill="#6ED0E0"/>
<rect x="1650.1" y="1481" width="1.6" height="4" fill="#6ED0E0"/>
<rect x="1660.2" y="1481.5" width="1.6" height="3.5" fill="#6ED0E0"/>
<rect x="1665.2" y="1481.5" width="1.6" height="3.5" fill="#EF843C"/>
<rect x="1670.3" y="1481.5" width="1.6" height="3.5" fill="#7EB26D"/>
<rect x="1680.4" y="1481" width="1.6" height="4" fill="#EF843C"/>
<rect x="1690.5" y="1481" width="1.6" height="4" fill="#6ED0E0"/>
<rect x="1700.6" y="1481" width="1.6" height="4" fill="#EF843C"/>
<rect x="1705.6" y="1481" width="1.6" height="4" fill="#EAB839"/>
<rect x="1710.7" y="1481" width="1.6" height="4" fill="#EAB839"/>
<rect x="1715.7" y="1482" width="1.6" height="3" fill="#EF843C"/>
<rect x="1720.8" y="1482" width="1.6" height="3" fill="#6ED0E0"/>
<rect x="1730.9" y="1481.5" width="1.6" height="3.5" fill="#EF843C"/>
<rect x="1741" y="1481.5" width="1.6" height="3.5" fill="#6ED0E0"/>
<rect x="1746" y="1481.5" width="1.6" height="3.5" fill="#EAB839"/>
<rect x="1751.1" y="1481" width="1.6" height="4" fill="#EAB839"/>
<rect x="1761.2" y="1481" width="1.6" height="4" fill="#7EB26D"/>
<rect x="1771.3" y="1481" width="1.6" height="4" fill="#6ED0E0"/>
<rect x="1781.4" y="1482" width="1.6" height="3" fill="#7EB26D"/>
<rect x="1791.5" y="1481.5" width="1.6" height="3.5" fill="#EF843C"/>
<rect x="1801.6" y="1482" width="1.6" height="3" fill="#EF843C"/>
<rect x="1811.7" y="1481" width="1.6" height="4" fill="#EF843C"/>
<rect x="1821.8" y="1482" width="1.6" height="3" fill="#6ED0E0"/>
<rect x="1831.9" y="1481" width="1.6" height="4" fill="#6ED0E0"/>
<rect x="1842" y="1481.5" width="1.6" height="3.5" fill="#6ED0E0"/>
<rect x="1852.1" y="1481" width="1.6" height="4" fill="#6ED0E0"/>
<rect x="1857.1" y="1482" width="1.6" height="3" fill="#EF843C"/>
<rect x="1862.2" y="1482" width="1.6" height="3" fill="#EF843C"/>
<rect x="1872.3" y="1481" width="1.6" height="4" fill="#6ED0E0"/>
<rect x="1882.4" y="1482" width="1.6" height="3" fill="#EF843C"/>
<rect x="1887.4" y="1481" width="1.6" height="4" fill="#EAB839"/>
<rect x="1170.8" y="1450.5" width="1.8" height="34.5" fill="#EF843C"/>
<rect x="1175.8" y="1265.2" width="1.8" height="219.8" fill="#6ED0E0"/>
<rect x="1924.5" y="1206.5" width="1899" height="333" rx="3" fill="#141619" stroke="#202226" stroke-width="1"/>
<text x="2874" y="1226" font-size="14" text-anchor="middle" fill="#ccccdc" class="tt" stroke="#ccccdc" stroke-width="0.3" textLength="131.38" lengthAdjust="spacingAndGlyphs">Node Memory Usage</text>
<line x1="1985.4" y1="1252.5" x2="3799" y2="1252.5" stroke="rgba(240,250,255,0.15)" stroke-width="1"/>
<text x="1979.7" y="1256.7" font-size="12" text-anchor="end" fill="#ccccdc" textLength="44.08" lengthAdjust="spacingAndGlyphs">334 MiB</text>
<line x1="1985.4" y1="1291.5" x2="3799" y2="1291.5" stroke="rgba(240,250,255,0.15)" stroke-width="1"/>
<text x="1979.7" y="1295.52" font-size="12" text-anchor="end" fill="#ccccdc" textLength="44.08" lengthAdjust="spacingAndGlyphs">286 MiB</text>
<line x1="1985.4" y1="1330.5" x2="3799" y2="1330.5" stroke="rgba(240,250,255,0.15)" stroke-width="1"/>
<text x="1979.7" y="1334.34" font-size="12" text-anchor="end" fill="#ccccdc" textLength="44.08" lengthAdjust="spacingAndGlyphs">238 MiB</text>
<line x1="1985.4" y1="1368.5" x2="3799" y2="1368.5" stroke="rgba(240,250,255,0.15)" stroke-width="1"/>
<text x="1979.7" y="1373.16" font-size="12" text-anchor="end" fill="#ccccdc" textLength="44.08" lengthAdjust="spacingAndGlyphs">191 MiB</text>
<line x1="1985.4" y1="1407.5" x2="3799" y2="1407.5" stroke="rgba(240,250,255,0.15)" stroke-width="1"/>
<text x="1979.7" y="1411.98" font-size="12" text-anchor="end" fill="#ccccdc" textLength="44.08" lengthAdjust="spacingAndGlyphs">143 MiB</text>
<line x1="1985.4" y1="1446.5" x2="3799" y2="1446.5" stroke="rgba(240,250,255,0.15)" stroke-width="1"/>
<text x="1979.7" y="1450.8" font-size="12" text-anchor="end" fill="#ccccdc" textLength="47.25" lengthAdjust="spacingAndGlyphs">95.4 MiB</text>
<line x1="1985.4" y1="1485.5" x2="3799" y2="1485.5" stroke="rgba(240,250,255,0.15)" stroke-width="1"/>
<text x="1979.7" y="1489.62" font-size="12" text-anchor="end" fill="#ccccdc" textLength="47.25" lengthAdjust="spacingAndGlyphs">47.7 MiB</text>
<line x1="1991.5" y1="1252.5" x2="1991.5" y2="1485" stroke="rgba(240,250,255,0.15)" stroke-width="1"/>
<text x="1991.45" y="1503.2" font-size="12" text-anchor="middle" fill="#ccccdc" textLength="29.88" lengthAdjust="spacingAndGlyphs">10:30</text>
<line x1="2092.5" y1="1252.5" x2="2092.5" y2="1485" stroke="rgba(240,250,255,0.15)" stroke-width="1"/>
<text x="2092.2" y="1503.2" font-size="12" text-anchor="middle" fill="#ccccdc" textLength="29.88" lengthAdjust="spacingAndGlyphs">10:40</text>
<line x1="2193.5" y1="1252.5" x2="2193.5" y2="1485" stroke="rgba(240,250,255,0.15)" stroke-width="1"/>
<text x="2192.96" y="1503.2" font-size="12" text-anchor="middle" fill="#ccccdc" textLength="29.88" lengthAdjust="spacingAndGlyphs">10:50</text>
<line x1="2294.5" y1="1252.5" x2="2294.5" y2="1485" stroke="rgba(240,250,255,0.15)" stroke-width="1"/>
<text x="2293.71" y="1503.2" font-size="12" text-anchor="middle" fill="#ccccdc" textLength="29.88" lengthAdjust="spacingAndGlyphs">11:00</text>
<line x1="2394.5" y1="1252.5" x2="2394.5" y2="1485" stroke="rgba(240,250,255,0.15)" stroke-width="1"/>
<text x="2394.47" y="1503.2" font-size="12" text-anchor="middle" fill="#ccccdc" textLength="29.88" lengthAdjust="spacingAndGlyphs">11:10</text>
<line x1="2495.5" y1="1252.5" x2="2495.5" y2="1485" stroke="rgba(240,250,255,0.15)" stroke-width="1"/>
<text x="2495.22" y="1503.2" font-size="12" text-anchor="middle" fill="#ccccdc" textLength="29.88" lengthAdjust="spacingAndGlyphs">11:20</text>
<line x1="2596.5" y1="1252.5" x2="2596.5" y2="1485" stroke="rgba(240,250,255,0.15)" stroke-width="1"/>
<text x="2595.98" y="1503.2" font-size="12" text-anchor="middle" fill="#ccccdc" textLength="29.88" lengthAdjust="spacingAndGlyphs">11:30</text>
<line x1="2697.5" y1="1252.5" x2="2697.5" y2="1485" stroke="rgba(240,250,255,0.15)" stroke-width="1"/>
<text x="2696.73" y="1503.2" font-size="12" text-anchor="middle" fill="#ccccdc" textLength="29.88" lengthAdjust="spacingAndGlyphs">11:40</text>
<line x1="2797.5" y1="1252.5" x2="2797.5" y2="1485" stroke="rgba(240,250,255,0.15)" stroke-width="1"/>
<text x="2797.49" y="1503.2" font-size="12" text-anchor="middle" fill="#ccccdc" textLength="29.88" lengthAdjust="spacingAndGlyphs">11:50</text>
<line x1="2898.5" y1="1252.5" x2="2898.5" y2="1485" stroke="rgba(240,250,255,0.15)" stroke-width="1"/>
<text x="2898.25" y="1503.2" font-size="12" text-anchor="middle" fill="#ccccdc" textLength="29.88" lengthAdjust="spacingAndGlyphs">12:00</text>
<line x1="2999.5" y1="1252.5" x2="2999.5" y2="1485" stroke="rgba(240,250,255,0.15)" stroke-width="1"/>
<text x="2999" y="1503.2" font-size="12" text-anchor="middle" fill="#ccccdc" textLength="29.88" lengthAdjust="spacingAndGlyphs">12:10</text>
<line x1="3100.5" y1="1252.5" x2="3100.5" y2="1485" stroke="rgba(240,250,255,0.15)" stroke-width="1"/>
<text x="3099.76" y="1503.2" font-size="12" text-anchor="middle" fill="#ccccdc" textLength="29.88" lengthAdjust="spacingAndGlyphs">12:20</text>
<line x1="3201.5" y1="1252.5" x2="3201.5" y2="1485" stroke="rgba(240,250,255,0.15)" stroke-width="1"/>
<text x="3200.51" y="1503.2" font-size="12" text-anchor="middle" fill="#ccccdc" textLength="29.88" lengthAdjust="spacingAndGlyphs">12:30</text>
<line x1="3301.5" y1="1252.5" x2="3301.5" y2="1485" stroke="rgba(240,250,255,0.15)" stroke-width="1"/>
<text x="3301.27" y="1503.2" font-size="12" text-anchor="middle" fill="#ccccdc" textLength="29.88" lengthAdjust="spacingAndGlyphs">12:40</text>
<line x1="3402.5" y1="1252.5" x2="3402.5" y2="1485" stroke="rgba(240,250,255,0.15)" stroke-width="1"/>
<text x="3402.02" y="1503.2" font-size="12" text-anchor="middle" fill="#ccccdc" textLength="29.88" lengthAdjust="spacingAndGlyphs">12:50</text>
<line x1="3503.5" y1="1252.5" x2="3503.5" y2="1485" stroke="rgba(240,250,255,0.15)" stroke-width="1"/>
<text x="3502.78" y="1503.2" font-size="12" text-anchor="middle" fill="#ccccdc" textLength="29.88" lengthAdjust="spacingAndGlyphs">13:00</text>
<line x1="3604.5" y1="1252.5" x2="3604.5" y2="1485" stroke="rgba(240,250,255,0.15)" stroke-width="1"/>
<text x="3603.53" y="1503.2" font-size="12" text-anchor="middle" fill="#ccccdc" textLength="29.88" lengthAdjust="spacingAndGlyphs">13:10</text>
<line x1="3704.5" y1="1252.5" x2="3704.5" y2="1485" stroke="rgba(240,250,255,0.15)" stroke-width="1"/>
<text x="3704.29" y="1503.2" font-size="12" text-anchor="middle" fill="#ccccdc" textLength="29.88" lengthAdjust="spacingAndGlyphs">13:20</text>
<rect x="1943" y="1520.5" width="14.5" height="4" rx="1" fill="#7EB26D"/>
<text x="1964.8" y="1525.9" font-size="12" text-anchor="start" fill="#ccccdc" textLength="160" lengthAdjust="spacingAndGlyphs">Memory Used [minio-01:9000]</text>
<rect x="2135.3" y="1520.5" width="14.5" height="4" rx="1" fill="#EAB839"/>
<text x="2157.1" y="1525.9" font-size="12" text-anchor="start" fill="#ccccdc" textLength="160" lengthAdjust="spacingAndGlyphs">Memory Used [minio-02:9000]</text>
<rect x="2327.6" y="1520.5" width="14.5" height="4" rx="1" fill="#6ED0E0"/>
<text x="2349.4" y="1525.9" font-size="12" text-anchor="start" fill="#ccccdc" textLength="160" lengthAdjust="spacingAndGlyphs">Memory Used [minio-03:9000]</text>
<rect x="2519.9" y="1520.5" width="14.5" height="4" rx="1" fill="#EF843C"/>
<text x="2541.7" y="1525.9" font-size="12" text-anchor="start" fill="#ccccdc" textLength="160" lengthAdjust="spacingAndGlyphs">Memory Used [minio-04:9000]</text>
<polygon points="1985.4,1485 1985.4,1366.58 2004.44,1366.58 2006.3,1375.16 2019.35,1375.16 2022.33,1353.91 2045.43,1353.91 2048.04,1372.55 2119.97,1372.55 2122.58,1358.39 2124.44,1358.39 2126.68,1356.52 2162.83,1356.52 2165.43,1353.54 2203.82,1353.54 2206.43,1365.09 2241.09,1365.09 2243.7,1348.32 2283.94,1348.32 2286.55,1332.3 2304.44,1332.3 2307.05,1368.45 2399.47,1368.45 2402.08,1372.55 2425.56,1372.55 2428.17,1403.11 2442.33,1403.11 2444.94,1410.56 2464.69,1410.56 2466.55,1411.68 2507.55,1411.68 2510.16,1412.42 2591.4,1412.42 2593.26,1406.83 2596.99,1406.83 2599.97,1403.11 2602.58,1403.11 2605.19,1377.02 2688.29,1377.02 2690.16,1384.47 2699.47,1384.47 2701.34,1375.16 2807.55,1375.16 2810.16,1408.7 2865.31,1408.7 2868.77,1409.42 2869.53,1412.44 2970.65,1412.44 2972.54,1396.21 2974.43,1396.21 2975.18,1394.32 2977.07,1394.32 2977.07,1485" fill="#7EB26D" fill-opacity="0.1" stroke="none"/>
<polyline points="1985.4,1366.58 2004.44,1366.58 2006.3,1375.16 2019.35,1375.16 2022.33,1353.91 2045.43,1353.91 2048.04,1372.55 2119.97,1372.55 2122.58,1358.39 2124.44,1358.39 2126.68,1356.52 2162.83,1356.52 2165.43,1353.54 2203.82,1353.54 2206.43,1365.09 2241.09,1365.09 2243.7,1348.32 2283.94,1348.32 2286.55,1332.3 2304.44,1332.3 2307.05,1368.45 2399.47,1368.45 2402.08,1372.55 2425.56,1372.55 2428.17,1403.11 2442.33,1403.11 2444.94,1410.56 2464.69,1410.56 2466.55,1411.68 2507.55,1411.68 2510.16,1412.42 2591.4,1412.42 2593.26,1406.83 2596.99,1406.83 2599.97,1403.11 2602.58,1403.11 2605.19,1377.02 2688.29,1377.02 2690.16,1384.47 2699.47,1384.47 2701.34,1375.16 2807.55,1375.16 2810.16,1408.7 2865.31,1408.7 2868.77,1409.42 2869.53,1412.44 2970.65,1412.44 2972.54,1396.21 2974.43,1396.21 2975.18,1394.32 2977.07,1394.32" fill="none" stroke="#7EB26D" stroke-width="1" stroke-linejoin="round"/>
<polygon points="3004.61,1485 3004.61,1445.26 3010.27,1445.26 3012.16,1411.3 3014.05,1411.3 3015.93,1396.21 3019.7,1396.21 3021.59,1388.66 3034.8,1388.66 3038.57,1371.68 3042.34,1371.68 3044.23,1361.5 3049.89,1361.5 3051.78,1358.48 3061.21,1358.48 3063.1,1339.61 3070.64,1339.61 3072.53,1335.08 3087.62,1335.08 3089.51,1315.84 3106.49,1315.84 3108.38,1312.44 3114.04,1312.44 3115.92,1309.43 3132.9,1309.43 3134.79,1333.95 3153.66,1333.95 3155.54,1352.82 3174.41,1352.82 3176.3,1350.93 3195.16,1350.93 3197.05,1342.63 3214.03,1342.63 3215.92,1384.14 3259.31,1384.14 3261.2,1388.66 3370.62,1388.66 3372.51,1389.8 3438.54,1389.8 3457.41,1393.57 3591.36,1393.57 3597.02,1386.78 3619.66,1386.78 3621.55,1384.89 3642.3,1384.89 3644.18,1374.7 3655.5,1374.7 3659.28,1393.19 3799,1393.19 3799,1485" fill="#7EB26D" fill-opacity="0.1" stroke="none"/>
<polyline points="3004.61,1445.26 3010.27,1445.26 3012.16,1411.3 3014.05,1411.3 3015.93,1396.21 3019.7,1396.21 3021.59,1388.66 3034.8,1388.66 3038.57,1371.68 3042.34,1371.68 3044.23,1361.5 3049.89,1361.5 3051.78,1358.48 3061.21,1358.48 3063.1,1339.61 3070.64,1339.61 3072.53,1335.08 3087.62,1335.08 3089.51,1315.84 3106.49,1315.84 3108.38,1312.44 3114.04,1312.44 3115.92,1309.43 3132.9,1309.43 3134.79,1333.95 3153.66,1333.95 3155.54,1352.82 3174.41,1352.82 3176.3,1350.93 3195.16,1350.93 3197.05,1342.63 3214.03,1342.63 3215.92,1384.14 3259.31,1384.14 3261.2,1388.66 3370.62,1388.66 3372.51,1389.8 3438.54,1389.8 3457.41,1393.57 3591.36,1393.57 3597.02,1386.78 3619.66,1386.78 3621.55,1384.89 3642.3,1384.89 3644.18,1374.7 3655.5,1374.7 3659.28,1393.19 3799,1393.19" fill="none" stroke="#7EB26D" stroke-width="1" stroke-linejoin="round"/>
<polygon points="1985.4,1485 1985.4,1372.17 2021.21,1372.17 2024.94,1358.39 2026.8,1358.39 2028.66,1356.52 2052.89,1356.52 2054.75,1375.9 2153.51,1375.9 2155.37,1381.86 2213.14,1381.86 2215,1382.98 2282.08,1382.98 2283.94,1380 2315.62,1380 2317.48,1378.14 2455.37,1378.14 2457.24,1381.86 2604.44,1381.86 2606.3,1372.55 2705.06,1372.55 2706.93,1363.98 2710.65,1363.98 2712.52,1360.99 2757.24,1360.99 2759.1,1369.57 2798.23,1369.57 2800.09,1378.88 2816.86,1378.88 2818.73,1381.86 2914.05,1382.25 2917.83,1383.76 2977.07,1383.76 2977.07,1485" fill="#EAB839" fill-opacity="0.1" stroke="none"/>
<polyline points="1985.4,1372.17 2021.21,1372.17 2024.94,1358.39 2026.8,1358.39 2028.66,1356.52 2052.89,1356.52 2054.75,1375.9 2153.51,1375.9 2155.37,1381.86 2213.14,1381.86 2215,1382.98 2282.08,1382.98 2283.94,1380 2315.62,1380 2317.48,1378.14 2455.37,1378.14 2457.24,1381.86 2604.44,1381.86 2606.3,1372.55 2705.06,1372.55 2706.93,1363.98 2710.65,1363.98 2712.52,1360.99 2757.24,1360.99 2759.1,1369.57 2798.23,1369.57 2800.09,1378.88 2816.86,1378.88 2818.73,1381.86 2914.05,1382.25 2917.83,1383.76 2977.07,1383.76" fill="none" stroke="#EAB839" stroke-width="1" stroke-linejoin="round"/>
<polygon points="3004.61,1485 3004.61,1452.81 3010.27,1452.81 3012.16,1422.62 3014.05,1422.62 3015.93,1452.81 3019.7,1452.81 3021.59,1445.26 3027.25,1445.26 3029.14,1435.83 3034.8,1435.83 3036.68,1430.17 3087.62,1430.17 3089.51,1354.7 3115.92,1354.7 3117.81,1380.36 3136.68,1380.36 3138.56,1420.74 3155.54,1420.74 3157.43,1428.28 3376.28,1428.28 3378.17,1421.49 3461.18,1421.49 3463.07,1423.38 3580.04,1423.38 3581.93,1419.98 3610.23,1419.98 3614,1406.78 3619.66,1406.78 3621.55,1382.25 3638.52,1382.25 3640.41,1374.7 3681.92,1374.7 3683.8,1373.57 3719.65,1373.57 3721.54,1362.25 3780.02,1362.25 3781.91,1360.36 3799,1360.36 3799,1485" fill="#EAB839" fill-opacity="0.1" stroke="none"/>
<polyline points="3004.61,1452.81 3010.27,1452.81 3012.16,1422.62 3014.05,1422.62 3015.93,1452.81 3019.7,1452.81 3021.59,1445.26 3027.25,1445.26 3029.14,1435.83 3034.8,1435.83 3036.68,1430.17 3087.62,1430.17 3089.51,1354.7 3115.92,1354.7 3117.81,1380.36 3136.68,1380.36 3138.56,1420.74 3155.54,1420.74 3157.43,1428.28 3376.28,1428.28 3378.17,1421.49 3461.18,1421.49 3463.07,1423.38 3580.04,1423.38 3581.93,1419.98 3610.23,1419.98 3614,1406.78 3619.66,1406.78 3621.55,1382.25 3638.52,1382.25 3640.41,1374.7 3681.92,1374.7 3683.8,1373.57 3719.65,1373.57 3721.54,1362.25 3780.02,1362.25 3781.91,1360.36 3799,1360.36" fill="none" stroke="#EAB839" stroke-width="1" stroke-linejoin="round"/>
<polygon points="1985.4,1485 1985.4,1415.4 2155.37,1415.4 2157.24,1422.48 2298.85,1422.48 2300.71,1419.88 2313.76,1419.88 2315.62,1418.01 2377.11,1418.01 2378.98,1417.27 2418.11,1417.27 2419.97,1409.81 2423.7,1409.81 2424.81,1401.24 2427.42,1401.24 2429.29,1374.41 2434.88,1374.41 2436.74,1357.64 2460.96,1357.64 2462.83,1369.57 2496.37,1369.57 2498.23,1372.55 2520.59,1372.55 2522.45,1370.31 2541.09,1370.31 2542.95,1368.82 2582.08,1368.82 2583.94,1367.7 2617.48,1367.7 2619.35,1409.81 2699.47,1409.81 2701.34,1415.03 2820.59,1415.03 2822.45,1422.11 2921.6,1421.87 2923.49,1425.27 2970.65,1425.27 2972.54,1422.62 2977.07,1422.62 2977.07,1485" fill="#6ED0E0" fill-opacity="0.1" stroke="none"/>
<polyline points="1985.4,1415.4 2155.37,1415.4 2157.24,1422.48 2298.85,1422.48 2300.71,1419.88 2313.76,1419.88 2315.62,1418.01 2377.11,1418.01 2378.98,1417.27 2418.11,1417.27 2419.97,1409.81 2423.7,1409.81 2424.81,1401.24 2427.42,1401.24 2429.29,1374.41 2434.88,1374.41 2436.74,1357.64 2460.96,1357.64 2462.83,1369.57 2496.37,1369.57 2498.23,1372.55 2520.59,1372.55 2522.45,1370.31 2541.09,1370.31 2542.95,1368.82 2582.08,1368.82 2583.94,1367.7 2617.48,1367.7 2619.35,1409.81 2699.47,1409.81 2701.34,1415.03 2820.59,1415.03 2822.45,1422.11 2921.6,1421.87 2923.49,1425.27 2970.65,1425.27 2972.54,1422.62 2977.07,1422.62" fill="none" stroke="#6ED0E0" stroke-width="1" stroke-linejoin="round"/>
<polygon points="3004.61,1485 3004.61,1463.38 3010.27,1463.38 3012.16,1403.76 3017.82,1403.76 3019.7,1384.89 3025.36,1384.89 3027.25,1383 3049.89,1383 3051.78,1401.12 3087.62,1401.12 3089.51,1297.35 3097.06,1297.35 3098.94,1279.24 3129.13,1279.24 3131.02,1360.36 3136.68,1360.36 3138.56,1380.36 3149.88,1380.36 3151.77,1387.53 3193.28,1387.53 3195.16,1380.36 3206.48,1380.36 3208.37,1375.46 3212.14,1375.46 3214.03,1367.91 3234.78,1367.91 3236.67,1389.8 3370.62,1389.8 3372.51,1383 3381.94,1383 3383.83,1352.82 3391.37,1352.82 3393.26,1349.05 3408.35,1349.05 3410.24,1344.52 3429.11,1344.52 3430.99,1340.74 3440.43,1340.74 3442.31,1322.63 3449.86,1322.63 3451.75,1308.67 3457.41,1308.67 3459.29,1305.65 3472.5,1305.65 3474.39,1308.29 3491.37,1308.29 3493.25,1329.05 3536.65,1329.05 3538.53,1334.71 3555.51,1334.71 3557.4,1331.31 3566.83,1331.31 3568.72,1326.41 3574.38,1326.41 3576.27,1321.5 3595.13,1321.5 3597.02,1324.52 3615.89,1324.52 3617.77,1329.05 3634.75,1329.05 3636.64,1375.46 3655.5,1375.46 3657.39,1386.02 3789.46,1386.02 3793.23,1370.93 3799,1370.93 3799,1485" fill="#6ED0E0" fill-opacity="0.1" stroke="none"/>
<polyline points="3004.61,1463.38 3010.27,1463.38 3012.16,1403.76 3017.82,1403.76 3019.7,1384.89 3025.36,1384.89 3027.25,1383 3049.89,1383 3051.78,1401.12 3087.62,1401.12 3089.51,1297.35 3097.06,1297.35 3098.94,1279.24 3129.13,1279.24 3131.02,1360.36 3136.68,1360.36 3138.56,1380.36 3149.88,1380.36 3151.77,1387.53 3193.28,1387.53 3195.16,1380.36 3206.48,1380.36 3208.37,1375.46 3212.14,1375.46 3214.03,1367.91 3234.78,1367.91 3236.67,1389.8 3370.62,1389.8 3372.51,1383 3381.94,1383 3383.83,1352.82 3391.37,1352.82 3393.26,1349.05 3408.35,1349.05 3410.24,1344.52 3429.11,1344.52 3430.99,1340.74 3440.43,1340.74 3442.31,1322.63 3449.86,1322.63 3451.75,1308.67 3457.41,1308.67 3459.29,1305.65 3472.5,1305.65 3474.39,1308.29 3491.37,1308.29 3493.25,1329.05 3536.65,1329.05 3538.53,1334.71 3555.51,1334.71 3557.4,1331.31 3566.83,1331.31 3568.72,1326.41 3574.38,1326.41 3576.27,1321.5 3595.13,1321.5 3597.02,1324.52 3615.89,1324.52 3617.77,1329.05 3634.75,1329.05 3636.64,1375.46 3655.5,1375.46 3657.39,1386.02 3789.46,1386.02 3793.23,1370.93 3799,1370.93" fill="none" stroke="#6ED0E0" stroke-width="1" stroke-linejoin="round"/>
<polygon points="1985.4,1485 1985.4,1424.35 2153.51,1424.35 2155.37,1429.19 2283.94,1429.19 2285.81,1426.21 2332.39,1426.21 2334.25,1425.47 2377.11,1425.47 2378.98,1424.72 2453.51,1424.72 2455.37,1428.45 2591.4,1428.45 2593.26,1426.21 2604.44,1426.21 2606.3,1425.47 2686.43,1425.47 2688.29,1404.97 2695.75,1404.97 2697.61,1402.36 2714.38,1402.36 2716.24,1412.42 2755.37,1412.42 2757.24,1417.27 2796.37,1417.27 2798.23,1404.97 2807.55,1404.97 2809.41,1373.29 2816.86,1373.29 2818.73,1370.68 2900.85,1370.55 2902.73,1388.66 2914.05,1388.66 2915.94,1383 2921.6,1383 2923.49,1380.36 2938.58,1380.36 2940.47,1370.93 2977.07,1370.93 2977.07,1485" fill="#EF843C" fill-opacity="0.1" stroke="none"/>
<polyline points="1985.4,1424.35 2153.51,1424.35 2155.37,1429.19 2283.94,1429.19 2285.81,1426.21 2332.39,1426.21 2334.25,1425.47 2377.11,1425.47 2378.98,1424.72 2453.51,1424.72 2455.37,1428.45 2591.4,1428.45 2593.26,1426.21 2604.44,1426.21 2606.3,1425.47 2686.43,1425.47 2688.29,1404.97 2695.75,1404.97 2697.61,1402.36 2714.38,1402.36 2716.24,1412.42 2755.37,1412.42 2757.24,1417.27 2796.37,1417.27 2798.23,1404.97 2807.55,1404.97 2809.41,1373.29 2816.86,1373.29 2818.73,1370.68 2900.85,1370.55 2902.73,1388.66 2914.05,1388.66 2915.94,1383 2921.6,1383 2923.49,1380.36 2938.58,1380.36 2940.47,1370.93 2977.07,1370.93" fill="none" stroke="#EF843C" stroke-width="1" stroke-linejoin="round"/>
<polygon points="3004.61,1485 3004.61,1449.04 3012.16,1449.04 3014.05,1422.62 3017.82,1422.62 3019.7,1407.53 3042.34,1407.53 3044.23,1424.51 3051.78,1424.51 3053.66,1433.19 3083.85,1433.19 3085.74,1369.8 3089.51,1369.8 3091.4,1350.18 3117.81,1350.18 3119.7,1355.84 3134.79,1355.84 3136.68,1433.19 3193.28,1433.19 3195.16,1431.3 3259.31,1431.3 3261.2,1435.08 3374.39,1435.08 3376.28,1432.81 3419.67,1432.81 3421.56,1430.17 3593.25,1430.17 3595.13,1415.83 3642.3,1415.83 3644.18,1425.64 3661.16,1425.64 3663.05,1428.28 3719.65,1428.28 3721.54,1425.64 3799,1425.64 3799,1485" fill="#EF843C" fill-opacity="0.1" stroke="none"/>
<polyline points="3004.61,1449.04 3012.16,1449.04 3014.05,1422.62 3017.82,1422.62 3019.7,1407.53 3042.34,1407.53 3044.23,1424.51 3051.78,1424.51 3053.66,1433.19 3083.85,1433.19 3085.74,1369.8 3089.51,1369.8 3091.4,1350.18 3117.81,1350.18 3119.7,1355.84 3134.79,1355.84 3136.68,1433.19 3193.28,1433.19 3195.16,1431.3 3259.31,1431.3 3261.2,1435.08 3374.39,1435.08 3376.28,1432.81 3419.67,1432.81 3421.56,1430.17 3593.25,1430.17 3595.13,1415.83 3642.3,1415.83 3644.18,1425.64 3661.16,1425.64 3663.05,1428.28 3719.65,1428.28 3721.54,1425.64 3799,1425.64" fill="none" stroke="#EF843C" stroke-width="1" stroke-linejoin="round"/>
<rect x="16.5" y="1548.5" width="1899" height="295" rx="3" fill="#141619" stroke="#202226" stroke-width="1"/>
<text x="966" y="1568" font-size="14" text-anchor="middle" fill="#ccccdc" class="tt" stroke="#ccccdc" stroke-width="0.3" textLength="125.23" lengthAdjust="spacingAndGlyphs">Drive Used Capacity</text>
<line x1="75.1" y1="1594.5" x2="1891" y2="1594.5" stroke="rgba(240,250,255,0.15)" stroke-width="1"/>
<text x="69.4" y="1598.7" font-size="12" text-anchor="end" fill="#ccccdc" textLength="44.94" lengthAdjust="spacingAndGlyphs">2.61 GiB</text>
<line x1="75.1" y1="1643.5" x2="1891" y2="1643.5" stroke="rgba(240,250,255,0.15)" stroke-width="1"/>
<text x="69.4" y="1647.45" font-size="12" text-anchor="end" fill="#ccccdc" textLength="44.94" lengthAdjust="spacingAndGlyphs">2.51 GiB</text>
<line x1="75.1" y1="1692.5" x2="1891" y2="1692.5" stroke="rgba(240,250,255,0.15)" stroke-width="1"/>
<text x="69.4" y="1696.2" font-size="12" text-anchor="end" fill="#ccccdc" textLength="44.94" lengthAdjust="spacingAndGlyphs">2.42 GiB</text>
<line x1="75.1" y1="1740.5" x2="1891" y2="1740.5" stroke="rgba(240,250,255,0.15)" stroke-width="1"/>
<text x="69.4" y="1744.95" font-size="12" text-anchor="end" fill="#ccccdc" textLength="44.94" lengthAdjust="spacingAndGlyphs">2.33 GiB</text>
<line x1="75.1" y1="1789.5" x2="1891" y2="1789.5" stroke="rgba(240,250,255,0.15)" stroke-width="1"/>
<text x="69.4" y="1793.7" font-size="12" text-anchor="end" fill="#ccccdc" textLength="44.94" lengthAdjust="spacingAndGlyphs">2.24 GiB</text>
<line x1="81.5" y1="1594.5" x2="81.5" y2="1789" stroke="rgba(240,250,255,0.15)" stroke-width="1"/>
<text x="81.15" y="1807.2" font-size="12" text-anchor="middle" fill="#ccccdc" textLength="29.88" lengthAdjust="spacingAndGlyphs">10:30</text>
<line x1="182.5" y1="1594.5" x2="182.5" y2="1789" stroke="rgba(240,250,255,0.15)" stroke-width="1"/>
<text x="182.04" y="1807.2" font-size="12" text-anchor="middle" fill="#ccccdc" textLength="29.88" lengthAdjust="spacingAndGlyphs">10:40</text>
<line x1="283.5" y1="1594.5" x2="283.5" y2="1789" stroke="rgba(240,250,255,0.15)" stroke-width="1"/>
<text x="282.92" y="1807.2" font-size="12" text-anchor="middle" fill="#ccccdc" textLength="29.88" lengthAdjust="spacingAndGlyphs">10:50</text>
<line x1="384.5" y1="1594.5" x2="384.5" y2="1789" stroke="rgba(240,250,255,0.15)" stroke-width="1"/>
<text x="383.8" y="1807.2" font-size="12" text-anchor="middle" fill="#ccccdc" textLength="29.88" lengthAdjust="spacingAndGlyphs">11:00</text>
<line x1="485.5" y1="1594.5" x2="485.5" y2="1789" stroke="rgba(240,250,255,0.15)" stroke-width="1"/>
<text x="484.69" y="1807.2" font-size="12" text-anchor="middle" fill="#ccccdc" textLength="29.88" lengthAdjust="spacingAndGlyphs">11:10</text>
<line x1="586.5" y1="1594.5" x2="586.5" y2="1789" stroke="rgba(240,250,255,0.15)" stroke-width="1"/>
<text x="585.57" y="1807.2" font-size="12" text-anchor="middle" fill="#ccccdc" textLength="29.88" lengthAdjust="spacingAndGlyphs">11:20</text>
<line x1="686.5" y1="1594.5" x2="686.5" y2="1789" stroke="rgba(240,250,255,0.15)" stroke-width="1"/>
<text x="686.45" y="1807.2" font-size="12" text-anchor="middle" fill="#ccccdc" textLength="29.88" lengthAdjust="spacingAndGlyphs">11:30</text>
<line x1="787.5" y1="1594.5" x2="787.5" y2="1789" stroke="rgba(240,250,255,0.15)" stroke-width="1"/>
<text x="787.34" y="1807.2" font-size="12" text-anchor="middle" fill="#ccccdc" textLength="29.88" lengthAdjust="spacingAndGlyphs">11:40</text>
<line x1="888.5" y1="1594.5" x2="888.5" y2="1789" stroke="rgba(240,250,255,0.15)" stroke-width="1"/>
<text x="888.22" y="1807.2" font-size="12" text-anchor="middle" fill="#ccccdc" textLength="29.88" lengthAdjust="spacingAndGlyphs">11:50</text>
<line x1="989.5" y1="1594.5" x2="989.5" y2="1789" stroke="rgba(240,250,255,0.15)" stroke-width="1"/>
<text x="989.1" y="1807.2" font-size="12" text-anchor="middle" fill="#ccccdc" textLength="29.88" lengthAdjust="spacingAndGlyphs">12:00</text>
<line x1="1090.5" y1="1594.5" x2="1090.5" y2="1789" stroke="rgba(240,250,255,0.15)" stroke-width="1"/>
<text x="1089.99" y="1807.2" font-size="12" text-anchor="middle" fill="#ccccdc" textLength="29.88" lengthAdjust="spacingAndGlyphs">12:10</text>
<line x1="1191.5" y1="1594.5" x2="1191.5" y2="1789" stroke="rgba(240,250,255,0.15)" stroke-width="1"/>
<text x="1190.87" y="1807.2" font-size="12" text-anchor="middle" fill="#ccccdc" textLength="29.88" lengthAdjust="spacingAndGlyphs">12:20</text>
<line x1="1292.5" y1="1594.5" x2="1292.5" y2="1789" stroke="rgba(240,250,255,0.15)" stroke-width="1"/>
<text x="1291.75" y="1807.2" font-size="12" text-anchor="middle" fill="#ccccdc" textLength="29.88" lengthAdjust="spacingAndGlyphs">12:30</text>
<line x1="1393.5" y1="1594.5" x2="1393.5" y2="1789" stroke="rgba(240,250,255,0.15)" stroke-width="1"/>
<text x="1392.64" y="1807.2" font-size="12" text-anchor="middle" fill="#ccccdc" textLength="29.88" lengthAdjust="spacingAndGlyphs">12:40</text>
<line x1="1494.5" y1="1594.5" x2="1494.5" y2="1789" stroke="rgba(240,250,255,0.15)" stroke-width="1"/>
<text x="1493.52" y="1807.2" font-size="12" text-anchor="middle" fill="#ccccdc" textLength="29.88" lengthAdjust="spacingAndGlyphs">12:50</text>
<line x1="1594.5" y1="1594.5" x2="1594.5" y2="1789" stroke="rgba(240,250,255,0.15)" stroke-width="1"/>
<text x="1594.4" y="1807.2" font-size="12" text-anchor="middle" fill="#ccccdc" textLength="29.88" lengthAdjust="spacingAndGlyphs">13:00</text>
<line x1="1695.5" y1="1594.5" x2="1695.5" y2="1789" stroke="rgba(240,250,255,0.15)" stroke-width="1"/>
<text x="1695.29" y="1807.2" font-size="12" text-anchor="middle" fill="#ccccdc" textLength="29.88" lengthAdjust="spacingAndGlyphs">13:10</text>
<line x1="1796.5" y1="1594.5" x2="1796.5" y2="1789" stroke="rgba(240,250,255,0.15)" stroke-width="1"/>
<text x="1796.17" y="1807.2" font-size="12" text-anchor="middle" fill="#ccccdc" textLength="29.88" lengthAdjust="spacingAndGlyphs">13:20</text>
<rect x="35" y="1824.5" width="14.5" height="4" rx="1" fill="#7EB26D"/>
<text x="56.8" y="1829.9" font-size="12" text-anchor="start" fill="#ccccdc" textLength="220.1" lengthAdjust="spacingAndGlyphs">Used Capacity [minio-01:9000:/tmp/data]</text>
<rect x="287.4" y="1824.5" width="14.5" height="4" rx="1" fill="#EAB839"/>
<text x="309.2" y="1829.9" font-size="12" text-anchor="start" fill="#ccccdc" textLength="220.1" lengthAdjust="spacingAndGlyphs">Used Capacity [minio-02:9000:/tmp/data]</text>
<rect x="539.79" y="1824.5" width="14.5" height="4" rx="1" fill="#6ED0E0"/>
<text x="561.59" y="1829.9" font-size="12" text-anchor="start" fill="#ccccdc" textLength="220.1" lengthAdjust="spacingAndGlyphs">Used Capacity [minio-03:9000:/tmp/data]</text>
<rect x="792.19" y="1824.5" width="14.5" height="4" rx="1" fill="#EF843C"/>
<text x="813.99" y="1829.9" font-size="12" text-anchor="start" fill="#ccccdc" textLength="220.1" lengthAdjust="spacingAndGlyphs">Used Capacity [minio-04:9000:/tmp/data]</text>
<polygon points="75.1,1789 75.1,1689 1068,1689 1068,1789" fill="#7EB26D" fill-opacity="0.1" stroke="none"/>
<polyline points="75.1,1689 1068,1689" fill="none" stroke="#7EB26D" stroke-width="1.2" stroke-linejoin="round"/>
<polygon points="1096,1789 1096,1696.5 1190,1696.5 1193,1683.4 1196,1696.5 1300,1696.5 1303,1697.3 1891,1697.3 1891,1789" fill="#7EB26D" fill-opacity="0.1" stroke="none"/>
<polyline points="1096,1696.5 1190,1696.5 1193,1683.4 1196,1696.5 1300,1696.5 1303,1697.3 1891,1697.3" fill="none" stroke="#7EB26D" stroke-width="1.2" stroke-linejoin="round"/>
<polygon points="75.1,1789 75.1,1650.7 1068,1650.7 1068,1789" fill="#EAB839" fill-opacity="0.1" stroke="none"/>
<polyline points="75.1,1650.7 1068,1650.7" fill="none" stroke="#EAB839" stroke-width="1.2" stroke-linejoin="round"/>
<polygon points="1096,1789 1096,1657.8 1187.3,1657.8 1190,1645.5 1207,1645.5 1209.5,1657.8 1295.4,1657.8 1298,1659.3 1891,1659.3 1891,1789" fill="#EAB839" fill-opacity="0.1" stroke="none"/>
<polyline points="1096,1657.8 1187.3,1657.8 1190,1645.5 1207,1645.5 1209.5,1657.8 1295.4,1657.8 1298,1659.3 1891,1659.3" fill="none" stroke="#EAB839" stroke-width="1.2" stroke-linejoin="round"/>
<polygon points="75.1,1789 75.1,1768.5 1068,1768.5 1068,1789" fill="#6ED0E0" fill-opacity="0.1" stroke="none"/>
<polyline points="75.1,1768.5 1068,1768.5" fill="none" stroke="#6ED0E0" stroke-width="1.2" stroke-linejoin="round"/>
<polygon points="1096,1789 1096,1776.6 1187,1776.6 1190,1763.6 1199,1763.6 1202,1776.6 1891,1776.6 1891,1789" fill="#6ED0E0" fill-opacity="0.1" stroke="none"/>
<polyline points="1096,1776.6 1187,1776.6 1190,1763.6 1199,1763.6 1202,1776.6 1891,1776.6" fill="none" stroke="#6ED0E0" stroke-width="1.2" stroke-linejoin="round"/>
<polygon points="75.1,1789 75.1,1658.5 1068,1658.5 1068,1789" fill="#EF843C" fill-opacity="0.1" stroke="none"/>
<polyline points="75.1,1658.5 1068,1658.5" fill="none" stroke="#EF843C" stroke-width="1.2" stroke-linejoin="round"/>
<polygon points="1096,1789 1096,1666.7 1190,1666.7 1193,1653.7 1196,1666.7 1891,1666.7 1891,1789" fill="#EF843C" fill-opacity="0.1" stroke="none"/>
<polyline points="1096,1666.7 1190,1666.7 1193,1653.7 1196,1666.7 1891,1666.7" fill="none" stroke="#EF843C" stroke-width="1.2" stroke-linejoin="round"/>
<rect x="1924.5" y="1548.5" width="1899" height="295" rx="3" fill="#141619" stroke="#202226" stroke-width="1"/>
<text x="2874" y="1568" font-size="14" text-anchor="middle" fill="#ccccdc" class="tt" stroke="#ccccdc" stroke-width="0.3" textLength="115.83" lengthAdjust="spacingAndGlyphs">Drives Free Inodes</text>
<line x1="2011.5" y1="1594.5" x2="3799" y2="1594.5" stroke="rgba(240,250,255,0.15)" stroke-width="1"/>
<text x="2005.8" y="1598.7" font-size="12" text-anchor="end" fill="#ccccdc" textLength="74.19" lengthAdjust="spacingAndGlyphs">25000000000</text>
<line x1="2011.5" y1="1633.5" x2="3799" y2="1633.5" stroke="rgba(240,250,255,0.15)" stroke-width="1"/>
<text x="2005.8" y="1637.7" font-size="12" text-anchor="end" fill="#ccccdc" textLength="74.19" lengthAdjust="spacingAndGlyphs">20000000000</text>
<line x1="2011.5" y1="1672.5" x2="3799" y2="1672.5" stroke="rgba(240,250,255,0.15)" stroke-width="1"/>
<text x="2005.8" y="1676.7" font-size="12" text-anchor="end" fill="#ccccdc" textLength="74.19" lengthAdjust="spacingAndGlyphs">15000000000</text>
<line x1="2011.5" y1="1711.5" x2="3799" y2="1711.5" stroke="rgba(240,250,255,0.15)" stroke-width="1"/>
<text x="2005.8" y="1715.7" font-size="12" text-anchor="end" fill="#ccccdc" textLength="74.19" lengthAdjust="spacingAndGlyphs">10000000000</text>
<line x1="2011.5" y1="1750.5" x2="3799" y2="1750.5" stroke="rgba(240,250,255,0.15)" stroke-width="1"/>
<text x="2005.8" y="1754.7" font-size="12" text-anchor="end" fill="#ccccdc" textLength="67.45" lengthAdjust="spacingAndGlyphs">5000000000</text>
<line x1="2011.5" y1="1789.5" x2="3799" y2="1789.5" stroke="rgba(240,250,255,0.15)" stroke-width="1"/>
<text x="2005.8" y="1793.7" font-size="12" text-anchor="end" fill="#ccccdc" textLength="6.74" lengthAdjust="spacingAndGlyphs">0</text>
<line x1="2017.5" y1="1594.5" x2="2017.5" y2="1789" stroke="rgba(240,250,255,0.15)" stroke-width="1"/>
<text x="2017.46" y="1807.2" font-size="12" text-anchor="middle" fill="#ccccdc" textLength="29.88" lengthAdjust="spacingAndGlyphs">10:30</text>
<line x1="2117.5" y1="1594.5" x2="2117.5" y2="1789" stroke="rgba(240,250,255,0.15)" stroke-width="1"/>
<text x="2116.76" y="1807.2" font-size="12" text-anchor="middle" fill="#ccccdc" textLength="29.88" lengthAdjust="spacingAndGlyphs">10:40</text>
<line x1="2216.5" y1="1594.5" x2="2216.5" y2="1789" stroke="rgba(240,250,255,0.15)" stroke-width="1"/>
<text x="2216.07" y="1807.2" font-size="12" text-anchor="middle" fill="#ccccdc" textLength="29.88" lengthAdjust="spacingAndGlyphs">10:50</text>
<line x1="2315.5" y1="1594.5" x2="2315.5" y2="1789" stroke="rgba(240,250,255,0.15)" stroke-width="1"/>
<text x="2315.38" y="1807.2" font-size="12" text-anchor="middle" fill="#ccccdc" textLength="29.88" lengthAdjust="spacingAndGlyphs">11:00</text>
<line x1="2415.5" y1="1594.5" x2="2415.5" y2="1789" stroke="rgba(240,250,255,0.15)" stroke-width="1"/>
<text x="2414.68" y="1807.2" font-size="12" text-anchor="middle" fill="#ccccdc" textLength="29.88" lengthAdjust="spacingAndGlyphs">11:10</text>
<line x1="2514.5" y1="1594.5" x2="2514.5" y2="1789" stroke="rgba(240,250,255,0.15)" stroke-width="1"/>
<text x="2513.99" y="1807.2" font-size="12" text-anchor="middle" fill="#ccccdc" textLength="29.88" lengthAdjust="spacingAndGlyphs">11:20</text>
<line x1="2613.5" y1="1594.5" x2="2613.5" y2="1789" stroke="rgba(240,250,255,0.15)" stroke-width="1"/>
<text x="2613.29" y="1807.2" font-size="12" text-anchor="middle" fill="#ccccdc" textLength="29.88" lengthAdjust="spacingAndGlyphs">11:30</text>
<line x1="2713.5" y1="1594.5" x2="2713.5" y2="1789" stroke="rgba(240,250,255,0.15)" stroke-width="1"/>
<text x="2712.6" y="1807.2" font-size="12" text-anchor="middle" fill="#ccccdc" textLength="29.88" lengthAdjust="spacingAndGlyphs">11:40</text>
<line x1="2812.5" y1="1594.5" x2="2812.5" y2="1789" stroke="rgba(240,250,255,0.15)" stroke-width="1"/>
<text x="2811.9" y="1807.2" font-size="12" text-anchor="middle" fill="#ccccdc" textLength="29.88" lengthAdjust="spacingAndGlyphs">11:50</text>
<line x1="2911.5" y1="1594.5" x2="2911.5" y2="1789" stroke="rgba(240,250,255,0.15)" stroke-width="1"/>
<text x="2911.21" y="1807.2" font-size="12" text-anchor="middle" fill="#ccccdc" textLength="29.88" lengthAdjust="spacingAndGlyphs">12:00</text>
<line x1="3011.5" y1="1594.5" x2="3011.5" y2="1789" stroke="rgba(240,250,255,0.15)" stroke-width="1"/>
<text x="3010.51" y="1807.2" font-size="12" text-anchor="middle" fill="#ccccdc" textLength="29.88" lengthAdjust="spacingAndGlyphs">12:10</text>
<line x1="3110.5" y1="1594.5" x2="3110.5" y2="1789" stroke="rgba(240,250,255,0.15)" stroke-width="1"/>
<text x="3109.82" y="1807.2" font-size="12" text-anchor="middle" fill="#ccccdc" textLength="29.88" lengthAdjust="spacingAndGlyphs">12:20</text>
<line x1="3209.5" y1="1594.5" x2="3209.5" y2="1789" stroke="rgba(240,250,255,0.15)" stroke-width="1"/>
<text x="3209.12" y="1807.2" font-size="12" text-anchor="middle" fill="#ccccdc" textLength="29.88" lengthAdjust="spacingAndGlyphs">12:30</text>
<line x1="3308.5" y1="1594.5" x2="3308.5" y2="1789" stroke="rgba(240,250,255,0.15)" stroke-width="1"/>
<text x="3308.43" y="1807.2" font-size="12" text-anchor="middle" fill="#ccccdc" textLength="29.88" lengthAdjust="spacingAndGlyphs">12:40</text>
<line x1="3408.5" y1="1594.5" x2="3408.5" y2="1789" stroke="rgba(240,250,255,0.15)" stroke-width="1"/>
<text x="3407.74" y="1807.2" font-size="12" text-anchor="middle" fill="#ccccdc" textLength="29.88" lengthAdjust="spacingAndGlyphs">12:50</text>
<line x1="3507.5" y1="1594.5" x2="3507.5" y2="1789" stroke="rgba(240,250,255,0.15)" stroke-width="1"/>
<text x="3507.04" y="1807.2" font-size="12" text-anchor="middle" fill="#ccccdc" textLength="29.88" lengthAdjust="spacingAndGlyphs">13:00</text>
<line x1="3606.5" y1="1594.5" x2="3606.5" y2="1789" stroke="rgba(240,250,255,0.15)" stroke-width="1"/>
<text x="3606.35" y="1807.2" font-size="12" text-anchor="middle" fill="#ccccdc" textLength="29.88" lengthAdjust="spacingAndGlyphs">13:10</text>
<line x1="3706.5" y1="1594.5" x2="3706.5" y2="1789" stroke="rgba(240,250,255,0.15)" stroke-width="1"/>
<text x="3705.65" y="1807.2" font-size="12" text-anchor="middle" fill="#ccccdc" textLength="29.88" lengthAdjust="spacingAndGlyphs">13:20</text>
<rect x="1943" y="1824.5" width="14.5" height="4" rx="1" fill="#7EB26D"/>
<text x="1964.8" y="1829.9" font-size="12" text-anchor="start" fill="#ccccdc" textLength="205.81" lengthAdjust="spacingAndGlyphs">Free Inodes [minio-01:9000:/tmp/data]</text>
<rect x="2181.11" y="1824.5" width="14.5" height="4" rx="1" fill="#EAB839"/>
<text x="2202.91" y="1829.9" font-size="12" text-anchor="start" fill="#ccccdc" textLength="205.81" lengthAdjust="spacingAndGlyphs">Free Inodes [minio-02:9000:/tmp/data]</text>
<rect x="2419.21" y="1824.5" width="14.5" height="4" rx="1" fill="#6ED0E0"/>
<text x="2441.01" y="1829.9" font-size="12" text-anchor="start" fill="#ccccdc" textLength="205.81" lengthAdjust="spacingAndGlyphs">Free Inodes [minio-03:9000:/tmp/data]</text>
<rect x="2657.32" y="1824.5" width="14.5" height="4" rx="1" fill="#EF843C"/>
<text x="2679.12" y="1829.9" font-size="12" text-anchor="start" fill="#ccccdc" textLength="205.81" lengthAdjust="spacingAndGlyphs">Free Inodes [minio-04:9000:/tmp/data]</text>
<polygon points="2011.5,1789 2011.5,1608 2988.8,1608 2988.8,1789" fill="#7EB26D" fill-opacity="0.1" stroke="none"/>
<polyline points="2011.5,1608 2988.8,1608" fill="none" stroke="#7EB26D" stroke-width="1.2" stroke-linejoin="round"/>
<polygon points="2011.5,1789 2011.5,1608 2988.8,1608 2988.8,1789" fill="#EAB839" fill-opacity="0.1" stroke="none"/>
<polyline points="2011.5,1608 2988.8,1608" fill="none" stroke="#EAB839" stroke-width="1.2" stroke-linejoin="round"/>
<polygon points="2011.5,1789 2011.5,1608.5 2988.8,1608.5 2988.8,1789" fill="#EF843C" fill-opacity="0.1" stroke="none"/>
<polyline points="2011.5,1608.5 2988.8,1608.5" fill="none" stroke="#EF843C" stroke-width="1.2" stroke-linejoin="round"/>
<polygon points="2011.5,1789 2011.5,1607.1 2988.8,1607.1 2988.8,1789" fill="#6ED0E0" fill-opacity="0.1" stroke="none"/>
<polyline points="2011.5,1607.1 2988.8,1607.1" fill="none" stroke="#6ED0E0" stroke-width="1.2" stroke-linejoin="round"/>
<polyline points="3015.9,1789 3799,1789" fill="none" stroke="#7EB26D" stroke-width="1.5" stroke-linejoin="round"/>
<polyline points="3015.9,1789 3799,1789" fill="none" stroke="#EAB839" stroke-width="1.5" stroke-linejoin="round"/>
<polyline points="3015.9,1789 3799,1789" fill="none" stroke="#6ED0E0" stroke-width="1.5" stroke-linejoin="round"/>
<polyline points="3015.9,1789 3799,1789" fill="none" stroke="#EF843C" stroke-width="1.5" stroke-linejoin="round"/>
<rect x="16.5" y="1852.5" width="1899" height="333" rx="3" fill="#141619" stroke="#202226" stroke-width="1"/>
<text x="966" y="1872" font-size="14" text-anchor="middle" fill="#ccccdc" class="tt" stroke="#ccccdc" stroke-width="0.3" textLength="88.48" lengthAdjust="spacingAndGlyphs">Node Syscalls</text>
<line x1="55.1" y1="1898.5" x2="1891" y2="1898.5" stroke="rgba(240,250,255,0.15)" stroke-width="1"/>
<text x="49.4" y="1902.7" font-size="12" text-anchor="end" fill="#ccccdc" textLength="24" lengthAdjust="spacingAndGlyphs">13 K</text>
<line x1="55.1" y1="1944.5" x2="1891" y2="1944.5" stroke="rgba(240,250,255,0.15)" stroke-width="1"/>
<text x="49.4" y="1949.1" font-size="12" text-anchor="end" fill="#ccccdc" textLength="24" lengthAdjust="spacingAndGlyphs">10 K</text>
<line x1="55.1" y1="1991.5" x2="1891" y2="1991.5" stroke="rgba(240,250,255,0.15)" stroke-width="1"/>
<text x="49.4" y="1995.5" font-size="12" text-anchor="end" fill="#ccccdc" textLength="17.25" lengthAdjust="spacingAndGlyphs">8 K</text>
<line x1="61.5" y1="1898.5" x2="61.5" y2="2011" stroke="rgba(240,250,255,0.15)" stroke-width="1"/>
<line x1="163.5" y1="1898.5" x2="163.5" y2="2011" stroke="rgba(240,250,255,0.15)" stroke-width="1"/>
<line x1="265.5" y1="1898.5" x2="265.5" y2="2011" stroke="rgba(240,250,255,0.15)" stroke-width="1"/>
<line x1="367.5" y1="1898.5" x2="367.5" y2="2011" stroke="rgba(240,250,255,0.15)" stroke-width="1"/>
<line x1="469.5" y1="1898.5" x2="469.5" y2="2011" stroke="rgba(240,250,255,0.15)" stroke-width="1"/>
<line x1="571.5" y1="1898.5" x2="571.5" y2="2011" stroke="rgba(240,250,255,0.15)" stroke-width="1"/>
<line x1="673.5" y1="1898.5" x2="673.5" y2="2011" stroke="rgba(240,250,255,0.15)" stroke-width="1"/>
<line x1="775.5" y1="1898.5" x2="775.5" y2="2011" stroke="rgba(240,250,255,0.15)" stroke-width="1"/>
<line x1="877.5" y1="1898.5" x2="877.5" y2="2011" stroke="rgba(240,250,255,0.15)" stroke-width="1"/>
<line x1="979.5" y1="1898.5" x2="979.5" y2="2011" stroke="rgba(240,250,255,0.15)" stroke-width="1"/>
<line x1="1081.5" y1="1898.5" x2="1081.5" y2="2011" stroke="rgba(240,250,255,0.15)" stroke-width="1"/>
<line x1="1183.5" y1="1898.5" x2="1183.5" y2="2011" stroke="rgba(240,250,255,0.15)" stroke-width="1"/>
<line x1="1285.5" y1="1898.5" x2="1285.5" y2="2011" stroke="rgba(240,250,255,0.15)" stroke-width="1"/>
<line x1="1387.5" y1="1898.5" x2="1387.5" y2="2011" stroke="rgba(240,250,255,0.15)" stroke-width="1"/>
<line x1="1489.5" y1="1898.5" x2="1489.5" y2="2011" stroke="rgba(240,250,255,0.15)" stroke-width="1"/>
<line x1="1591.5" y1="1898.5" x2="1591.5" y2="2011" stroke="rgba(240,250,255,0.15)" stroke-width="1"/>
<line x1="1693.5" y1="1898.5" x2="1693.5" y2="2011" stroke="rgba(240,250,255,0.15)" stroke-width="1"/>
<line x1="1795.5" y1="1898.5" x2="1795.5" y2="2011" stroke="rgba(240,250,255,0.15)" stroke-width="1"/>
<rect x="1173.3" y="1922" width="1.8" height="100" fill="#BA43A9"/>
<rect x="1173.3" y="1921" width="1.8" height="4" fill="#6ED0E0"/>
<rect x="1924.5" y="1852.5" width="1899" height="333" rx="3" fill="#141619" stroke="#202226" stroke-width="1"/>
<text x="2874" y="1872" font-size="14" text-anchor="middle" fill="#ccccdc" class="tt" stroke="#ccccdc" stroke-width="0.3" textLength="134.71" lengthAdjust="spacingAndGlyphs">Node File Descriptors</text>
<line x1="1952.3" y1="1898.5" x2="3799" y2="1898.5" stroke="rgba(240,250,255,0.15)" stroke-width="1"/>
<text x="1946.6" y="1902.7" font-size="12" text-anchor="end" fill="#ccccdc" textLength="13.49" lengthAdjust="spacingAndGlyphs">70</text>
<line x1="1952.3" y1="1931.5" x2="3799" y2="1931.5" stroke="rgba(240,250,255,0.15)" stroke-width="1"/>
<text x="1946.6" y="1935.7" font-size="12" text-anchor="end" fill="#ccccdc" textLength="13.49" lengthAdjust="spacingAndGlyphs">60</text>
<line x1="1952.3" y1="1964.5" x2="3799" y2="1964.5" stroke="rgba(240,250,255,0.15)" stroke-width="1"/>
<text x="1946.6" y="1968.7" font-size="12" text-anchor="end" fill="#ccccdc" textLength="13.49" lengthAdjust="spacingAndGlyphs">50</text>
<line x1="1952.3" y1="1997.5" x2="3799" y2="1997.5" stroke="rgba(240,250,255,0.15)" stroke-width="1"/>
<text x="1946.6" y="2001.7" font-size="12" text-anchor="end" fill="#ccccdc" textLength="13.49" lengthAdjust="spacingAndGlyphs">40</text>
<line x1="1958.5" y1="1898.5" x2="1958.5" y2="2011" stroke="rgba(240,250,255,0.15)" stroke-width="1"/>
<line x1="2061.5" y1="1898.5" x2="2061.5" y2="2011" stroke="rgba(240,250,255,0.15)" stroke-width="1"/>
<line x1="2164.5" y1="1898.5" x2="2164.5" y2="2011" stroke="rgba(240,250,255,0.15)" stroke-width="1"/>
<line x1="2266.5" y1="1898.5" x2="2266.5" y2="2011" stroke="rgba(240,250,255,0.15)" stroke-width="1"/>
<line x1="2369.5" y1="1898.5" x2="2369.5" y2="2011" stroke="rgba(240,250,255,0.15)" stroke-width="1"/>
<line x1="2471.5" y1="1898.5" x2="2471.5" y2="2011" stroke="rgba(240,250,255,0.15)" stroke-width="1"/>
<line x1="2574.5" y1="1898.5" x2="2574.5" y2="2011" stroke="rgba(240,250,255,0.15)" stroke-width="1"/>
<line x1="2677.5" y1="1898.5" x2="2677.5" y2="2011" stroke="rgba(240,250,255,0.15)" stroke-width="1"/>
<line x1="2779.5" y1="1898.5" x2="2779.5" y2="2011" stroke="rgba(240,250,255,0.15)" stroke-width="1"/>
<line x1="2882.5" y1="1898.5" x2="2882.5" y2="2011" stroke="rgba(240,250,255,0.15)" stroke-width="1"/>
<line x1="2984.5" y1="1898.5" x2="2984.5" y2="2011" stroke="rgba(240,250,255,0.15)" stroke-width="1"/>
<line x1="3087.5" y1="1898.5" x2="3087.5" y2="2011" stroke="rgba(240,250,255,0.15)" stroke-width="1"/>
<line x1="3190.5" y1="1898.5" x2="3190.5" y2="2011" stroke="rgba(240,250,255,0.15)" stroke-width="1"/>
<line x1="3292.5" y1="1898.5" x2="3292.5" y2="2011" stroke="rgba(240,250,255,0.15)" stroke-width="1"/>
<line x1="3395.5" y1="1898.5" x2="3395.5" y2="2011" stroke="rgba(240,250,255,0.15)" stroke-width="1"/>
<line x1="3497.5" y1="1898.5" x2="3497.5" y2="2011" stroke="rgba(240,250,255,0.15)" stroke-width="1"/>
<line x1="3600.5" y1="1898.5" x2="3600.5" y2="2011" stroke="rgba(240,250,255,0.15)" stroke-width="1"/>
<line x1="3703.5" y1="1898.5" x2="3703.5" y2="2011" stroke="rgba(240,250,255,0.15)" stroke-width="1"/>
<polygon points="2990.7,2030 2990.7,2030 2991.5,1984.3 2996,1984.3 2997,2030 2997,2030" fill="#EF843C" fill-opacity="0.25" stroke="none"/>
<polyline points="2990.7,2030 2991.5,1984.3 2996,1984.3 2997,2030" fill="none" stroke="#EF843C" stroke-width="1.2" stroke-linejoin="round"/>
<polyline points="2991,1991 2996,1991" fill="none" stroke="#7EB26D" stroke-width="1" stroke-linejoin="round"/>
<polyline points="2991,1998 2996,1998" fill="none" stroke="#6ED0E0" stroke-width="1" stroke-linejoin="round"/>
<polygon points="3003.3,2030 3003.3,2030 3004,1997.4 3008.5,1997.4 3009.2,2030 3009.2,2030" fill="#EAB839" fill-opacity="0.1" stroke="none"/>
<polyline points="3003.3,2030 3004,1997.4 3008.5,1997.4 3009.2,2030" fill="none" stroke="#EAB839" stroke-width="1.2" stroke-linejoin="round"/>
<polygon points="3077.1,2030 3077.1,2030 3077.8,1911.2 3083.2,1911.2 3083.9,2030 3083.9,2030" fill="#6ED0E0" fill-opacity="0.1" stroke="none"/>
<polyline points="3077.1,2030 3077.8,1911.2 3083.2,1911.2 3083.9,2030" fill="none" stroke="#6ED0E0" stroke-width="1.2" stroke-linejoin="round"/>
</svg></body></html>
